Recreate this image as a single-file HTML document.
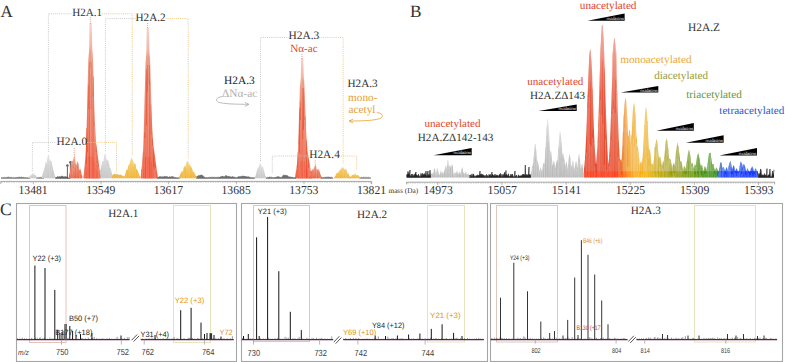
<!DOCTYPE html>
<html><head><meta charset="utf-8"><style>
html,body{margin:0;padding:0;background:#fff;width:785px;height:362px;overflow:hidden}
svg{display:block;text-rendering:geometricPrecision}
</style></head><body>
<svg width="785" height="362" viewBox="0 0 785 362">
<rect width="785" height="362" fill="#fff"/>
<defs><linearGradient id="gR" x1="0" y1="0" x2="0" y2="1"><stop offset="0" stop-color="#f6d2c8"/><stop offset="0.14" stop-color="#f2b8a8"/><stop offset="0.2" stop-color="#ee9e88"/><stop offset="0.4" stop-color="#ea8c74"/><stop offset="0.7" stop-color="#ea8068"/><stop offset="0.88" stop-color="#ec7054"/><stop offset="1" stop-color="#ee6040"/></linearGradient><linearGradient id="gRs" x1="0" y1="0" x2="0" y2="1"><stop offset="0" stop-color="#f2b4a2"/><stop offset="0.5" stop-color="#ee9078"/><stop offset="0.85" stop-color="#ec7458"/><stop offset="1" stop-color="#ee5a3a"/></linearGradient><linearGradient id="gG" x1="0" y1="0" x2="0" y2="1"><stop offset="0" stop-color="#e4e4e4"/><stop offset="0.5" stop-color="#d0d0d0"/><stop offset="1" stop-color="#c2c2c2"/></linearGradient><linearGradient id="gY" x1="0" y1="0" x2="0" y2="1"><stop offset="0" stop-color="#f8dc98"/><stop offset="0.5" stop-color="#f2c050"/><stop offset="1" stop-color="#efae28"/></linearGradient><linearGradient id="bS" gradientUnits="userSpaceOnUse" x1="580" y1="0" x2="760" y2="0"><stop offset="0" stop-color="#fa2a08"/><stop offset="0.2" stop-color="#fc3008"/><stop offset="0.25" stop-color="#ff6a00"/><stop offset="0.3" stop-color="#ffa000"/><stop offset="0.367" stop-color="#f8b000"/><stop offset="0.422" stop-color="#c8a800"/><stop offset="0.5" stop-color="#a09c00"/><stop offset="0.6" stop-color="#6e9400"/><stop offset="0.7" stop-color="#409010"/><stop offset="0.756" stop-color="#389018"/><stop offset="0.772" stop-color="#2060c0"/><stop offset="0.789" stop-color="#1438ff"/><stop offset="1" stop-color="#1438ff"/></linearGradient><linearGradient id="wH" gradientUnits="userSpaceOnUse" x1="600" y1="0" x2="760" y2="0"><stop offset="0" stop-color="#fff" stop-opacity="0"/><stop offset="0.2" stop-color="#fff" stop-opacity="0.1"/><stop offset="0.4" stop-color="#fff" stop-opacity="0.22"/><stop offset="1" stop-color="#fff" stop-opacity="0.25"/></linearGradient><linearGradient id="bH" gradientUnits="userSpaceOnUse" x1="580" y1="0" x2="760" y2="0"><stop offset="0" stop-color="#e4442a"/><stop offset="0.2" stop-color="#e64628"/><stop offset="0.222" stop-color="#ec6024"/><stop offset="0.256" stop-color="#f09a2c"/><stop offset="0.3" stop-color="#f2ae30"/><stop offset="0.367" stop-color="#f0b632"/><stop offset="0.422" stop-color="#d0b030"/><stop offset="0.478" stop-color="#b0a830"/><stop offset="0.544" stop-color="#98a02e"/><stop offset="0.611" stop-color="#7a9e2c"/><stop offset="0.667" stop-color="#5c9a28"/><stop offset="0.756" stop-color="#4a9424"/><stop offset="0.772" stop-color="#3a7060"/><stop offset="0.789" stop-color="#2050e8"/><stop offset="1" stop-color="#1c48f0"/></linearGradient><linearGradient id="wV" gradientUnits="userSpaceOnUse" x1="0" y1="20" x2="0" y2="177"><stop offset="0" stop-color="#fff" stop-opacity="0.6"/><stop offset="0.25" stop-color="#fff" stop-opacity="0.4"/><stop offset="0.45" stop-color="#fff" stop-opacity="0.25"/><stop offset="0.8" stop-color="#fff" stop-opacity="0.1"/><stop offset="1" stop-color="#fff" stop-opacity="0"/></linearGradient></defs>
<line x1="0.60" y1="181.40" x2="371.40" y2="181.40" stroke="#9a9a9a" stroke-width="0.9" />
<line x1="0.80" y1="181.40" x2="0.80" y2="183.80" stroke="#9a9a9a" stroke-width="0.9" />
<line x1="371.20" y1="181.40" x2="371.20" y2="183.80" stroke="#9a9a9a" stroke-width="0.9" />
<line x1="1" y1="182.4" x2="371" y2="182.4" stroke="#b0b0b0" stroke-width="1.2" stroke-dasharray="0.45 1.25"/>
<line x1="33.30" y1="181.40" x2="33.30" y2="184.30" stroke="#999" stroke-width="0.7" />
<text x="18.5" y="194.1" font-family="Liberation Serif" font-size="12.2" fill="#333" text-anchor="start" textLength="29.2" lengthAdjust="spacingAndGlyphs">13481</text>
<line x1="100.98" y1="181.40" x2="100.98" y2="184.30" stroke="#999" stroke-width="0.7" />
<text x="86.18" y="194.1" font-family="Liberation Serif" font-size="12.2" fill="#333" text-anchor="start" textLength="29.2" lengthAdjust="spacingAndGlyphs">13549</text>
<line x1="168.66" y1="181.40" x2="168.66" y2="184.30" stroke="#999" stroke-width="0.7" />
<text x="153.86" y="194.1" font-family="Liberation Serif" font-size="12.2" fill="#333" text-anchor="start" textLength="29.2" lengthAdjust="spacingAndGlyphs">13617</text>
<line x1="236.34" y1="181.40" x2="236.34" y2="184.30" stroke="#999" stroke-width="0.7" />
<text x="221.54000000000002" y="194.1" font-family="Liberation Serif" font-size="12.2" fill="#333" text-anchor="start" textLength="29.2" lengthAdjust="spacingAndGlyphs">13685</text>
<line x1="304.02" y1="181.40" x2="304.02" y2="184.30" stroke="#999" stroke-width="0.7" />
<text x="289.22" y="194.1" font-family="Liberation Serif" font-size="12.2" fill="#333" text-anchor="start" textLength="29.2" lengthAdjust="spacingAndGlyphs">13753</text>
<line x1="371.70" y1="181.40" x2="371.70" y2="184.30" stroke="#999" stroke-width="0.7" />
<text x="356.90000000000003" y="194.1" font-family="Liberation Serif" font-size="12.2" fill="#333" text-anchor="start" textLength="29.2" lengthAdjust="spacingAndGlyphs">13821</text>
<path d="M222.2,96.5 C216.5,97.3 214.8,100.3 218.3,102.2 C223.5,104 237,104.3 248.8,104.3" fill="none" stroke="#aaa" stroke-width="0.8"/>
<path d="M244.9,102.3 L248.8,104.3 L244.9,106.4" fill="none" stroke="#aaa" stroke-width="0.8"/>
<path d="M376.8,112.6 C384,113.5 384,117 379,118.8 C372,120.8 360,121 349.2,121" fill="none" stroke="#e8a030" stroke-width="0.8"/>
<path d="M353.2,119 L349.2,121 L353.2,123" fill="none" stroke="#e8a030" stroke-width="0.8"/>
<polygon points="1.00,178.70 1.00,177.70 1.40,177.62 1.80,177.66 2.20,177.73 2.60,177.53 3.00,177.78 3.40,177.61 3.80,177.65 4.20,177.25 4.60,177.41 5.00,177.72 5.40,177.54 5.80,177.58 6.20,177.55 6.60,177.25 7.00,177.25 7.40,177.24 7.80,177.36 8.20,176.90 8.60,177.07 9.00,177.46 9.40,177.54 9.80,177.27 10.20,177.28 10.60,177.14 11.00,177.71 11.40,177.36 11.80,177.40 12.20,177.63 12.60,177.56 13.00,177.75 13.40,177.39 13.80,177.77 14.20,177.83 14.60,177.59 15.00,177.55 15.40,177.55 15.80,177.57 16.20,177.61 16.60,177.58 17.00,177.08 17.40,177.28 17.80,177.43 18.20,177.01 18.60,177.24 19.00,177.37 19.40,177.04 19.80,177.36 20.20,177.32 20.60,177.24 21.00,177.23 21.40,176.96 21.80,177.08 22.20,177.51 22.60,177.04 23.00,177.56 23.40,177.19 23.80,177.43 24.20,177.36 24.60,177.69 25.00,177.57 25.40,177.62 25.80,177.60 26.20,177.71 26.60,177.69 27.00,177.87 27.40,177.59 27.80,177.76 28.20,177.74 28.60,177.89 29.00,177.87 29.40,177.83 29.80,177.83 30.00,178.70" fill="#666" fill-opacity="0.85" />
<polyline points="1.00,177.70 1.40,177.62 1.80,177.66 2.20,177.73 2.60,177.53 3.00,177.78 3.40,177.61 3.80,177.65 4.20,177.25 4.60,177.41 5.00,177.72 5.40,177.54 5.80,177.58 6.20,177.55 6.60,177.25 7.00,177.25 7.40,177.24 7.80,177.36 8.20,176.90 8.60,177.07 9.00,177.46 9.40,177.54 9.80,177.27 10.20,177.28 10.60,177.14 11.00,177.71 11.40,177.36 11.80,177.40 12.20,177.63 12.60,177.56 13.00,177.75 13.40,177.39 13.80,177.77 14.20,177.83 14.60,177.59 15.00,177.55 15.40,177.55 15.80,177.57 16.20,177.61 16.60,177.58 17.00,177.08 17.40,177.28 17.80,177.43 18.20,177.01 18.60,177.24 19.00,177.37 19.40,177.04 19.80,177.36 20.20,177.32 20.60,177.24 21.00,177.23 21.40,176.96 21.80,177.08 22.20,177.51 22.60,177.04 23.00,177.56 23.40,177.19 23.80,177.43 24.20,177.36 24.60,177.69 25.00,177.57 25.40,177.62 25.80,177.60 26.20,177.71 26.60,177.69 27.00,177.87 27.40,177.59 27.80,177.76 28.20,177.74 28.60,177.89 29.00,177.87 29.40,177.83 29.80,177.83" fill="none" stroke="#666" stroke-width="0.5"/>
<polygon points="36.00,178.70 36.00,177.61 36.40,177.53 36.80,177.58 37.20,177.85 37.60,177.60 38.00,177.36 38.40,177.62 38.80,177.42 39.20,177.37 39.60,177.57 40.00,177.22 40.40,177.29 40.80,177.23 41.20,177.47 41.60,177.28 42.00,177.49 42.40,177.47 42.80,177.63 43.20,177.60 43.60,177.73 44.00,177.48 44.00,178.70" fill="#777" fill-opacity="0.85" />
<polyline points="36.00,177.61 36.40,177.53 36.80,177.58 37.20,177.85 37.60,177.60 38.00,177.36 38.40,177.62 38.80,177.42 39.20,177.37 39.60,177.57 40.00,177.22 40.40,177.29 40.80,177.23 41.20,177.47 41.60,177.28 42.00,177.49 42.40,177.47 42.80,177.63 43.20,177.60 43.60,177.73 44.00,177.48" fill="none" stroke="#777" stroke-width="0.5"/>
<polygon points="55.00,178.70 55.00,177.59 55.40,177.44 55.80,177.34 56.20,177.40 56.60,177.36 57.00,177.08 57.40,176.74 57.80,176.58 58.20,177.10 58.60,176.88 59.00,177.14 59.40,176.53 59.80,176.79 60.20,176.89 60.60,176.98 61.00,176.24 61.40,176.22 61.80,176.44 62.20,176.81 62.60,176.14 63.00,176.33 63.40,177.00 63.80,176.90 64.20,177.03 64.60,176.67 65.00,176.76 65.40,176.36 65.80,177.24 66.20,176.83 66.60,176.98 67.00,177.30 67.40,177.74 67.80,177.75 68.20,177.67 68.60,177.91 69.00,177.72 69.40,177.66 69.80,177.55 70.00,178.70" fill="#444" fill-opacity="0.85" />
<polyline points="55.00,177.59 55.40,177.44 55.80,177.34 56.20,177.40 56.60,177.36 57.00,177.08 57.40,176.74 57.80,176.58 58.20,177.10 58.60,176.88 59.00,177.14 59.40,176.53 59.80,176.79 60.20,176.89 60.60,176.98 61.00,176.24 61.40,176.22 61.80,176.44 62.20,176.81 62.60,176.14 63.00,176.33 63.40,177.00 63.80,176.90 64.20,177.03 64.60,176.67 65.00,176.76 65.40,176.36 65.80,177.24 66.20,176.83 66.60,176.98 67.00,177.30 67.40,177.74 67.80,177.75 68.20,177.67 68.60,177.91 69.00,177.72 69.40,177.66 69.80,177.55" fill="none" stroke="#444" stroke-width="0.5"/>
<polygon points="157.00,178.70 157.00,177.46 157.40,177.45 157.80,177.47 158.20,177.10 158.60,177.19 159.00,176.78 159.40,176.69 159.80,176.79 160.20,176.63 160.60,176.45 161.00,177.14 161.40,176.72 161.80,177.05 162.20,176.73 162.60,176.82 163.00,177.06 163.40,176.79 163.80,176.80 164.20,176.94 164.60,176.26 165.00,176.55 165.40,176.63 165.80,176.30 166.20,176.94 166.60,176.48 167.00,176.82 167.40,176.66 167.80,176.75 168.20,176.97 168.60,177.34 169.00,176.98 169.40,176.82 169.80,176.78 170.20,176.84 170.60,177.10 171.00,176.94 171.40,176.71 171.80,176.53 172.20,176.98 172.60,176.48 173.00,177.00 173.40,176.72 173.80,177.17 174.20,177.21 174.60,177.44 175.00,177.27 175.40,177.46 175.80,177.57 176.20,177.72 176.60,177.69 177.00,177.48 177.40,177.77 177.80,177.82 178.20,177.55 178.60,177.80 179.00,177.76 179.40,177.77 179.50,178.70" fill="#555" fill-opacity="0.85" />
<polyline points="157.00,177.46 157.40,177.45 157.80,177.47 158.20,177.10 158.60,177.19 159.00,176.78 159.40,176.69 159.80,176.79 160.20,176.63 160.60,176.45 161.00,177.14 161.40,176.72 161.80,177.05 162.20,176.73 162.60,176.82 163.00,177.06 163.40,176.79 163.80,176.80 164.20,176.94 164.60,176.26 165.00,176.55 165.40,176.63 165.80,176.30 166.20,176.94 166.60,176.48 167.00,176.82 167.40,176.66 167.80,176.75 168.20,176.97 168.60,177.34 169.00,176.98 169.40,176.82 169.80,176.78 170.20,176.84 170.60,177.10 171.00,176.94 171.40,176.71 171.80,176.53 172.20,176.98 172.60,176.48 173.00,177.00 173.40,176.72 173.80,177.17 174.20,177.21 174.60,177.44 175.00,177.27 175.40,177.46 175.80,177.57 176.20,177.72 176.60,177.69 177.00,177.48 177.40,177.77 177.80,177.82 178.20,177.55 178.60,177.80 179.00,177.76 179.40,177.77" fill="none" stroke="#555" stroke-width="0.5"/>
<polygon points="196.00,178.70 196.00,177.09 196.40,177.12 196.80,176.38 197.20,176.28 197.60,176.28 198.00,176.12 198.40,175.89 198.80,175.31 199.20,175.55 199.60,175.43 200.00,175.83 200.40,175.23 200.80,174.88 201.20,174.98 201.60,175.00 202.00,174.99 202.40,175.80 202.80,176.10 203.20,175.87 203.60,176.66 204.00,177.09 204.40,176.90 204.80,177.26 205.20,177.41 205.60,177.77 206.00,177.42 206.40,177.61 206.80,177.54 207.20,177.54 207.60,177.79 208.00,177.80 208.40,177.49 208.80,177.56 209.20,177.64 209.60,177.13 210.00,177.32 210.40,177.38 210.80,177.25 211.20,177.38 211.60,177.29 212.00,177.38 212.40,177.09 212.80,177.44 213.20,177.23 213.60,177.56 214.00,177.50 214.40,177.15 214.80,177.24 215.20,177.43 215.60,177.44 216.00,177.24 216.40,177.45 216.80,177.32 217.20,177.39 217.60,177.17 218.00,177.22 218.40,177.22 218.80,177.25 219.20,177.23 219.60,177.37 220.00,176.81 220.40,176.89 220.80,176.68 221.20,176.53 221.60,176.63 222.00,176.12 222.40,176.30 222.80,176.26 223.20,176.34 223.60,176.74 224.00,176.96 224.40,176.63 224.80,176.44 225.20,176.17 225.60,175.60 226.00,175.45 226.40,175.77 226.80,175.80 227.20,176.43 227.60,176.48 228.00,176.54 228.40,176.32 228.80,176.02 229.20,176.47 229.60,176.79 230.00,176.52 230.40,176.80 230.80,177.01 231.20,177.04 231.60,176.91 232.00,176.71 232.40,176.74 232.80,176.38 233.20,177.10 233.60,177.10 234.00,176.99 234.40,177.12 234.80,177.27 235.20,177.15 235.60,177.54 236.00,177.44 236.40,177.68 236.80,177.49 237.20,177.28 237.60,177.29 238.00,177.05 238.40,176.76 238.80,176.34 239.20,176.63 239.60,176.85 240.00,176.33 240.40,176.78 240.80,176.40 241.20,176.44 241.60,176.38 242.00,176.53 242.40,175.79 242.80,176.81 243.20,176.34 243.60,175.93 244.00,176.02 244.40,176.44 244.80,176.02 245.20,176.42 245.60,176.78 246.00,176.32 246.40,177.18 246.80,176.56 247.20,176.76 247.60,177.02 248.00,176.76 248.40,176.72 248.80,177.11 249.20,176.83 249.60,177.25 250.00,177.34 250.40,177.66 250.80,177.43 251.20,177.53 251.60,177.64 252.00,177.66 252.40,177.82 252.80,177.59 253.20,177.86 253.60,177.68 254.00,177.87 254.40,177.68 254.80,177.53 255.00,178.70" fill="#555" fill-opacity="0.85" />
<polyline points="196.00,177.09 196.40,177.12 196.80,176.38 197.20,176.28 197.60,176.28 198.00,176.12 198.40,175.89 198.80,175.31 199.20,175.55 199.60,175.43 200.00,175.83 200.40,175.23 200.80,174.88 201.20,174.98 201.60,175.00 202.00,174.99 202.40,175.80 202.80,176.10 203.20,175.87 203.60,176.66 204.00,177.09 204.40,176.90 204.80,177.26 205.20,177.41 205.60,177.77 206.00,177.42 206.40,177.61 206.80,177.54 207.20,177.54 207.60,177.79 208.00,177.80 208.40,177.49 208.80,177.56 209.20,177.64 209.60,177.13 210.00,177.32 210.40,177.38 210.80,177.25 211.20,177.38 211.60,177.29 212.00,177.38 212.40,177.09 212.80,177.44 213.20,177.23 213.60,177.56 214.00,177.50 214.40,177.15 214.80,177.24 215.20,177.43 215.60,177.44 216.00,177.24 216.40,177.45 216.80,177.32 217.20,177.39 217.60,177.17 218.00,177.22 218.40,177.22 218.80,177.25 219.20,177.23 219.60,177.37 220.00,176.81 220.40,176.89 220.80,176.68 221.20,176.53 221.60,176.63 222.00,176.12 222.40,176.30 222.80,176.26 223.20,176.34 223.60,176.74 224.00,176.96 224.40,176.63 224.80,176.44 225.20,176.17 225.60,175.60 226.00,175.45 226.40,175.77 226.80,175.80 227.20,176.43 227.60,176.48 228.00,176.54 228.40,176.32 228.80,176.02 229.20,176.47 229.60,176.79 230.00,176.52 230.40,176.80 230.80,177.01 231.20,177.04 231.60,176.91 232.00,176.71 232.40,176.74 232.80,176.38 233.20,177.10 233.60,177.10 234.00,176.99 234.40,177.12 234.80,177.27 235.20,177.15 235.60,177.54 236.00,177.44 236.40,177.68 236.80,177.49 237.20,177.28 237.60,177.29 238.00,177.05 238.40,176.76 238.80,176.34 239.20,176.63 239.60,176.85 240.00,176.33 240.40,176.78 240.80,176.40 241.20,176.44 241.60,176.38 242.00,176.53 242.40,175.79 242.80,176.81 243.20,176.34 243.60,175.93 244.00,176.02 244.40,176.44 244.80,176.02 245.20,176.42 245.60,176.78 246.00,176.32 246.40,177.18 246.80,176.56 247.20,176.76 247.60,177.02 248.00,176.76 248.40,176.72 248.80,177.11 249.20,176.83 249.60,177.25 250.00,177.34 250.40,177.66 250.80,177.43 251.20,177.53 251.60,177.64 252.00,177.66 252.40,177.82 252.80,177.59 253.20,177.86 253.60,177.68 254.00,177.87 254.40,177.68 254.80,177.53" fill="none" stroke="#555" stroke-width="0.5"/>
<polygon points="266.00,178.70 266.00,177.61 266.40,177.64 266.80,177.69 267.20,177.32 267.60,177.63 268.00,177.55 268.40,177.48 268.80,177.46 269.20,177.17 269.60,177.12 270.00,177.34 270.40,177.18 270.80,177.51 271.20,177.31 271.60,177.18 272.00,177.47 272.40,177.40 272.80,177.79 273.20,177.38 273.60,177.65 274.00,177.60 274.40,177.58 274.80,177.51 275.20,177.35 275.60,177.44 276.00,177.00 276.40,177.17 276.80,176.91 277.20,176.80 277.60,176.73 278.00,176.65 278.40,176.66 278.80,176.71 279.20,177.02 279.60,177.04 280.00,177.40 280.40,177.08 280.80,177.52 281.20,177.49 281.60,177.18 282.00,177.29 282.40,176.84 282.80,175.81 283.20,176.16 283.60,174.78 284.00,175.79 284.40,175.44 284.80,175.28 285.20,174.93 285.60,175.75 286.00,175.71 286.40,175.64 286.80,175.09 287.20,176.00 287.60,175.69 288.00,176.23 288.40,176.74 288.80,176.99 289.20,176.71 289.60,176.89 290.00,176.94 290.40,176.95 290.80,177.32 291.20,177.07 291.60,177.04 292.00,177.53 292.40,177.51 292.80,177.32 293.20,177.33 293.60,177.64 294.00,177.64 294.40,177.68 294.80,177.53 295.20,177.86 295.60,177.80 296.00,177.74 296.00,178.70" fill="#555" fill-opacity="0.85" />
<polyline points="266.00,177.61 266.40,177.64 266.80,177.69 267.20,177.32 267.60,177.63 268.00,177.55 268.40,177.48 268.80,177.46 269.20,177.17 269.60,177.12 270.00,177.34 270.40,177.18 270.80,177.51 271.20,177.31 271.60,177.18 272.00,177.47 272.40,177.40 272.80,177.79 273.20,177.38 273.60,177.65 274.00,177.60 274.40,177.58 274.80,177.51 275.20,177.35 275.60,177.44 276.00,177.00 276.40,177.17 276.80,176.91 277.20,176.80 277.60,176.73 278.00,176.65 278.40,176.66 278.80,176.71 279.20,177.02 279.60,177.04 280.00,177.40 280.40,177.08 280.80,177.52 281.20,177.49 281.60,177.18 282.00,177.29 282.40,176.84 282.80,175.81 283.20,176.16 283.60,174.78 284.00,175.79 284.40,175.44 284.80,175.28 285.20,174.93 285.60,175.75 286.00,175.71 286.40,175.64 286.80,175.09 287.20,176.00 287.60,175.69 288.00,176.23 288.40,176.74 288.80,176.99 289.20,176.71 289.60,176.89 290.00,176.94 290.40,176.95 290.80,177.32 291.20,177.07 291.60,177.04 292.00,177.53 292.40,177.51 292.80,177.32 293.20,177.33 293.60,177.64 294.00,177.64 294.40,177.68 294.80,177.53 295.20,177.86 295.60,177.80 296.00,177.74" fill="none" stroke="#555" stroke-width="0.5"/>
<polygon points="321.00,178.70 321.00,177.60 321.40,177.68 321.80,177.63 322.20,177.66 322.60,177.59 323.00,177.52 323.40,177.49 323.80,177.53 324.20,177.56 324.60,177.19 325.00,177.18 325.40,177.36 325.80,176.95 326.20,176.79 326.60,177.35 327.00,176.97 327.40,177.00 327.80,177.17 328.20,176.95 328.60,177.04 329.00,177.12 329.40,177.24 329.80,177.11 330.20,177.35 330.60,177.11 331.00,177.00 331.40,177.25 331.80,177.36 332.20,177.69 332.60,177.39 333.00,177.68 333.00,178.70" fill="#666" fill-opacity="0.85" />
<polyline points="321.00,177.60 321.40,177.68 321.80,177.63 322.20,177.66 322.60,177.59 323.00,177.52 323.40,177.49 323.80,177.53 324.20,177.56 324.60,177.19 325.00,177.18 325.40,177.36 325.80,176.95 326.20,176.79 326.60,177.35 327.00,176.97 327.40,177.00 327.80,177.17 328.20,176.95 328.60,177.04 329.00,177.12 329.40,177.24 329.80,177.11 330.20,177.35 330.60,177.11 331.00,177.00 331.40,177.25 331.80,177.36 332.20,177.69 332.60,177.39 333.00,177.68" fill="none" stroke="#666" stroke-width="0.5"/>
<polygon points="359.50,178.70 359.50,177.53 359.90,177.79 360.30,177.76 360.70,177.66 361.10,177.32 361.50,177.34 361.90,177.13 362.30,177.40 362.70,177.45 363.10,177.24 363.50,176.95 363.90,177.17 364.30,177.56 364.70,177.34 365.10,177.54 365.50,177.26 365.90,177.19 366.30,177.41 366.70,177.16 367.10,177.39 367.50,177.41 367.90,177.12 368.30,177.15 368.70,177.35 369.10,177.45 369.50,177.67 369.90,177.41 370.30,177.46 370.70,177.63 371.00,178.70" fill="#777" fill-opacity="0.85" />
<polyline points="359.50,177.53 359.90,177.79 360.30,177.76 360.70,177.66 361.10,177.32 361.50,177.34 361.90,177.13 362.30,177.40 362.70,177.45 363.10,177.24 363.50,176.95 363.90,177.17 364.30,177.56 364.70,177.34 365.10,177.54 365.50,177.26 365.90,177.19 366.30,177.41 366.70,177.16 367.10,177.39 367.50,177.41 367.90,177.12 368.30,177.15 368.70,177.35 369.10,177.45 369.50,177.67 369.90,177.41 370.30,177.46 370.70,177.63" fill="none" stroke="#777" stroke-width="0.5"/>
<line x1="67.40" y1="166.50" x2="67.40" y2="178.20" stroke="#333" stroke-width="0.8" />
<line x1="70.40" y1="163.00" x2="70.40" y2="178.20" stroke="#333" stroke-width="0.8" />
<circle cx="67.4" cy="165.6" r="1.3" fill="#666"/><circle cx="70.4" cy="162.3" r="1.3" fill="#666"/>
<polygon points="27.50,178.20 27.50,178.10 27.85,178.04 28.20,177.85 28.55,177.68 28.90,177.29 29.25,176.86 29.60,176.34 29.95,175.66 30.30,175.52 30.65,175.27 31.00,175.04 31.35,175.02 31.70,174.19 32.05,174.19 32.40,173.30 32.75,173.64 33.10,172.95 33.45,173.44 33.80,174.01 34.15,173.97 34.50,174.84 34.85,174.57 35.20,174.56 35.55,174.89 35.90,175.73 36.25,176.14 36.60,176.50 36.95,176.88 37.30,177.36 37.65,177.67 38.00,177.85 38.35,178.01 38.70,178.10 39.00,178.20" fill="url(#gG)" fill-opacity="1" />
<line x1="29.58" y1="178.20" x2="29.58" y2="176.76" stroke="#f0f0f0" stroke-width="0.55" stroke-opacity="0.45"/>
<line x1="30.39" y1="178.20" x2="30.39" y2="175.20" stroke="#f0f0f0" stroke-width="0.55" stroke-opacity="0.45"/>
<line x1="31.61" y1="178.20" x2="31.61" y2="174.79" stroke="#f0f0f0" stroke-width="0.55" stroke-opacity="0.45"/>
<line x1="33.25" y1="178.20" x2="33.25" y2="174.68" stroke="#f0f0f0" stroke-width="0.55" stroke-opacity="0.45"/>
<line x1="33.98" y1="178.20" x2="33.98" y2="174.58" stroke="#f0f0f0" stroke-width="0.55" stroke-opacity="0.45"/>
<line x1="35.18" y1="178.20" x2="35.18" y2="175.48" stroke="#f0f0f0" stroke-width="0.55" stroke-opacity="0.45"/>
<line x1="36.29" y1="178.20" x2="36.29" y2="176.78" stroke="#f0f0f0" stroke-width="0.55" stroke-opacity="0.45"/>
<polygon points="42.00,178.20 42.00,176.44 42.35,175.55 42.70,174.07 43.05,172.70 43.40,171.47 43.75,170.80 44.10,169.34 44.45,168.46 44.80,166.23 45.15,165.52 45.50,162.62 45.85,161.21 46.20,162.95 46.55,163.81 46.90,160.93 47.25,158.44 47.60,157.13 47.95,154.93 48.30,155.28 48.65,154.35 49.00,155.56 49.35,158.06 49.70,160.36 50.05,161.59 50.40,159.60 50.75,160.74 51.10,160.58 51.45,160.81 51.80,162.51 52.15,164.70 52.50,166.43 52.85,167.48 53.20,169.94 53.55,171.22 53.90,172.22 54.25,173.87 54.60,174.84 54.95,176.13 55.30,176.74 55.50,178.20" fill="url(#gG)" fill-opacity="1" />
<line x1="42.37" y1="178.20" x2="42.37" y2="176.58" stroke="#f0f0f0" stroke-width="0.55" stroke-opacity="0.45"/>
<line x1="43.17" y1="178.20" x2="43.17" y2="172.14" stroke="#f0f0f0" stroke-width="0.55" stroke-opacity="0.45"/>
<line x1="44.41" y1="178.20" x2="44.41" y2="167.71" stroke="#f0f0f0" stroke-width="0.55" stroke-opacity="0.45"/>
<line x1="45.35" y1="178.20" x2="45.35" y2="162.56" stroke="#f0f0f0" stroke-width="0.55" stroke-opacity="0.45"/>
<line x1="46.23" y1="178.20" x2="46.23" y2="169.55" stroke="#f0f0f0" stroke-width="0.55" stroke-opacity="0.45"/>
<line x1="47.74" y1="178.20" x2="47.74" y2="156.56" stroke="#f0f0f0" stroke-width="0.55" stroke-opacity="0.45"/>
<line x1="49.13" y1="178.20" x2="49.13" y2="156.39" stroke="#f0f0f0" stroke-width="0.55" stroke-opacity="0.45"/>
<line x1="49.86" y1="178.20" x2="49.86" y2="163.27" stroke="#f0f0f0" stroke-width="0.55" stroke-opacity="0.45"/>
<line x1="51.06" y1="178.20" x2="51.06" y2="168.38" stroke="#f0f0f0" stroke-width="0.55" stroke-opacity="0.45"/>
<line x1="51.97" y1="178.20" x2="51.97" y2="164.30" stroke="#f0f0f0" stroke-width="0.55" stroke-opacity="0.45"/>
<line x1="53.50" y1="178.20" x2="53.50" y2="173.82" stroke="#f0f0f0" stroke-width="0.55" stroke-opacity="0.45"/>
<line x1="54.22" y1="178.20" x2="54.22" y2="174.48" stroke="#f0f0f0" stroke-width="0.55" stroke-opacity="0.45"/>
<line x1="55.16" y1="178.20" x2="55.16" y2="177.01" stroke="#f0f0f0" stroke-width="0.55" stroke-opacity="0.45"/>
<polygon points="98.50,178.20 98.50,175.82 98.85,174.88 99.20,173.02 99.55,171.71 99.90,170.99 100.25,168.91 100.60,169.25 100.95,168.58 101.30,166.30 101.65,163.78 102.00,163.87 102.35,160.86 102.70,161.76 103.05,160.85 103.40,162.06 103.75,159.05 104.10,156.36 104.45,154.58 104.80,154.77 105.15,153.62 105.50,152.85 105.85,154.80 106.20,157.52 106.55,159.37 106.90,159.99 107.25,160.35 107.60,159.44 107.95,160.73 108.30,160.81 108.65,161.02 109.00,164.76 109.35,164.62 109.70,168.46 110.05,167.02 110.40,168.53 110.75,169.27 111.10,170.29 111.45,171.90 111.80,172.91 112.15,174.90 112.50,175.50 112.85,176.42 113.00,178.20" fill="url(#gG)" fill-opacity="1" />
<line x1="98.87" y1="178.20" x2="98.87" y2="174.54" stroke="#f0f0f0" stroke-width="0.55" stroke-opacity="0.45"/>
<line x1="100.46" y1="178.20" x2="100.46" y2="171.29" stroke="#f0f0f0" stroke-width="0.55" stroke-opacity="0.45"/>
<line x1="102.08" y1="178.20" x2="102.08" y2="161.42" stroke="#f0f0f0" stroke-width="0.55" stroke-opacity="0.45"/>
<line x1="103.67" y1="178.20" x2="103.67" y2="160.29" stroke="#f0f0f0" stroke-width="0.55" stroke-opacity="0.45"/>
<line x1="104.93" y1="178.20" x2="104.93" y2="157.05" stroke="#f0f0f0" stroke-width="0.55" stroke-opacity="0.45"/>
<line x1="106.11" y1="178.20" x2="106.11" y2="161.33" stroke="#f0f0f0" stroke-width="0.55" stroke-opacity="0.45"/>
<line x1="107.32" y1="178.20" x2="107.32" y2="165.68" stroke="#f0f0f0" stroke-width="0.55" stroke-opacity="0.45"/>
<line x1="108.79" y1="178.20" x2="108.79" y2="167.04" stroke="#f0f0f0" stroke-width="0.55" stroke-opacity="0.45"/>
<line x1="109.72" y1="178.20" x2="109.72" y2="170.17" stroke="#f0f0f0" stroke-width="0.55" stroke-opacity="0.45"/>
<line x1="110.68" y1="178.20" x2="110.68" y2="169.54" stroke="#f0f0f0" stroke-width="0.55" stroke-opacity="0.45"/>
<line x1="111.92" y1="178.20" x2="111.92" y2="173.99" stroke="#f0f0f0" stroke-width="0.55" stroke-opacity="0.45"/>
<line x1="112.83" y1="178.20" x2="112.83" y2="176.90" stroke="#f0f0f0" stroke-width="0.55" stroke-opacity="0.45"/>
<polygon points="254.00,178.20 254.00,177.97 254.35,177.76 254.70,177.40 255.05,176.98 255.40,176.23 255.75,175.24 256.10,173.84 256.45,172.91 256.80,170.41 257.15,170.21 257.50,168.38 257.85,167.49 258.20,167.74 258.55,166.84 258.90,166.40 259.25,165.32 259.60,163.45 259.95,163.35 260.30,163.85 260.65,163.88 261.00,164.01 261.35,166.00 261.70,166.27 262.05,168.40 262.40,166.47 262.75,166.61 263.10,166.92 263.45,168.92 263.80,170.37 264.15,171.65 264.50,172.24 264.85,174.00 265.20,175.16 265.55,176.06 265.90,177.00 266.25,177.30 266.60,177.71 266.95,177.94 267.00,178.20" fill="url(#gG)" fill-opacity="1" />
<line x1="255.34" y1="178.20" x2="255.34" y2="176.79" stroke="#f0f0f0" stroke-width="0.55" stroke-opacity="0.45"/>
<line x1="257.02" y1="178.20" x2="257.02" y2="170.42" stroke="#f0f0f0" stroke-width="0.55" stroke-opacity="0.45"/>
<line x1="258.61" y1="178.20" x2="258.61" y2="167.05" stroke="#f0f0f0" stroke-width="0.55" stroke-opacity="0.45"/>
<line x1="259.87" y1="178.20" x2="259.87" y2="166.32" stroke="#f0f0f0" stroke-width="0.55" stroke-opacity="0.45"/>
<line x1="260.65" y1="178.20" x2="260.65" y2="168.41" stroke="#f0f0f0" stroke-width="0.55" stroke-opacity="0.45"/>
<line x1="262.06" y1="178.20" x2="262.06" y2="168.54" stroke="#f0f0f0" stroke-width="0.55" stroke-opacity="0.45"/>
<line x1="262.88" y1="178.20" x2="262.88" y2="168.95" stroke="#f0f0f0" stroke-width="0.55" stroke-opacity="0.45"/>
<line x1="263.67" y1="178.20" x2="263.67" y2="170.39" stroke="#f0f0f0" stroke-width="0.55" stroke-opacity="0.45"/>
<line x1="264.70" y1="178.20" x2="264.70" y2="173.18" stroke="#f0f0f0" stroke-width="0.55" stroke-opacity="0.45"/>
<line x1="265.81" y1="178.20" x2="265.81" y2="177.23" stroke="#f0f0f0" stroke-width="0.55" stroke-opacity="0.45"/>
<polygon points="112.00,178.20 112.00,176.00 113.00,174.50 114.50,173.80 116.00,174.60 117.50,174.00 119.00,175.00 120.50,174.60 122.00,175.50 124.00,176.50 124.00,178.20" fill="#efb84a" fill-opacity="1" />
<polygon points="123.50,178.20 123.50,177.69 123.85,177.35 124.20,176.86 124.55,175.85 124.90,175.28 125.25,174.33 125.60,172.48 125.95,171.49 126.30,170.02 126.65,169.92 127.00,169.41 127.35,170.10 127.70,168.76 128.05,166.78 128.40,165.45 128.75,165.05 129.10,164.97 129.45,164.22 129.80,163.31 130.15,162.18 130.50,159.77 130.85,159.49 131.20,158.87 131.55,158.14 131.90,157.13 132.25,157.98 132.60,160.28 132.95,160.39 133.30,161.33 133.65,163.29 134.00,163.73 134.35,163.46 134.70,163.70 135.05,163.09 135.40,163.68 135.75,164.77 136.10,167.67 136.45,169.15 136.80,169.30 137.15,169.44 137.50,170.76 137.85,170.38 138.20,172.50 138.55,173.31 138.90,174.02 139.25,175.30 139.60,175.91 139.95,176.60 140.30,177.28 140.50,178.20" fill="url(#gY)" fill-opacity="1" />
<line x1="124.84" y1="178.20" x2="124.84" y2="175.82" stroke="#fae6b0" stroke-width="0.55" stroke-opacity="0.45"/>
<line x1="125.72" y1="178.20" x2="125.72" y2="171.90" stroke="#fae6b0" stroke-width="0.55" stroke-opacity="0.45"/>
<line x1="126.74" y1="178.20" x2="126.74" y2="171.53" stroke="#fae6b0" stroke-width="0.55" stroke-opacity="0.45"/>
<line x1="128.13" y1="178.20" x2="128.13" y2="167.60" stroke="#fae6b0" stroke-width="0.55" stroke-opacity="0.45"/>
<line x1="129.28" y1="178.20" x2="129.28" y2="164.23" stroke="#fae6b0" stroke-width="0.55" stroke-opacity="0.45"/>
<line x1="130.19" y1="178.20" x2="130.19" y2="165.68" stroke="#fae6b0" stroke-width="0.55" stroke-opacity="0.45"/>
<line x1="131.34" y1="178.20" x2="131.34" y2="161.75" stroke="#fae6b0" stroke-width="0.55" stroke-opacity="0.45"/>
<line x1="132.90" y1="178.20" x2="132.90" y2="159.80" stroke="#fae6b0" stroke-width="0.55" stroke-opacity="0.45"/>
<line x1="133.97" y1="178.20" x2="133.97" y2="163.71" stroke="#fae6b0" stroke-width="0.55" stroke-opacity="0.45"/>
<line x1="135.52" y1="178.20" x2="135.52" y2="168.29" stroke="#fae6b0" stroke-width="0.55" stroke-opacity="0.45"/>
<line x1="137.03" y1="178.20" x2="137.03" y2="172.34" stroke="#fae6b0" stroke-width="0.55" stroke-opacity="0.45"/>
<line x1="137.80" y1="178.20" x2="137.80" y2="172.57" stroke="#fae6b0" stroke-width="0.55" stroke-opacity="0.45"/>
<line x1="138.85" y1="178.20" x2="138.85" y2="175.96" stroke="#fae6b0" stroke-width="0.55" stroke-opacity="0.45"/>
<polygon points="178.50,178.20 178.50,177.62 178.85,177.18 179.20,176.76 179.55,176.13 179.90,175.19 180.25,174.51 180.60,173.58 180.95,172.91 181.30,171.99 181.65,171.37 182.00,171.52 182.35,171.77 182.70,171.17 183.05,170.65 183.40,168.75 183.75,167.33 184.10,166.90 184.45,166.41 184.80,165.42 185.15,166.41 185.50,166.47 185.85,164.98 186.20,164.29 186.55,161.71 186.90,161.95 187.25,161.42 187.60,160.47 187.95,161.38 188.30,160.82 188.65,162.47 189.00,163.48 189.35,164.15 189.70,164.90 190.05,165.90 190.40,165.11 190.75,165.85 191.10,167.40 191.45,167.20 191.80,167.36 192.15,169.14 192.50,169.41 192.85,171.04 193.20,171.91 193.55,172.24 193.90,171.68 194.25,172.42 194.60,173.48 194.95,174.09 195.30,174.81 195.65,175.61 196.00,176.23 196.35,176.84 196.70,177.27 197.05,177.68 197.40,177.89 197.50,178.20" fill="url(#gY)" fill-opacity="1" />
<line x1="180.30" y1="178.20" x2="180.30" y2="175.91" stroke="#fae6b0" stroke-width="0.55" stroke-opacity="0.45"/>
<line x1="181.68" y1="178.20" x2="181.68" y2="172.34" stroke="#fae6b0" stroke-width="0.55" stroke-opacity="0.45"/>
<line x1="182.74" y1="178.20" x2="182.74" y2="171.40" stroke="#fae6b0" stroke-width="0.55" stroke-opacity="0.45"/>
<line x1="183.64" y1="178.20" x2="183.64" y2="169.03" stroke="#fae6b0" stroke-width="0.55" stroke-opacity="0.45"/>
<line x1="184.56" y1="178.20" x2="184.56" y2="171.87" stroke="#fae6b0" stroke-width="0.55" stroke-opacity="0.45"/>
<line x1="186.24" y1="178.20" x2="186.24" y2="164.51" stroke="#fae6b0" stroke-width="0.55" stroke-opacity="0.45"/>
<line x1="187.43" y1="178.20" x2="187.43" y2="166.50" stroke="#fae6b0" stroke-width="0.55" stroke-opacity="0.45"/>
<line x1="188.69" y1="178.20" x2="188.69" y2="163.77" stroke="#fae6b0" stroke-width="0.55" stroke-opacity="0.45"/>
<line x1="189.49" y1="178.20" x2="189.49" y2="165.97" stroke="#fae6b0" stroke-width="0.55" stroke-opacity="0.45"/>
<line x1="190.91" y1="178.20" x2="190.91" y2="170.07" stroke="#fae6b0" stroke-width="0.55" stroke-opacity="0.45"/>
<line x1="192.57" y1="178.20" x2="192.57" y2="170.15" stroke="#fae6b0" stroke-width="0.55" stroke-opacity="0.45"/>
<line x1="193.90" y1="178.20" x2="193.90" y2="174.31" stroke="#fae6b0" stroke-width="0.55" stroke-opacity="0.45"/>
<line x1="194.89" y1="178.20" x2="194.89" y2="174.04" stroke="#fae6b0" stroke-width="0.55" stroke-opacity="0.45"/>
<polygon points="332.50,178.20 332.50,178.16 332.85,178.11 333.20,178.04 333.55,177.92 333.90,177.75 334.25,177.43 334.60,177.01 334.95,176.48 335.30,175.84 335.65,175.43 336.00,174.29 336.35,173.80 336.70,173.49 337.05,172.76 337.40,172.19 337.75,173.03 338.10,173.33 338.45,172.54 338.80,171.66 339.15,171.01 339.50,170.67 339.85,169.46 340.20,169.76 340.55,169.03 340.90,169.85 341.25,168.24 341.60,167.45 341.95,167.76 342.30,167.58 342.65,167.40 343.00,166.89 343.35,166.88 343.70,168.04 344.05,168.57 344.40,169.80 344.75,169.83 345.10,168.28 345.45,168.72 345.80,169.53 346.15,169.36 346.50,170.12 346.85,170.91 347.20,172.67 347.55,173.55 347.90,173.51 348.25,172.96 348.60,174.07 348.95,174.64 349.30,175.60 349.65,176.28 350.00,177.07 350.35,177.52 350.70,177.73 351.00,178.20" fill="url(#gY)" fill-opacity="1" />
<line x1="335.40" y1="178.20" x2="335.40" y2="176.16" stroke="#fae6b0" stroke-width="0.55" stroke-opacity="0.45"/>
<line x1="337.01" y1="178.20" x2="337.01" y2="172.84" stroke="#fae6b0" stroke-width="0.55" stroke-opacity="0.45"/>
<line x1="337.78" y1="178.20" x2="337.78" y2="174.78" stroke="#fae6b0" stroke-width="0.55" stroke-opacity="0.45"/>
<line x1="339.31" y1="178.20" x2="339.31" y2="170.88" stroke="#fae6b0" stroke-width="0.55" stroke-opacity="0.45"/>
<line x1="340.74" y1="178.20" x2="340.74" y2="172.75" stroke="#fae6b0" stroke-width="0.55" stroke-opacity="0.45"/>
<line x1="342.42" y1="178.20" x2="342.42" y2="170.27" stroke="#fae6b0" stroke-width="0.55" stroke-opacity="0.45"/>
<line x1="343.33" y1="178.20" x2="343.33" y2="171.33" stroke="#fae6b0" stroke-width="0.55" stroke-opacity="0.45"/>
<line x1="344.18" y1="178.20" x2="344.18" y2="172.52" stroke="#fae6b0" stroke-width="0.55" stroke-opacity="0.45"/>
<line x1="345.44" y1="178.20" x2="345.44" y2="172.95" stroke="#fae6b0" stroke-width="0.55" stroke-opacity="0.45"/>
<line x1="346.57" y1="178.20" x2="346.57" y2="171.49" stroke="#fae6b0" stroke-width="0.55" stroke-opacity="0.45"/>
<line x1="347.29" y1="178.20" x2="347.29" y2="173.19" stroke="#fae6b0" stroke-width="0.55" stroke-opacity="0.45"/>
<line x1="348.39" y1="178.20" x2="348.39" y2="173.70" stroke="#fae6b0" stroke-width="0.55" stroke-opacity="0.45"/>
<line x1="349.57" y1="178.20" x2="349.57" y2="176.63" stroke="#fae6b0" stroke-width="0.55" stroke-opacity="0.45"/>
<polygon points="349.00,178.20 349.00,177.96 349.35,177.85 349.70,177.63 350.05,177.23 350.40,176.90 350.75,176.37 351.10,176.15 351.45,175.82 351.80,175.13 352.15,174.62 352.50,174.73 352.85,174.96 353.20,175.21 353.55,174.68 353.90,174.52 354.25,174.34 354.60,173.63 354.95,173.47 355.30,173.61 355.65,173.79 356.00,174.55 356.35,174.78 356.70,175.47 357.05,174.77 357.40,175.10 357.75,175.14 358.10,175.04 358.45,175.43 358.80,175.64 359.15,176.04 359.50,176.71 359.85,177.01 360.20,177.45 360.55,177.75 360.90,177.87 361.25,178.02 361.50,178.20" fill="url(#gY)" fill-opacity="1" />
<line x1="351.29" y1="178.20" x2="351.29" y2="176.11" stroke="#fae6b0" stroke-width="0.55" stroke-opacity="0.45"/>
<line x1="352.80" y1="178.20" x2="352.80" y2="176.44" stroke="#fae6b0" stroke-width="0.55" stroke-opacity="0.45"/>
<line x1="353.98" y1="178.20" x2="353.98" y2="174.54" stroke="#fae6b0" stroke-width="0.55" stroke-opacity="0.45"/>
<line x1="355.59" y1="178.20" x2="355.59" y2="173.55" stroke="#fae6b0" stroke-width="0.55" stroke-opacity="0.45"/>
<line x1="356.43" y1="178.20" x2="356.43" y2="175.30" stroke="#fae6b0" stroke-width="0.55" stroke-opacity="0.45"/>
<line x1="357.50" y1="178.20" x2="357.50" y2="176.15" stroke="#fae6b0" stroke-width="0.55" stroke-opacity="0.45"/>
<line x1="358.56" y1="178.20" x2="358.56" y2="175.78" stroke="#fae6b0" stroke-width="0.55" stroke-opacity="0.45"/>
<line x1="359.54" y1="178.20" x2="359.54" y2="177.12" stroke="#fae6b0" stroke-width="0.55" stroke-opacity="0.45"/>
<polygon points="69.00,178.20 69.00,175.76 69.35,174.47 69.70,172.89 70.05,170.67 70.40,168.54 70.75,165.70 71.10,163.93 71.45,161.64 71.80,160.22 72.15,161.09 72.50,161.11 72.85,160.47 73.20,160.18 73.55,158.00 73.90,156.63 74.25,154.46 74.60,155.42 74.95,156.55 75.30,159.93 75.65,162.44 76.00,164.57 76.35,164.94 76.70,164.04 77.05,161.47 77.40,161.49 77.75,161.95 78.10,162.80 78.45,162.70 78.80,165.70 79.15,169.03 79.50,170.23 79.85,169.49 80.20,169.07 80.55,168.89 80.90,171.23 81.25,172.54 81.60,174.20 81.95,174.92 82.30,176.30 82.50,178.20" fill="url(#gRs)" fill-opacity="1" />
<polygon points="69.16,178.2 69.56,173.66 69.86,173.66 70.26,178.2" fill="#e8502f" fill-opacity="0.75"/>
<polygon points="71.10,178.2 71.50,163.87 71.80,163.87 72.20,178.2" fill="#e8502f" fill-opacity="0.75"/>
<polygon points="73.27,178.2 73.67,164.61 73.97,164.61 74.37,178.2" fill="#e8502f" fill-opacity="0.75"/>
<polygon points="74.68,178.2 75.08,164.72 75.38,164.72 75.78,178.2" fill="#e8502f" fill-opacity="0.75"/>
<polygon points="76.65,178.2 77.05,163.43 77.35,163.43 77.75,178.2" fill="#e8502f" fill-opacity="0.75"/>
<polygon points="78.37,178.2 78.77,170.34 79.07,170.34 79.47,178.2" fill="#e8502f" fill-opacity="0.75"/>
<polygon points="80.12,178.2 80.52,170.79 80.82,170.79 81.22,178.2" fill="#e8502f" fill-opacity="0.75"/>
<line x1="69.02" y1="178.20" x2="69.02" y2="176.40" stroke="#f8c8bc" stroke-width="0.55" stroke-opacity="0.45"/>
<line x1="70.17" y1="178.20" x2="70.17" y2="172.36" stroke="#f8c8bc" stroke-width="0.55" stroke-opacity="0.45"/>
<line x1="71.47" y1="178.20" x2="71.47" y2="162.54" stroke="#f8c8bc" stroke-width="0.55" stroke-opacity="0.45"/>
<line x1="72.64" y1="178.20" x2="72.64" y2="168.32" stroke="#f8c8bc" stroke-width="0.55" stroke-opacity="0.45"/>
<line x1="73.65" y1="178.20" x2="73.65" y2="167.85" stroke="#f8c8bc" stroke-width="0.55" stroke-opacity="0.45"/>
<line x1="74.75" y1="178.20" x2="74.75" y2="164.89" stroke="#f8c8bc" stroke-width="0.55" stroke-opacity="0.45"/>
<line x1="76.35" y1="178.20" x2="76.35" y2="165.62" stroke="#f8c8bc" stroke-width="0.55" stroke-opacity="0.45"/>
<line x1="77.89" y1="178.20" x2="77.89" y2="168.33" stroke="#f8c8bc" stroke-width="0.55" stroke-opacity="0.45"/>
<line x1="79.39" y1="178.20" x2="79.39" y2="173.97" stroke="#f8c8bc" stroke-width="0.55" stroke-opacity="0.45"/>
<line x1="80.15" y1="178.20" x2="80.15" y2="172.03" stroke="#f8c8bc" stroke-width="0.55" stroke-opacity="0.45"/>
<line x1="81.10" y1="178.20" x2="81.10" y2="172.86" stroke="#f8c8bc" stroke-width="0.55" stroke-opacity="0.45"/>
<line x1="82.34" y1="178.20" x2="82.34" y2="176.39" stroke="#f8c8bc" stroke-width="0.55" stroke-opacity="0.45"/>
<polygon points="83.40,178.20 83.65,175.61 83.90,173.03 84.15,170.44 84.40,167.85 84.65,165.27 84.90,162.68 85.15,160.09 85.32,157.51 85.47,154.92 85.62,152.33 85.78,149.75 85.93,147.16 86.08,144.57 86.21,141.99 86.29,139.40 86.36,136.81 86.43,134.23 86.50,131.64 86.57,129.05 86.64,126.47 86.71,123.88 86.79,121.29 86.85,118.71 86.92,116.12 86.98,113.53 87.04,110.95 87.11,108.36 87.17,105.77 87.24,103.19 87.30,100.60 87.36,98.01 87.43,95.43 87.49,92.84 87.56,90.25 87.62,87.67 87.68,85.08 87.75,82.49 87.81,79.91 87.88,77.32 87.94,74.73 88.01,72.15 88.07,69.56 88.13,66.97 88.20,64.39 88.26,61.80 88.38,59.21 88.59,56.63 88.80,54.04 88.97,51.45 89.13,48.87 89.22,46.28 89.25,43.69 89.29,41.11 89.32,38.52 89.35,35.93 89.39,33.35 89.42,30.76 89.44,28.17 89.47,25.59 89.50,23.00 91.60,23.00 91.68,25.59 91.77,28.17 91.85,30.76 91.92,33.35 91.97,35.93 92.02,38.52 92.07,41.11 92.12,43.69 92.17,46.28 92.28,48.87 92.49,51.45 92.70,54.04 92.83,56.63 92.95,59.21 93.04,61.80 93.11,64.39 93.18,66.97 93.25,69.56 93.32,72.15 93.39,74.73 93.47,77.32 93.54,79.91 93.61,82.49 93.68,85.08 93.75,87.67 93.82,90.25 93.89,92.84 93.96,95.43 94.03,98.01 94.10,100.60 94.19,103.19 94.28,105.77 94.37,108.36 94.46,110.95 94.55,113.53 94.64,116.12 94.73,118.71 94.83,121.29 94.97,123.88 95.11,126.47 95.26,129.05 95.40,131.64 95.54,134.23 95.69,136.81 95.83,139.40 95.97,141.99 96.28,144.57 96.63,147.16 96.98,149.75 97.32,152.33 97.67,154.92 98.02,157.51 98.36,160.09 98.68,162.68 99.00,165.27 99.32,167.85 99.64,170.44 99.96,173.03 100.28,175.61 100.60,178.20" fill="url(#gR)" fill-opacity="1" />
<polygon points="84.09,178.2 84.54,169.35 85.04,169.35 85.49,178.2" fill="#ea4624" fill-opacity="0.85"/>
<polygon points="85.99,178.2 86.44,128.02 86.94,128.02 87.39,178.2" fill="#ea4624" fill-opacity="0.85"/>
<polygon points="87.51,178.2 87.96,84.94 88.46,84.94 88.91,178.2" fill="#ea4624" fill-opacity="0.85"/>
<polygon points="89.17,178.2 89.62,61.80 90.12,61.80 90.57,178.2" fill="#ea4624" fill-opacity="0.85"/>
<polygon points="91.06,178.2 91.51,61.80 92.01,61.80 92.46,178.2" fill="#ea4624" fill-opacity="0.85"/>
<polygon points="92.52,178.2 92.97,76.55 93.47,76.55 93.92,178.2" fill="#ea4624" fill-opacity="0.85"/>
<polygon points="94.00,178.2 94.45,138.57 94.95,138.57 95.40,178.2" fill="#ea4624" fill-opacity="0.85"/>
<polygon points="95.26,178.2 95.71,144.71 96.21,144.71 96.66,178.2" fill="#ea4624" fill-opacity="0.85"/>
<polygon points="96.91,178.2 97.36,161.45 97.86,161.45 98.31,178.2" fill="#ea4624" fill-opacity="0.85"/>
<polygon points="98.63,178.2 99.08,171.32 99.58,171.32 100.03,178.2" fill="#ea4624" fill-opacity="0.85"/>
<polygon points="85.83,178.20 86.50,176.39 86.40,174.58 86.21,172.77 86.45,170.96 86.86,169.15 86.93,167.34 87.46,165.53 87.19,163.71 88.06,161.90 87.52,160.09 87.76,158.28 88.32,156.47 93.14,156.47 93.78,158.28 93.74,160.09 94.03,161.90 95.05,163.71 95.19,165.53 95.18,167.34 95.90,169.15 96.11,170.96 97.26,172.77 97.23,174.58 97.64,176.39 98.37,178.20" fill="#f03a1c" fill-opacity="0.7" />
<line x1="84.66" y1="178.20" x2="84.66" y2="169.43" stroke="#f8c8bc" stroke-width="0.6" stroke-opacity="0.6"/>
<line x1="86.21" y1="178.20" x2="86.21" y2="163.63" stroke="#f8c8bc" stroke-width="0.6" stroke-opacity="0.6"/>
<line x1="87.42" y1="178.20" x2="87.42" y2="152.48" stroke="#f8c8bc" stroke-width="0.6" stroke-opacity="0.6"/>
<line x1="88.64" y1="178.20" x2="88.64" y2="109.22" stroke="#f8c8bc" stroke-width="0.6" stroke-opacity="0.6"/>
<line x1="90.30" y1="178.20" x2="90.30" y2="67.91" stroke="#f8c8bc" stroke-width="0.6" stroke-opacity="0.6"/>
<line x1="91.01" y1="178.20" x2="91.01" y2="109.60" stroke="#f8c8bc" stroke-width="0.6" stroke-opacity="0.6"/>
<line x1="91.82" y1="178.20" x2="91.82" y2="46.92" stroke="#f8c8bc" stroke-width="0.6" stroke-opacity="0.6"/>
<line x1="93.05" y1="178.20" x2="93.05" y2="96.65" stroke="#f8c8bc" stroke-width="0.6" stroke-opacity="0.6"/>
<line x1="94.25" y1="178.20" x2="94.25" y2="125.53" stroke="#f8c8bc" stroke-width="0.6" stroke-opacity="0.6"/>
<line x1="95.25" y1="178.20" x2="95.25" y2="138.03" stroke="#f8c8bc" stroke-width="0.6" stroke-opacity="0.6"/>
<line x1="96.06" y1="178.20" x2="96.06" y2="152.31" stroke="#f8c8bc" stroke-width="0.6" stroke-opacity="0.6"/>
<line x1="97.25" y1="178.20" x2="97.25" y2="162.62" stroke="#f8c8bc" stroke-width="0.6" stroke-opacity="0.6"/>
<line x1="98.45" y1="178.20" x2="98.45" y2="166.97" stroke="#f8c8bc" stroke-width="0.6" stroke-opacity="0.6"/>
<line x1="99.45" y1="178.20" x2="99.45" y2="171.64" stroke="#f8c8bc" stroke-width="0.6" stroke-opacity="0.6"/>
<line x1="100.23" y1="178.20" x2="100.23" y2="176.31" stroke="#f8c8bc" stroke-width="0.6" stroke-opacity="0.6"/>
<polygon points="140.60,178.20 140.85,175.69 141.10,173.17 141.35,170.66 141.60,168.15 141.85,165.63 142.10,163.12 142.35,160.61 142.52,158.09 142.67,155.58 142.82,153.07 142.98,150.55 143.13,148.04 143.28,145.53 143.41,143.01 143.49,140.50 143.56,137.99 143.63,135.47 143.70,132.96 143.77,130.45 143.84,127.93 143.91,125.42 143.99,122.91 144.05,120.39 144.12,117.88 144.18,115.37 144.24,112.85 144.31,110.34 144.37,107.83 144.44,105.31 144.50,102.80 144.56,100.29 144.63,97.77 144.69,95.26 144.76,92.75 144.82,90.23 144.88,87.72 144.95,85.21 145.01,82.69 145.08,80.18 145.14,77.67 145.21,75.15 145.27,72.64 145.33,70.13 145.40,67.61 145.46,65.10 145.58,62.59 145.79,60.07 146.00,57.56 146.17,55.05 146.33,52.53 146.42,50.02 146.45,47.51 146.49,44.99 146.52,42.48 146.55,39.97 146.59,37.45 146.62,34.94 146.64,32.43 146.67,29.91 146.70,27.40 148.80,27.40 148.88,29.91 148.97,32.43 149.05,34.94 149.12,37.45 149.17,39.97 149.22,42.48 149.27,44.99 149.32,47.51 149.37,50.02 149.48,52.53 149.69,55.05 149.90,57.56 150.03,60.07 150.15,62.59 150.24,65.10 150.31,67.61 150.38,70.13 150.45,72.64 150.52,75.15 150.59,77.67 150.67,80.18 150.74,82.69 150.81,85.21 150.88,87.72 150.95,90.23 151.02,92.75 151.09,95.26 151.16,97.77 151.23,100.29 151.30,102.80 151.39,105.31 151.48,107.83 151.57,110.34 151.66,112.85 151.75,115.37 151.84,117.88 151.93,120.39 152.03,122.91 152.17,125.42 152.31,127.93 152.46,130.45 152.60,132.96 152.74,135.47 152.89,137.99 153.03,140.50 153.17,143.01 153.48,145.53 153.83,148.04 154.18,150.55 154.52,153.07 154.87,155.58 155.22,158.09 155.56,160.61 155.88,163.12 156.20,165.63 156.52,168.15 156.84,170.66 157.16,173.17 157.48,175.69 157.80,178.20" fill="url(#gR)" fill-opacity="1" />
<polygon points="141.19,178.2 141.64,169.21 142.14,169.21 142.59,178.2" fill="#ea4624" fill-opacity="0.85"/>
<polygon points="142.64,178.2 143.09,151.57 143.59,151.57 144.04,178.2" fill="#ea4624" fill-opacity="0.85"/>
<polygon points="143.87,178.2 144.32,132.60 144.82,132.60 145.27,178.2" fill="#ea4624" fill-opacity="0.85"/>
<polygon points="145.63,178.2 146.08,69.17 146.58,69.17 147.03,178.2" fill="#ea4624" fill-opacity="0.85"/>
<polygon points="147.00,178.2 147.45,65.10 147.95,65.10 148.40,178.2" fill="#ea4624" fill-opacity="0.85"/>
<polygon points="148.84,178.2 149.29,65.10 149.79,65.10 150.24,178.2" fill="#ea4624" fill-opacity="0.85"/>
<polygon points="150.16,178.2 150.61,104.57 151.11,104.57 151.56,178.2" fill="#ea4624" fill-opacity="0.85"/>
<polygon points="151.74,178.2 152.19,138.76 152.69,138.76 153.14,178.2" fill="#ea4624" fill-opacity="0.85"/>
<polygon points="153.02,178.2 153.47,150.57 153.97,150.57 154.42,178.2" fill="#ea4624" fill-opacity="0.85"/>
<polygon points="154.65,178.2 155.10,165.99 155.60,165.99 156.05,178.2" fill="#ea4624" fill-opacity="0.85"/>
<polygon points="156.20,178.2 156.65,173.51 157.15,173.51 157.60,178.2" fill="#ea4624" fill-opacity="0.85"/>
<polygon points="143.56,178.20 143.73,176.44 143.14,174.68 143.66,172.92 143.69,171.16 143.93,169.40 144.69,167.64 145.04,165.88 144.57,164.13 144.81,162.37 145.03,160.61 145.21,158.85 145.27,157.09 150.86,157.09 150.96,158.85 150.82,160.61 151.92,162.37 152.50,164.13 151.94,165.88 153.04,167.64 153.60,169.40 152.60,171.16 154.04,172.92 153.52,174.68 154.15,176.44 153.69,178.20" fill="#f03a1c" fill-opacity="0.7" />
<line x1="141.71" y1="178.20" x2="141.71" y2="171.93" stroke="#f8c8bc" stroke-width="0.6" stroke-opacity="0.6"/>
<line x1="142.67" y1="178.20" x2="142.67" y2="162.13" stroke="#f8c8bc" stroke-width="0.6" stroke-opacity="0.6"/>
<line x1="143.93" y1="178.20" x2="143.93" y2="143.33" stroke="#f8c8bc" stroke-width="0.6" stroke-opacity="0.6"/>
<line x1="144.90" y1="178.20" x2="144.90" y2="137.98" stroke="#f8c8bc" stroke-width="0.6" stroke-opacity="0.6"/>
<line x1="146.54" y1="178.20" x2="146.54" y2="125.50" stroke="#f8c8bc" stroke-width="0.6" stroke-opacity="0.6"/>
<line x1="147.40" y1="178.20" x2="147.40" y2="91.73" stroke="#f8c8bc" stroke-width="0.6" stroke-opacity="0.6"/>
<line x1="148.65" y1="178.20" x2="148.65" y2="83.83" stroke="#f8c8bc" stroke-width="0.6" stroke-opacity="0.6"/>
<line x1="150.01" y1="178.20" x2="150.01" y2="85.41" stroke="#f8c8bc" stroke-width="0.6" stroke-opacity="0.6"/>
<line x1="151.13" y1="178.20" x2="151.13" y2="134.47" stroke="#f8c8bc" stroke-width="0.6" stroke-opacity="0.6"/>
<line x1="152.38" y1="178.20" x2="152.38" y2="145.58" stroke="#f8c8bc" stroke-width="0.6" stroke-opacity="0.6"/>
<line x1="153.45" y1="178.20" x2="153.45" y2="167.11" stroke="#f8c8bc" stroke-width="0.6" stroke-opacity="0.6"/>
<line x1="154.65" y1="178.20" x2="154.65" y2="169.60" stroke="#f8c8bc" stroke-width="0.6" stroke-opacity="0.6"/>
<line x1="155.43" y1="178.20" x2="155.43" y2="167.69" stroke="#f8c8bc" stroke-width="0.6" stroke-opacity="0.6"/>
<line x1="157.06" y1="178.20" x2="157.06" y2="174.24" stroke="#f8c8bc" stroke-width="0.6" stroke-opacity="0.6"/>
<polygon points="295.21,178.20 295.45,176.20 295.69,174.19 295.94,172.19 296.18,170.19 296.42,168.18 296.67,166.18 296.91,164.18 297.07,162.17 297.22,160.17 297.37,158.17 297.51,156.16 297.66,154.16 297.81,152.16 297.94,150.15 298.01,148.15 298.08,146.15 298.15,144.14 298.22,142.14 298.29,140.14 298.36,138.13 298.42,136.13 298.49,134.13 298.56,132.12 298.62,130.12 298.68,128.12 298.74,126.11 298.81,124.11 298.87,122.11 298.93,120.10 298.99,118.10 299.06,116.10 299.12,114.09 299.18,112.09 299.24,110.09 299.30,108.08 299.37,106.08 299.43,104.08 299.49,102.07 299.55,100.07 299.61,98.07 299.68,96.06 299.74,94.06 299.80,92.06 299.86,90.05 299.93,88.05 300.04,86.05 300.25,84.04 300.45,82.04 300.61,80.04 300.77,78.03 300.86,76.03 300.89,74.03 300.92,72.02 300.95,70.02 300.98,68.02 301.02,66.01 301.05,64.01 301.07,62.01 301.10,60.00 301.13,58.00 303.16,58.00 303.24,60.00 303.33,62.01 303.41,64.01 303.47,66.01 303.52,68.02 303.57,70.02 303.62,72.02 303.67,74.03 303.72,76.03 303.83,78.03 304.03,80.04 304.23,82.04 304.35,84.04 304.47,86.05 304.56,88.05 304.63,90.05 304.70,92.06 304.77,94.06 304.84,96.06 304.91,98.07 304.97,100.07 305.04,102.07 305.11,104.08 305.18,106.08 305.25,108.08 305.32,110.09 305.38,112.09 305.45,114.09 305.52,116.10 305.59,118.10 305.68,120.10 305.76,122.11 305.85,124.11 305.94,126.11 306.02,128.12 306.11,130.12 306.20,132.12 306.30,134.13 306.43,136.13 306.57,138.13 306.71,140.14 306.85,142.14 306.99,144.14 307.13,146.15 307.27,148.15 307.40,150.15 307.70,152.16 308.04,154.16 308.38,156.16 308.72,158.17 309.05,160.17 309.39,162.17 309.72,164.18 310.03,166.18 310.34,168.18 310.65,170.19 310.96,172.19 311.27,174.19 311.58,176.20 311.89,178.20" fill="url(#gR)" fill-opacity="1" />
<polygon points="295.51,178.2 295.96,170.31 296.46,170.31 296.91,178.2" fill="#ea4624" fill-opacity="0.85"/>
<polygon points="297.38,178.2 297.83,152.27 298.33,152.27 298.78,178.2" fill="#ea4624" fill-opacity="0.85"/>
<polygon points="298.69,178.2 299.14,108.28 299.64,108.28 300.09,178.2" fill="#ea4624" fill-opacity="0.85"/>
<polygon points="300.00,178.2 300.45,101.81 300.95,101.81 301.40,178.2" fill="#ea4624" fill-opacity="0.85"/>
<polygon points="301.36,178.2 301.81,88.05 302.31,88.05 302.76,178.2" fill="#ea4624" fill-opacity="0.85"/>
<polygon points="302.66,178.2 303.11,88.05 303.61,88.05 304.06,178.2" fill="#ea4624" fill-opacity="0.85"/>
<polygon points="304.42,178.2 304.87,116.45 305.37,116.45 305.82,178.2" fill="#ea4624" fill-opacity="0.85"/>
<polygon points="305.65,178.2 306.10,140.62 306.60,140.62 307.05,178.2" fill="#ea4624" fill-opacity="0.85"/>
<polygon points="307.34,178.2 307.79,158.51 308.29,158.51 308.74,178.2" fill="#ea4624" fill-opacity="0.85"/>
<polygon points="309.14,178.2 309.59,170.97 310.09,170.97 310.54,178.2" fill="#ea4624" fill-opacity="0.85"/>
<polygon points="310.80,178.2 311.25,176.53 311.75,176.53 312.20,178.2" fill="#ea4624" fill-opacity="0.85"/>
<polygon points="297.84,178.20 297.52,176.80 298.59,175.40 298.76,173.99 298.69,172.59 298.53,171.19 298.92,169.79 299.13,168.38 299.32,166.98 299.12,165.58 299.71,164.18 299.94,162.77 300.10,161.37 305.18,161.37 304.80,162.77 305.43,164.18 306.17,165.58 306.61,166.98 306.27,168.38 306.61,169.79 307.97,171.19 308.43,172.59 307.14,173.99 307.94,175.40 307.68,176.80 309.63,178.20" fill="#f03a1c" fill-opacity="0.7" />
<line x1="297.04" y1="178.20" x2="297.04" y2="167.62" stroke="#f8c8bc" stroke-width="0.6" stroke-opacity="0.6"/>
<line x1="298.74" y1="178.20" x2="298.74" y2="144.42" stroke="#f8c8bc" stroke-width="0.6" stroke-opacity="0.6"/>
<line x1="299.63" y1="178.20" x2="299.63" y2="152.92" stroke="#f8c8bc" stroke-width="0.6" stroke-opacity="0.6"/>
<line x1="300.36" y1="178.20" x2="300.36" y2="119.86" stroke="#f8c8bc" stroke-width="0.6" stroke-opacity="0.6"/>
<line x1="301.34" y1="178.20" x2="301.34" y2="72.56" stroke="#f8c8bc" stroke-width="0.6" stroke-opacity="0.6"/>
<line x1="302.78" y1="178.20" x2="302.78" y2="138.87" stroke="#f8c8bc" stroke-width="0.6" stroke-opacity="0.6"/>
<line x1="303.50" y1="178.20" x2="303.50" y2="129.65" stroke="#f8c8bc" stroke-width="0.6" stroke-opacity="0.6"/>
<line x1="304.70" y1="178.20" x2="304.70" y2="120.10" stroke="#f8c8bc" stroke-width="0.6" stroke-opacity="0.6"/>
<line x1="305.58" y1="178.20" x2="305.58" y2="125.10" stroke="#f8c8bc" stroke-width="0.6" stroke-opacity="0.6"/>
<line x1="307.25" y1="178.20" x2="307.25" y2="153.63" stroke="#f8c8bc" stroke-width="0.6" stroke-opacity="0.6"/>
<line x1="308.57" y1="178.20" x2="308.57" y2="167.81" stroke="#f8c8bc" stroke-width="0.6" stroke-opacity="0.6"/>
<line x1="309.52" y1="178.20" x2="309.52" y2="165.81" stroke="#f8c8bc" stroke-width="0.6" stroke-opacity="0.6"/>
<line x1="310.37" y1="178.20" x2="310.37" y2="172.60" stroke="#f8c8bc" stroke-width="0.6" stroke-opacity="0.6"/>
<polygon points="309.00,178.20 309.00,177.18 309.35,176.53 309.70,175.89 310.05,174.99 310.40,174.21 310.75,172.91 311.10,171.55 311.45,170.62 311.80,170.38 312.15,169.59 312.50,169.71 312.85,168.78 313.20,169.77 313.55,168.67 313.90,168.10 314.25,166.33 314.60,166.31 314.95,165.88 315.30,164.22 315.65,165.70 316.00,165.44 316.35,167.77 316.70,168.92 317.05,169.81 317.40,170.20 317.75,169.53 318.10,168.75 318.45,169.01 318.80,170.08 319.15,170.37 319.50,170.66 319.85,172.20 320.20,173.68 320.55,174.32 320.90,175.38 321.25,176.17 321.60,176.95 321.95,177.31 322.30,177.67 322.50,178.20" fill="url(#gRs)" fill-opacity="1" />
<polygon points="308.98,178.2 309.38,176.56 309.68,176.56 310.08,178.2" fill="#e8502f" fill-opacity="0.75"/>
<polygon points="310.64,178.2 311.04,170.77 311.34,170.77 311.74,178.2" fill="#e8502f" fill-opacity="0.75"/>
<polygon points="312.11,178.2 312.51,170.94 312.81,170.94 313.21,178.2" fill="#e8502f" fill-opacity="0.75"/>
<polygon points="313.51,178.2 313.91,168.05 314.21,168.05 314.61,178.2" fill="#e8502f" fill-opacity="0.75"/>
<polygon points="314.86,178.2 315.26,164.72 315.56,164.72 315.96,178.2" fill="#e8502f" fill-opacity="0.75"/>
<polygon points="316.93,178.2 317.33,169.51 317.63,169.51 318.03,178.2" fill="#e8502f" fill-opacity="0.75"/>
<polygon points="318.52,178.2 318.92,171.93 319.22,171.93 319.62,178.2" fill="#e8502f" fill-opacity="0.75"/>
<polygon points="320.27,178.2 320.67,176.39 320.97,176.39 321.37,178.2" fill="#e8502f" fill-opacity="0.75"/>
<line x1="309.34" y1="178.20" x2="309.34" y2="177.18" stroke="#f8c8bc" stroke-width="0.55" stroke-opacity="0.45"/>
<line x1="311.02" y1="178.20" x2="311.02" y2="173.84" stroke="#f8c8bc" stroke-width="0.55" stroke-opacity="0.45"/>
<line x1="312.52" y1="178.20" x2="312.52" y2="172.54" stroke="#f8c8bc" stroke-width="0.55" stroke-opacity="0.45"/>
<line x1="314.02" y1="178.20" x2="314.02" y2="167.01" stroke="#f8c8bc" stroke-width="0.55" stroke-opacity="0.45"/>
<line x1="315.20" y1="178.20" x2="315.20" y2="164.54" stroke="#f8c8bc" stroke-width="0.55" stroke-opacity="0.45"/>
<line x1="316.71" y1="178.20" x2="316.71" y2="170.18" stroke="#f8c8bc" stroke-width="0.55" stroke-opacity="0.45"/>
<line x1="318.05" y1="178.20" x2="318.05" y2="173.25" stroke="#f8c8bc" stroke-width="0.55" stroke-opacity="0.45"/>
<line x1="319.39" y1="178.20" x2="319.39" y2="174.51" stroke="#f8c8bc" stroke-width="0.55" stroke-opacity="0.45"/>
<line x1="320.25" y1="178.20" x2="320.25" y2="175.94" stroke="#f8c8bc" stroke-width="0.55" stroke-opacity="0.45"/>
<line x1="90.40" y1="17.30" x2="90.40" y2="24.00" stroke="#e07a60" stroke-width="0.7" stroke-dasharray="1 1"/>
<line x1="147.60" y1="23.00" x2="147.60" y2="28.50" stroke="#e07a60" stroke-width="0.7" stroke-dasharray="1 1"/>
<line x1="301.90" y1="54.00" x2="301.90" y2="59.00" stroke="#e07a60" stroke-width="0.7" stroke-dasharray="1 1"/>
<line x1="74.20" y1="148.00" x2="74.20" y2="155.00" stroke="#e07a60" stroke-width="0.7" stroke-dasharray="1 1"/>
<line x1="315.20" y1="160.30" x2="315.20" y2="165.00" stroke="#e07a60" stroke-width="0.7" stroke-dasharray="1 1"/>
<line x1="406.40" y1="182.20" x2="774.80" y2="182.20" stroke="#9a9a9a" stroke-width="0.9" />
<line x1="406.60" y1="182.20" x2="406.60" y2="184.40" stroke="#9a9a9a" stroke-width="0.9" />
<line x1="774.60" y1="182.20" x2="774.60" y2="184.40" stroke="#9a9a9a" stroke-width="0.9" />
<line x1="407" y1="183.2" x2="774.4" y2="183.2" stroke="#b0b0b0" stroke-width="1.2" stroke-dasharray="0.45 1.25"/>
<line x1="437.80" y1="182.20" x2="437.80" y2="184.90" stroke="#999" stroke-width="0.7" />
<text x="423.40000000000003" y="194.3" font-family="Liberation Serif" font-size="12.2" fill="#333" text-anchor="start" textLength="29.4" lengthAdjust="spacingAndGlyphs">14973</text>
<line x1="501.94" y1="182.20" x2="501.94" y2="184.90" stroke="#999" stroke-width="0.7" />
<text x="487.54" y="194.3" font-family="Liberation Serif" font-size="12.2" fill="#333" text-anchor="start" textLength="29.4" lengthAdjust="spacingAndGlyphs">15057</text>
<line x1="566.08" y1="182.20" x2="566.08" y2="184.90" stroke="#999" stroke-width="0.7" />
<text x="551.6800000000001" y="194.3" font-family="Liberation Serif" font-size="12.2" fill="#333" text-anchor="start" textLength="29.4" lengthAdjust="spacingAndGlyphs">15141</text>
<line x1="630.22" y1="182.20" x2="630.22" y2="184.90" stroke="#999" stroke-width="0.7" />
<text x="615.82" y="194.3" font-family="Liberation Serif" font-size="12.2" fill="#333" text-anchor="start" textLength="29.4" lengthAdjust="spacingAndGlyphs">15225</text>
<line x1="694.36" y1="182.20" x2="694.36" y2="184.90" stroke="#999" stroke-width="0.7" />
<text x="679.96" y="194.3" font-family="Liberation Serif" font-size="12.2" fill="#333" text-anchor="start" textLength="29.4" lengthAdjust="spacingAndGlyphs">15309</text>
<line x1="758.50" y1="182.20" x2="758.50" y2="184.90" stroke="#999" stroke-width="0.7" />
<text x="744.1" y="194.3" font-family="Liberation Serif" font-size="12.2" fill="#333" text-anchor="start" textLength="29.4" lengthAdjust="spacingAndGlyphs">15393</text>
<polygon points="406.50,177.70 406.50,176.46 407.00,174.17 407.50,174.71 408.00,171.39 408.50,173.73 409.00,174.06 409.50,174.92 410.00,170.00 410.00,174.64 410.50,175.66 411.00,177.11 411.50,174.02 412.00,174.59 412.50,174.42 413.00,175.94 413.50,176.45 414.00,174.45 414.50,175.88 415.00,173.55 415.50,173.39 416.00,172.00 416.00,173.35 416.50,175.87 417.00,175.11 417.50,177.06 418.00,175.06 418.50,174.22 419.00,176.40 419.50,176.23 420.00,176.64 420.50,175.78 421.00,173.40 421.50,175.54 422.00,176.26 422.50,173.36 423.00,175.47 423.50,174.15 424.00,174.64 424.50,173.59 425.00,175.04 425.50,175.09 426.00,171.07 426.50,176.60 427.00,176.11 427.50,174.29 428.00,171.00 428.00,174.13 428.50,174.38 429.00,175.47 429.50,175.30 430.00,170.09 430.50,176.92 431.00,174.42 431.00,177.70" fill="#222" fill-opacity="1" />
<polyline points="406.50,176.46 407.00,174.17 407.50,174.71 408.00,171.39 408.50,173.73 409.00,174.06 409.50,174.92 410.00,170.00 410.00,174.64 410.50,175.66 411.00,177.11 411.50,174.02 412.00,174.59 412.50,174.42 413.00,175.94 413.50,176.45 414.00,174.45 414.50,175.88 415.00,173.55 415.50,173.39 416.00,172.00 416.00,173.35 416.50,175.87 417.00,175.11 417.50,177.06 418.00,175.06 418.50,174.22 419.00,176.40 419.50,176.23 420.00,176.64 420.50,175.78 421.00,173.40 421.50,175.54 422.00,176.26 422.50,173.36 423.00,175.47 423.50,174.15 424.00,174.64 424.50,173.59 425.00,175.04 425.50,175.09 426.00,171.07 426.50,176.60 427.00,176.11 427.50,174.29 428.00,171.00 428.00,174.13 428.50,174.38 429.00,175.47 429.50,175.30 430.00,170.09 430.50,176.92 431.00,174.42" fill="none" stroke="#222" stroke-width="0.6"/>
<polygon points="469.00,177.70 469.00,176.75 469.50,175.19 470.00,175.79 470.50,174.82 471.00,177.04 471.50,176.30 472.00,173.88 472.50,176.94 473.00,175.56 473.50,173.86 474.00,175.50 474.50,176.10 475.00,176.78 475.50,176.43 476.00,175.42 476.50,175.80 477.00,176.30 477.50,174.72 478.00,175.92 478.50,175.61 479.00,175.02 479.50,176.14 480.00,171.00 480.00,175.61 480.50,174.12 481.00,175.88 481.50,173.78 482.00,175.79 482.50,174.61 483.00,174.67 483.50,174.90 484.00,175.68 484.50,176.41 485.00,175.31 485.50,176.00 486.00,177.14 486.50,174.52 487.00,175.05 487.50,175.81 488.00,176.51 488.50,176.99 489.00,174.33 489.50,175.83 490.00,174.71 490.50,174.59 491.00,176.32 491.50,175.24 492.00,172.00 492.00,173.75 492.50,174.47 493.00,174.66 493.50,176.24 494.00,175.35 494.50,176.62 495.00,174.07 495.50,176.19 496.00,175.73 496.50,175.08 497.00,175.35 497.50,175.21 498.00,175.97 498.50,176.94 499.00,174.78 499.50,174.30 500.00,176.24 500.50,173.44 501.00,175.89 501.50,176.68 502.00,174.15 502.50,176.33 503.00,176.79 503.50,174.42 504.00,176.27 504.50,172.33 505.00,174.33 505.50,176.46 506.00,170.50 506.00,174.75 506.50,174.13 507.00,175.54 507.50,175.65 508.00,175.21 508.50,173.75 509.00,176.42 509.50,176.67 510.00,176.01 510.50,175.69 511.00,174.00 511.50,176.60 512.00,174.73 512.50,174.11 513.00,176.41 513.50,176.40 514.00,177.04 514.50,176.98 515.00,171.00 515.00,175.30 515.50,176.53 516.00,175.96 516.50,175.10 517.00,176.98 517.50,177.13 518.00,176.58 518.50,174.87 519.00,176.07 519.50,176.19 520.00,175.95 520.50,176.33 521.00,175.37 521.50,176.11 522.00,176.26 522.50,174.24 523.00,175.41 523.50,174.10 524.00,175.02 524.50,174.78 525.00,175.75 525.30,165.00 525.50,175.44 526.00,175.35 526.50,174.44 527.00,175.63 527.50,175.09 528.00,174.41 528.50,176.20 529.00,167.00 529.00,174.16 529.50,174.81 530.00,174.59 530.50,175.81 531.00,174.12 531.00,177.70" fill="#222" fill-opacity="1" />
<polyline points="469.00,176.75 469.50,175.19 470.00,175.79 470.50,174.82 471.00,177.04 471.50,176.30 472.00,173.88 472.50,176.94 473.00,175.56 473.50,173.86 474.00,175.50 474.50,176.10 475.00,176.78 475.50,176.43 476.00,175.42 476.50,175.80 477.00,176.30 477.50,174.72 478.00,175.92 478.50,175.61 479.00,175.02 479.50,176.14 480.00,171.00 480.00,175.61 480.50,174.12 481.00,175.88 481.50,173.78 482.00,175.79 482.50,174.61 483.00,174.67 483.50,174.90 484.00,175.68 484.50,176.41 485.00,175.31 485.50,176.00 486.00,177.14 486.50,174.52 487.00,175.05 487.50,175.81 488.00,176.51 488.50,176.99 489.00,174.33 489.50,175.83 490.00,174.71 490.50,174.59 491.00,176.32 491.50,175.24 492.00,172.00 492.00,173.75 492.50,174.47 493.00,174.66 493.50,176.24 494.00,175.35 494.50,176.62 495.00,174.07 495.50,176.19 496.00,175.73 496.50,175.08 497.00,175.35 497.50,175.21 498.00,175.97 498.50,176.94 499.00,174.78 499.50,174.30 500.00,176.24 500.50,173.44 501.00,175.89 501.50,176.68 502.00,174.15 502.50,176.33 503.00,176.79 503.50,174.42 504.00,176.27 504.50,172.33 505.00,174.33 505.50,176.46 506.00,170.50 506.00,174.75 506.50,174.13 507.00,175.54 507.50,175.65 508.00,175.21 508.50,173.75 509.00,176.42 509.50,176.67 510.00,176.01 510.50,175.69 511.00,174.00 511.50,176.60 512.00,174.73 512.50,174.11 513.00,176.41 513.50,176.40 514.00,177.04 514.50,176.98 515.00,171.00 515.00,175.30 515.50,176.53 516.00,175.96 516.50,175.10 517.00,176.98 517.50,177.13 518.00,176.58 518.50,174.87 519.00,176.07 519.50,176.19 520.00,175.95 520.50,176.33 521.00,175.37 521.50,176.11 522.00,176.26 522.50,174.24 523.00,175.41 523.50,174.10 524.00,175.02 524.50,174.78 525.00,175.75 525.30,165.00 525.50,175.44 526.00,175.35 526.50,174.44 527.00,175.63 527.50,175.09 528.00,174.41 528.50,176.20 529.00,167.00 529.00,174.16 529.50,174.81 530.00,174.59 530.50,175.81 531.00,174.12" fill="none" stroke="#222" stroke-width="0.6"/>
<polygon points="758.00,177.70 758.00,173.53 758.50,176.90 759.00,173.32 759.50,175.14 760.00,173.75 760.50,169.28 761.00,169.25 761.50,176.61 762.00,174.64 762.50,174.95 763.00,175.46 763.50,174.83 764.00,176.51 764.50,173.60 765.00,176.33 765.50,175.03 766.00,174.89 766.50,177.13 767.00,168.60 767.00,174.57 767.50,176.91 768.00,175.86 768.50,174.96 769.00,174.65 769.50,173.94 770.00,169.00 770.00,171.13 770.50,177.06 771.00,176.64 771.50,177.08 772.00,175.31 772.50,171.00 772.50,175.91 773.00,173.89 773.50,174.66 774.00,169.72 774.00,177.70" fill="#222" fill-opacity="1" />
<polyline points="758.00,173.53 758.50,176.90 759.00,173.32 759.50,175.14 760.00,173.75 760.50,169.28 761.00,169.25 761.50,176.61 762.00,174.64 762.50,174.95 763.00,175.46 763.50,174.83 764.00,176.51 764.50,173.60 765.00,176.33 765.50,175.03 766.00,174.89 766.50,177.13 767.00,168.60 767.00,174.57 767.50,176.91 768.00,175.86 768.50,174.96 769.00,174.65 769.50,173.94 770.00,169.00 770.00,171.13 770.50,177.06 771.00,176.64 771.50,177.08 772.00,175.31 772.50,171.00 772.50,175.91 773.00,173.89 773.50,174.66 774.00,169.72" fill="none" stroke="#222" stroke-width="0.6"/>
<polygon points="431.00,177.20 431.00,174.70 469.00,174.70 469.00,177.20" fill="#c4c4c4" fill-opacity="1" />
<polygon points="431.00,177.20 431.00,174.58 431.35,173.47 431.70,173.46 432.05,172.40 432.40,173.43 432.75,173.49 433.10,174.48 433.45,173.36 433.80,169.86 434.15,167.98 434.50,168.79 434.85,168.97 435.20,169.45 435.55,172.09 435.90,174.10 436.25,172.02 436.60,171.02 436.95,168.57 437.30,168.45 437.65,168.49 438.00,170.48 438.35,172.18 438.70,174.58 439.05,175.76 439.40,175.23 439.75,174.39 440.10,172.95 440.45,172.00 440.80,170.25 441.15,170.14 441.50,172.72 441.85,172.74 442.20,173.14 442.55,171.85 442.90,172.13 443.25,172.84 443.60,172.30 443.95,173.36 444.30,171.48 444.65,170.06 445.00,167.61 445.35,165.71 445.70,165.67 446.05,168.25 446.40,167.51 446.75,166.61 447.10,161.83 447.45,160.08 447.80,159.56 448.15,160.42 448.50,160.92 448.85,163.26 449.20,165.94 449.55,166.70 449.90,164.17 450.25,166.35 450.60,165.92 450.95,167.96 451.30,165.70 451.65,163.77 452.00,165.19 452.35,164.65 452.70,165.82 453.05,168.31 453.40,172.49 453.75,173.92 454.10,174.69 454.45,172.78 454.80,172.28 455.15,172.50 455.50,172.87 455.85,173.61 456.20,172.29 456.55,171.94 456.90,170.40 457.25,170.57 457.60,172.15 457.95,173.13 458.30,174.25 458.65,173.62 459.00,172.56 459.35,171.78 459.70,171.99 460.05,171.93 460.40,173.83 460.75,173.36 461.10,171.36 461.45,168.35 461.80,168.98 462.15,168.12 462.50,169.01 462.85,171.46 463.20,174.04 463.55,172.69 463.90,172.62 464.25,173.23 464.60,173.34 464.95,174.59 465.30,173.87 465.65,171.52 466.00,171.53 466.35,171.96 466.70,173.65 467.05,174.80 467.40,174.43 467.75,174.26 468.10,173.25 468.45,173.85 468.80,174.93 469.15,175.53 469.50,175.88 469.50,177.20" fill="url(#gG)" fill-opacity="1" />
<polygon points="431.54,177.2 431.94,173.75 432.24,173.75 432.64,177.2" fill="#a8a8a8" fill-opacity="0.75"/>
<polygon points="433.62,177.2 434.02,168.84 434.32,168.84 434.72,177.2" fill="#a8a8a8" fill-opacity="0.75"/>
<polygon points="435.46,177.2 435.86,174.91 436.16,174.91 436.56,177.2" fill="#a8a8a8" fill-opacity="0.75"/>
<polygon points="437.57,177.2 437.97,171.73 438.27,171.73 438.67,177.2" fill="#a8a8a8" fill-opacity="0.75"/>
<polygon points="439.67,177.2 440.07,174.27 440.37,174.27 440.77,177.2" fill="#a8a8a8" fill-opacity="0.75"/>
<polygon points="441.73,177.2 442.13,173.84 442.43,173.84 442.83,177.2" fill="#a8a8a8" fill-opacity="0.75"/>
<polygon points="443.89,177.2 444.29,170.02 444.59,170.02 444.99,177.2" fill="#a8a8a8" fill-opacity="0.75"/>
<polygon points="445.55,177.2 445.95,169.37 446.25,169.37 446.65,177.2" fill="#a8a8a8" fill-opacity="0.75"/>
<polygon points="446.97,177.2 447.37,165.57 447.67,165.57 448.07,177.2" fill="#a8a8a8" fill-opacity="0.75"/>
<polygon points="448.33,177.2 448.73,166.01 449.03,166.01 449.43,177.2" fill="#a8a8a8" fill-opacity="0.75"/>
<polygon points="449.88,177.2 450.28,166.62 450.58,166.62 450.98,177.2" fill="#a8a8a8" fill-opacity="0.75"/>
<polygon points="451.73,177.2 452.13,164.63 452.43,164.63 452.83,177.2" fill="#a8a8a8" fill-opacity="0.75"/>
<polygon points="453.43,177.2 453.83,175.30 454.13,175.30 454.53,177.2" fill="#a8a8a8" fill-opacity="0.75"/>
<polygon points="455.62,177.2 456.02,172.71 456.32,172.71 456.72,177.2" fill="#a8a8a8" fill-opacity="0.75"/>
<polygon points="457.25,177.2 457.65,173.59 457.95,173.59 458.35,177.2" fill="#a8a8a8" fill-opacity="0.75"/>
<polygon points="458.72,177.2 459.12,173.47 459.42,173.47 459.82,177.2" fill="#a8a8a8" fill-opacity="0.75"/>
<polygon points="460.20,177.2 460.60,174.16 460.90,174.16 461.30,177.2" fill="#a8a8a8" fill-opacity="0.75"/>
<polygon points="461.80,177.2 462.20,167.29 462.50,167.29 462.90,177.2" fill="#a8a8a8" fill-opacity="0.75"/>
<polygon points="463.10,177.2 463.50,172.31 463.80,172.31 464.20,177.2" fill="#a8a8a8" fill-opacity="0.75"/>
<polygon points="464.70,177.2 465.10,173.37 465.40,173.37 465.80,177.2" fill="#a8a8a8" fill-opacity="0.75"/>
<polygon points="466.89,177.2 467.29,174.64 467.59,174.64 467.99,177.2" fill="#a8a8a8" fill-opacity="0.75"/>
<polygon points="468.25,177.2 468.65,175.13 468.95,175.13 469.35,177.2" fill="#a8a8a8" fill-opacity="0.75"/>
<line x1="431.24" y1="177.20" x2="431.24" y2="175.14" stroke="#f0f0f0" stroke-width="0.55" stroke-opacity="0.45"/>
<line x1="432.88" y1="177.20" x2="432.88" y2="174.18" stroke="#f0f0f0" stroke-width="0.55" stroke-opacity="0.45"/>
<line x1="434.14" y1="177.20" x2="434.14" y2="169.03" stroke="#f0f0f0" stroke-width="0.55" stroke-opacity="0.45"/>
<line x1="435.58" y1="177.20" x2="435.58" y2="173.53" stroke="#f0f0f0" stroke-width="0.55" stroke-opacity="0.45"/>
<line x1="436.90" y1="177.20" x2="436.90" y2="167.76" stroke="#f0f0f0" stroke-width="0.55" stroke-opacity="0.45"/>
<line x1="438.20" y1="177.20" x2="438.20" y2="171.97" stroke="#f0f0f0" stroke-width="0.55" stroke-opacity="0.45"/>
<line x1="439.74" y1="177.20" x2="439.74" y2="174.96" stroke="#f0f0f0" stroke-width="0.55" stroke-opacity="0.45"/>
<line x1="441.12" y1="177.20" x2="441.12" y2="171.50" stroke="#f0f0f0" stroke-width="0.55" stroke-opacity="0.45"/>
<line x1="442.75" y1="177.20" x2="442.75" y2="172.71" stroke="#f0f0f0" stroke-width="0.55" stroke-opacity="0.45"/>
<line x1="444.27" y1="177.20" x2="444.27" y2="172.62" stroke="#f0f0f0" stroke-width="0.55" stroke-opacity="0.45"/>
<line x1="445.83" y1="177.20" x2="445.83" y2="171.57" stroke="#f0f0f0" stroke-width="0.55" stroke-opacity="0.45"/>
<line x1="446.59" y1="177.20" x2="446.59" y2="168.77" stroke="#f0f0f0" stroke-width="0.55" stroke-opacity="0.45"/>
<line x1="447.39" y1="177.20" x2="447.39" y2="168.03" stroke="#f0f0f0" stroke-width="0.55" stroke-opacity="0.45"/>
<line x1="448.25" y1="177.20" x2="448.25" y2="159.82" stroke="#f0f0f0" stroke-width="0.55" stroke-opacity="0.45"/>
<line x1="449.55" y1="177.20" x2="449.55" y2="171.11" stroke="#f0f0f0" stroke-width="0.55" stroke-opacity="0.45"/>
<line x1="450.63" y1="177.20" x2="450.63" y2="171.28" stroke="#f0f0f0" stroke-width="0.55" stroke-opacity="0.45"/>
<line x1="451.88" y1="177.20" x2="451.88" y2="169.79" stroke="#f0f0f0" stroke-width="0.55" stroke-opacity="0.45"/>
<line x1="453.26" y1="177.20" x2="453.26" y2="170.97" stroke="#f0f0f0" stroke-width="0.55" stroke-opacity="0.45"/>
<line x1="454.73" y1="177.20" x2="454.73" y2="173.48" stroke="#f0f0f0" stroke-width="0.55" stroke-opacity="0.45"/>
<line x1="455.44" y1="177.20" x2="455.44" y2="174.69" stroke="#f0f0f0" stroke-width="0.55" stroke-opacity="0.45"/>
<line x1="456.62" y1="177.20" x2="456.62" y2="172.38" stroke="#f0f0f0" stroke-width="0.55" stroke-opacity="0.45"/>
<line x1="457.38" y1="177.20" x2="457.38" y2="171.83" stroke="#f0f0f0" stroke-width="0.55" stroke-opacity="0.45"/>
<line x1="458.45" y1="177.20" x2="458.45" y2="175.58" stroke="#f0f0f0" stroke-width="0.55" stroke-opacity="0.45"/>
<line x1="459.94" y1="177.20" x2="459.94" y2="171.80" stroke="#f0f0f0" stroke-width="0.55" stroke-opacity="0.45"/>
<line x1="461.25" y1="177.20" x2="461.25" y2="172.99" stroke="#f0f0f0" stroke-width="0.55" stroke-opacity="0.45"/>
<line x1="462.34" y1="177.20" x2="462.34" y2="172.34" stroke="#f0f0f0" stroke-width="0.55" stroke-opacity="0.45"/>
<line x1="463.73" y1="177.20" x2="463.73" y2="172.41" stroke="#f0f0f0" stroke-width="0.55" stroke-opacity="0.45"/>
<line x1="464.54" y1="177.20" x2="464.54" y2="174.03" stroke="#f0f0f0" stroke-width="0.55" stroke-opacity="0.45"/>
<line x1="466.21" y1="177.20" x2="466.21" y2="172.63" stroke="#f0f0f0" stroke-width="0.55" stroke-opacity="0.45"/>
<line x1="467.47" y1="177.20" x2="467.47" y2="174.75" stroke="#f0f0f0" stroke-width="0.55" stroke-opacity="0.45"/>
<line x1="468.94" y1="177.20" x2="468.94" y2="175.46" stroke="#f0f0f0" stroke-width="0.55" stroke-opacity="0.45"/>
<polygon points="531.00,177.20 531.00,173.70 584.00,173.70 584.00,177.20" fill="#c4c4c4" fill-opacity="1" />
<polygon points="531.00,177.20 531.00,173.70 531.35,172.63 531.70,170.16 532.05,166.18 532.40,165.48 532.75,165.73 533.10,163.15 533.45,158.68 533.80,156.07 534.15,151.46 534.50,147.54 534.85,144.20 535.20,143.83 535.55,144.27 535.90,148.57 536.25,150.33 536.60,154.00 536.95,160.16 537.30,162.49 537.65,160.32 538.00,161.62 538.35,164.15 538.70,165.05 539.05,168.21 539.40,171.87 539.75,169.90 540.10,168.68 540.45,168.29 540.80,166.79 541.15,168.77 541.50,170.01 541.85,171.26 542.20,169.92 542.55,167.96 542.90,164.58 543.25,162.67 543.60,163.19 543.95,163.34 544.30,164.77 544.65,161.95 545.00,157.99 545.35,152.13 545.70,145.28 546.05,137.26 546.40,132.54 546.75,126.33 547.10,122.34 547.45,119.32 547.80,118.61 548.15,121.03 548.50,125.30 548.85,129.48 549.20,134.58 549.55,141.02 549.90,148.65 550.25,154.19 550.60,152.62 550.95,150.72 551.30,151.84 551.65,155.85 552.00,158.94 552.35,163.07 552.70,166.23 553.05,164.75 553.40,162.01 553.75,160.51 554.10,160.64 554.45,162.58 554.80,165.92 555.15,167.79 555.50,167.56 555.85,165.48 556.20,162.61 556.55,161.56 556.90,160.13 557.25,160.33 557.60,159.55 557.95,153.71 558.30,148.04 558.65,144.82 559.00,140.07 559.35,136.05 559.70,131.93 560.05,131.24 560.40,132.34 560.75,134.65 561.10,137.30 561.45,142.72 561.80,146.36 562.15,151.88 562.50,156.66 562.85,152.89 563.20,152.96 563.55,154.20 563.90,157.38 564.25,158.61 564.60,164.19 564.95,167.14 565.30,166.00 565.65,163.77 566.00,162.90 566.35,161.34 566.70,162.37 567.05,163.97 567.40,167.12 567.75,169.19 568.10,164.49 568.45,160.33 568.80,158.10 569.15,155.82 569.50,154.08 569.85,154.79 570.20,156.56 570.55,158.67 570.90,163.11 571.25,166.46 571.60,167.39 571.95,165.26 572.30,162.47 572.65,160.14 573.00,161.25 573.35,161.68 573.70,165.54 574.05,167.75 574.40,169.72 574.75,168.37 575.10,165.44 575.45,162.51 575.80,161.53 576.15,161.23 576.50,162.07 576.85,164.15 577.20,168.32 577.55,166.10 577.90,161.99 578.25,157.02 578.60,154.97 578.95,154.59 579.30,154.08 579.65,157.48 580.00,160.46 580.35,163.53 580.70,168.45 581.05,168.17 581.40,165.76 581.75,164.10 582.10,163.80 582.45,164.34 582.80,167.43 583.15,169.07 583.50,171.82 583.85,174.07 584.00,177.20" fill="url(#gG)" fill-opacity="1" />
<polygon points="531.02,177.2 531.42,171.12 531.72,171.12 532.12,177.2" fill="#a8a8a8" fill-opacity="0.75"/>
<polygon points="533.11,177.2 533.51,163.52 533.81,163.52 534.21,177.2" fill="#a8a8a8" fill-opacity="0.75"/>
<polygon points="535.08,177.2 535.48,157.49 535.78,157.49 536.18,177.2" fill="#a8a8a8" fill-opacity="0.75"/>
<polygon points="536.92,177.2 537.32,166.75 537.62,166.75 538.02,177.2" fill="#a8a8a8" fill-opacity="0.75"/>
<polygon points="538.91,177.2 539.31,171.04 539.61,171.04 540.01,177.2" fill="#a8a8a8" fill-opacity="0.75"/>
<polygon points="540.95,177.2 541.35,171.93 541.65,171.93 542.05,177.2" fill="#a8a8a8" fill-opacity="0.75"/>
<polygon points="543.02,177.2 543.42,168.60 543.72,168.60 544.12,177.2" fill="#a8a8a8" fill-opacity="0.75"/>
<polygon points="545.02,177.2 545.42,147.22 545.72,147.22 546.12,177.2" fill="#a8a8a8" fill-opacity="0.75"/>
<polygon points="546.45,177.2 546.85,126.17 547.15,126.17 547.55,177.2" fill="#a8a8a8" fill-opacity="0.75"/>
<polygon points="548.27,177.2 548.67,141.54 548.97,141.54 549.37,177.2" fill="#a8a8a8" fill-opacity="0.75"/>
<polygon points="550.12,177.2 550.52,151.39 550.82,151.39 551.22,177.2" fill="#a8a8a8" fill-opacity="0.75"/>
<polygon points="551.72,177.2 552.12,164.45 552.42,164.45 552.82,177.2" fill="#a8a8a8" fill-opacity="0.75"/>
<polygon points="553.46,177.2 553.86,163.11 554.16,163.11 554.56,177.2" fill="#a8a8a8" fill-opacity="0.75"/>
<polygon points="555.57,177.2 555.97,163.36 556.27,163.36 556.67,177.2" fill="#a8a8a8" fill-opacity="0.75"/>
<polygon points="557.19,177.2 557.59,161.96 557.89,161.96 558.29,177.2" fill="#a8a8a8" fill-opacity="0.75"/>
<polygon points="559.09,177.2 559.49,147.40 559.79,147.40 560.19,177.2" fill="#a8a8a8" fill-opacity="0.75"/>
<polygon points="560.55,177.2 560.95,142.64 561.25,142.64 561.65,177.2" fill="#a8a8a8" fill-opacity="0.75"/>
<polygon points="562.44,177.2 562.84,157.08 563.14,157.08 563.54,177.2" fill="#a8a8a8" fill-opacity="0.75"/>
<polygon points="563.78,177.2 564.18,159.47 564.48,159.47 564.88,177.2" fill="#a8a8a8" fill-opacity="0.75"/>
<polygon points="565.50,177.2 565.90,164.48 566.20,164.48 566.60,177.2" fill="#a8a8a8" fill-opacity="0.75"/>
<polygon points="567.33,177.2 567.73,169.35 568.03,169.35 568.43,177.2" fill="#a8a8a8" fill-opacity="0.75"/>
<polygon points="569.12,177.2 569.52,157.58 569.82,157.58 570.22,177.2" fill="#a8a8a8" fill-opacity="0.75"/>
<polygon points="571.28,177.2 571.68,165.40 571.98,165.40 572.38,177.2" fill="#a8a8a8" fill-opacity="0.75"/>
<polygon points="573.17,177.2 573.57,167.59 573.87,167.59 574.27,177.2" fill="#a8a8a8" fill-opacity="0.75"/>
<polygon points="574.90,177.2 575.30,166.32 575.60,166.32 576.00,177.2" fill="#a8a8a8" fill-opacity="0.75"/>
<polygon points="576.59,177.2 576.99,169.74 577.29,169.74 577.69,177.2" fill="#a8a8a8" fill-opacity="0.75"/>
<polygon points="578.68,177.2 579.08,158.68 579.38,158.68 579.78,177.2" fill="#a8a8a8" fill-opacity="0.75"/>
<polygon points="580.51,177.2 580.91,170.22 581.21,170.22 581.61,177.2" fill="#a8a8a8" fill-opacity="0.75"/>
<polygon points="582.14,177.2 582.54,167.76 582.84,167.76 583.24,177.2" fill="#a8a8a8" fill-opacity="0.75"/>
<line x1="531.05" y1="177.20" x2="531.05" y2="174.07" stroke="#f0f0f0" stroke-width="0.55" stroke-opacity="0.45"/>
<line x1="531.87" y1="177.20" x2="531.87" y2="167.68" stroke="#f0f0f0" stroke-width="0.55" stroke-opacity="0.45"/>
<line x1="532.86" y1="177.20" x2="532.86" y2="168.30" stroke="#f0f0f0" stroke-width="0.55" stroke-opacity="0.45"/>
<line x1="534.01" y1="177.20" x2="534.01" y2="162.32" stroke="#f0f0f0" stroke-width="0.55" stroke-opacity="0.45"/>
<line x1="535.51" y1="177.20" x2="535.51" y2="161.57" stroke="#f0f0f0" stroke-width="0.55" stroke-opacity="0.45"/>
<line x1="536.91" y1="177.20" x2="536.91" y2="158.31" stroke="#f0f0f0" stroke-width="0.55" stroke-opacity="0.45"/>
<line x1="537.99" y1="177.20" x2="537.99" y2="168.89" stroke="#f0f0f0" stroke-width="0.55" stroke-opacity="0.45"/>
<line x1="539.24" y1="177.20" x2="539.24" y2="171.92" stroke="#f0f0f0" stroke-width="0.55" stroke-opacity="0.45"/>
<line x1="540.17" y1="177.20" x2="540.17" y2="166.60" stroke="#f0f0f0" stroke-width="0.55" stroke-opacity="0.45"/>
<line x1="541.18" y1="177.20" x2="541.18" y2="168.28" stroke="#f0f0f0" stroke-width="0.55" stroke-opacity="0.45"/>
<line x1="542.67" y1="177.20" x2="542.67" y2="168.83" stroke="#f0f0f0" stroke-width="0.55" stroke-opacity="0.45"/>
<line x1="544.21" y1="177.20" x2="544.21" y2="166.52" stroke="#f0f0f0" stroke-width="0.55" stroke-opacity="0.45"/>
<line x1="545.09" y1="177.20" x2="545.09" y2="154.34" stroke="#f0f0f0" stroke-width="0.55" stroke-opacity="0.45"/>
<line x1="546.56" y1="177.20" x2="546.56" y2="132.92" stroke="#f0f0f0" stroke-width="0.55" stroke-opacity="0.45"/>
<line x1="548.08" y1="177.20" x2="548.08" y2="125.62" stroke="#f0f0f0" stroke-width="0.55" stroke-opacity="0.45"/>
<line x1="549.15" y1="177.20" x2="549.15" y2="151.75" stroke="#f0f0f0" stroke-width="0.55" stroke-opacity="0.45"/>
<line x1="550.59" y1="177.20" x2="550.59" y2="150.95" stroke="#f0f0f0" stroke-width="0.55" stroke-opacity="0.45"/>
<line x1="551.78" y1="177.20" x2="551.78" y2="161.44" stroke="#f0f0f0" stroke-width="0.55" stroke-opacity="0.45"/>
<line x1="553.27" y1="177.20" x2="553.27" y2="169.49" stroke="#f0f0f0" stroke-width="0.55" stroke-opacity="0.45"/>
<line x1="554.04" y1="177.20" x2="554.04" y2="165.88" stroke="#f0f0f0" stroke-width="0.55" stroke-opacity="0.45"/>
<line x1="555.70" y1="177.20" x2="555.70" y2="166.67" stroke="#f0f0f0" stroke-width="0.55" stroke-opacity="0.45"/>
<line x1="557.39" y1="177.20" x2="557.39" y2="168.23" stroke="#f0f0f0" stroke-width="0.55" stroke-opacity="0.45"/>
<line x1="558.31" y1="177.20" x2="558.31" y2="152.25" stroke="#f0f0f0" stroke-width="0.55" stroke-opacity="0.45"/>
<line x1="559.45" y1="177.20" x2="559.45" y2="138.15" stroke="#f0f0f0" stroke-width="0.55" stroke-opacity="0.45"/>
<line x1="561.05" y1="177.20" x2="561.05" y2="137.24" stroke="#f0f0f0" stroke-width="0.55" stroke-opacity="0.45"/>
<line x1="562.04" y1="177.20" x2="562.04" y2="161.79" stroke="#f0f0f0" stroke-width="0.55" stroke-opacity="0.45"/>
<line x1="563.14" y1="177.20" x2="563.14" y2="160.27" stroke="#f0f0f0" stroke-width="0.55" stroke-opacity="0.45"/>
<line x1="564.66" y1="177.20" x2="564.66" y2="165.85" stroke="#f0f0f0" stroke-width="0.55" stroke-opacity="0.45"/>
<line x1="565.76" y1="177.20" x2="565.76" y2="165.22" stroke="#f0f0f0" stroke-width="0.55" stroke-opacity="0.45"/>
<line x1="566.96" y1="177.20" x2="566.96" y2="164.63" stroke="#f0f0f0" stroke-width="0.55" stroke-opacity="0.45"/>
<line x1="567.93" y1="177.20" x2="567.93" y2="168.59" stroke="#f0f0f0" stroke-width="0.55" stroke-opacity="0.45"/>
<line x1="569.19" y1="177.20" x2="569.19" y2="158.07" stroke="#f0f0f0" stroke-width="0.55" stroke-opacity="0.45"/>
<line x1="570.35" y1="177.20" x2="570.35" y2="159.81" stroke="#f0f0f0" stroke-width="0.55" stroke-opacity="0.45"/>
<line x1="571.54" y1="177.20" x2="571.54" y2="166.98" stroke="#f0f0f0" stroke-width="0.55" stroke-opacity="0.45"/>
<line x1="572.87" y1="177.20" x2="572.87" y2="162.82" stroke="#f0f0f0" stroke-width="0.55" stroke-opacity="0.45"/>
<line x1="573.86" y1="177.20" x2="573.86" y2="166.50" stroke="#f0f0f0" stroke-width="0.55" stroke-opacity="0.45"/>
<line x1="575.37" y1="177.20" x2="575.37" y2="168.28" stroke="#f0f0f0" stroke-width="0.55" stroke-opacity="0.45"/>
<line x1="576.10" y1="177.20" x2="576.10" y2="164.24" stroke="#f0f0f0" stroke-width="0.55" stroke-opacity="0.45"/>
<line x1="577.32" y1="177.20" x2="577.32" y2="169.11" stroke="#f0f0f0" stroke-width="0.55" stroke-opacity="0.45"/>
<line x1="578.42" y1="177.20" x2="578.42" y2="156.44" stroke="#f0f0f0" stroke-width="0.55" stroke-opacity="0.45"/>
<line x1="579.51" y1="177.20" x2="579.51" y2="160.99" stroke="#f0f0f0" stroke-width="0.55" stroke-opacity="0.45"/>
<line x1="581.00" y1="177.20" x2="581.00" y2="171.28" stroke="#f0f0f0" stroke-width="0.55" stroke-opacity="0.45"/>
<line x1="582.16" y1="177.20" x2="582.16" y2="169.59" stroke="#f0f0f0" stroke-width="0.55" stroke-opacity="0.45"/>
<line x1="583.69" y1="177.20" x2="583.69" y2="174.27" stroke="#f0f0f0" stroke-width="0.55" stroke-opacity="0.45"/>
<polygon points="584.00,177.20 584.00,168.66 584.35,166.11 584.70,162.00 585.05,157.64 585.40,152.46 585.75,144.72 586.10,138.44 586.45,129.68 586.80,121.11 587.15,105.15 587.50,96.50 587.85,91.14 588.20,81.37 588.55,72.73 588.90,64.00 589.25,57.53 589.60,52.51 589.95,50.87 590.30,48.80 590.65,51.64 591.00,56.72 591.35,60.66 591.70,67.52 592.05,71.90 592.40,86.80 592.75,90.31 593.10,105.34 593.45,116.22 593.80,125.98 594.15,135.29 594.50,142.77 594.85,148.77 595.20,154.28 595.55,160.01 595.90,163.70 596.25,163.94 596.60,158.05 596.95,152.63 597.30,148.43 597.65,140.38 598.00,131.09 598.35,121.48 598.70,112.12 599.05,100.50 599.40,88.02 599.75,74.86 600.10,66.66 600.45,50.01 600.80,44.08 601.15,35.79 601.50,31.57 601.85,25.67 602.20,24.85 602.55,24.95 602.90,28.16 603.25,34.11 603.60,39.79 603.95,48.30 604.30,59.03 604.65,70.15 605.00,74.55 605.35,93.72 605.70,104.86 606.05,115.04 606.40,124.83 606.75,134.48 607.10,143.92 607.45,150.86 607.80,155.35 608.15,160.46 608.50,164.74 608.85,161.21 609.20,155.46 609.55,149.73 609.90,143.37 610.25,136.10 610.60,127.10 610.95,115.59 611.30,104.89 611.65,94.40 612.00,82.49 612.35,74.10 612.70,49.18 613.05,55.29 613.40,46.04 613.75,42.99 614.10,38.06 614.45,38.76 614.80,38.70 615.15,42.82 615.50,48.54 615.85,55.79 616.20,49.56 616.55,76.65 616.90,86.72 617.25,92.63 617.60,108.98 617.95,117.77 618.30,128.33 618.65,137.83 619.00,145.20 619.35,151.61 619.70,157.83 620.05,159.16 620.40,159.16 620.75,160.49 621.10,159.74 621.45,161.92 621.80,155.77 622.15,151.91 622.50,144.22 622.85,132.77 623.20,130.71 623.55,116.94 623.90,114.37 624.25,109.59 624.60,104.07 624.95,101.06 625.30,99.76 625.65,97.76 626.00,99.03 626.35,103.42 626.70,108.61 627.05,115.78 627.40,120.79 627.75,128.68 628.10,135.73 628.45,136.29 628.80,134.57 629.15,130.20 629.50,130.39 629.85,129.20 630.20,133.20 630.55,137.59 630.90,144.29 631.25,135.11 631.60,136.07 631.95,128.14 632.30,121.44 632.65,114.93 633.00,108.78 633.35,106.25 633.70,104.22 634.05,102.42 634.40,105.35 634.75,107.55 635.10,112.34 635.45,113.50 635.80,123.07 636.15,130.44 636.50,137.62 636.85,138.85 637.20,146.14 637.55,146.13 637.90,147.27 638.25,149.88 638.60,152.93 638.95,157.68 639.30,159.09 639.65,164.26 640.00,164.34 640.35,162.11 640.70,161.94 641.05,161.83 641.40,161.29 641.75,163.29 642.10,164.34 642.45,160.14 642.80,154.25 643.15,148.42 643.50,141.78 643.85,134.99 644.20,127.07 644.55,123.19 644.90,116.45 645.25,112.16 645.60,108.67 645.95,107.23 646.30,108.60 646.65,111.26 647.00,114.71 647.35,121.41 647.70,120.82 648.05,133.28 648.40,140.54 648.75,145.71 649.10,150.82 649.45,148.36 649.80,149.85 650.15,152.25 650.50,154.09 650.85,157.97 651.20,161.53 651.55,165.23 651.90,164.07 652.25,163.46 652.60,163.53 652.95,164.35 653.30,165.24 653.65,160.81 654.00,159.68 654.35,155.94 654.70,146.28 655.05,147.97 655.40,144.14 655.75,143.23 656.10,140.03 656.45,139.18 656.80,139.78 657.15,141.33 657.50,143.96 657.85,148.24 658.20,150.95 658.55,154.65 658.90,157.82 659.25,158.58 659.60,156.01 659.95,157.08 660.30,156.44 660.65,158.56 661.00,160.17 661.35,163.00 661.70,165.78 662.05,165.22 662.40,164.31 662.75,161.90 663.10,161.54 663.45,161.41 663.80,161.59 664.15,157.82 664.50,155.28 664.85,151.53 665.20,146.34 665.55,142.79 665.90,140.54 666.25,139.93 666.60,138.07 666.95,140.53 667.30,140.21 667.65,144.44 668.00,147.74 668.35,148.17 668.70,154.04 669.05,157.51 669.40,158.98 669.75,158.89 670.10,159.21 670.45,158.97 670.80,160.08 671.15,163.74 671.50,164.95 671.85,168.47 672.20,168.78 672.55,166.15 672.90,165.15 673.25,163.63 673.60,163.43 673.95,164.71 674.30,165.28 674.65,164.43 675.00,161.26 675.35,160.03 675.70,155.01 676.05,150.47 676.40,149.99 676.75,146.70 677.10,144.17 677.45,142.98 677.80,143.10 678.15,145.78 678.50,146.00 678.85,150.44 679.20,153.08 679.55,154.81 679.90,158.60 680.25,161.47 680.60,161.79 680.95,160.61 681.30,161.50 681.65,162.13 682.00,163.60 682.35,167.02 682.70,168.17 683.05,170.40 683.40,169.24 683.75,167.23 684.10,166.83 684.45,165.90 684.80,166.27 685.15,167.14 685.50,168.68 685.85,168.39 686.20,166.34 686.55,163.36 686.90,161.57 687.25,158.54 687.60,156.08 687.95,153.32 688.30,152.20 688.65,150.40 689.00,149.39 689.35,150.97 689.70,152.48 690.05,154.61 690.40,155.75 690.75,159.04 691.10,163.52 691.45,164.27 691.80,163.00 692.15,163.38 692.50,162.67 692.85,163.87 693.20,166.14 693.55,167.66 693.90,168.54 694.25,166.52 694.60,165.07 694.95,164.24 695.30,165.08 695.65,166.09 696.00,164.00 696.35,160.90 696.70,159.18 697.05,156.14 697.40,154.73 697.75,154.51 698.10,154.16 698.45,152.77 698.80,155.02 699.15,157.17 699.50,157.99 699.85,159.50 700.20,163.15 700.55,165.11 700.90,166.25 701.25,164.60 701.60,165.39 701.95,165.41 702.30,165.82 702.65,167.93 703.00,169.89 703.35,171.58 703.70,170.26 704.05,168.97 704.40,167.35 704.75,166.21 705.10,166.23 705.45,167.60 705.80,167.89 706.15,169.75 706.50,170.54 706.85,167.27 707.20,166.63 707.55,163.79 707.90,161.32 708.25,157.90 708.60,157.17 708.95,153.00 709.30,153.28 709.65,153.00 710.00,152.77 710.35,152.41 710.70,153.79 711.05,157.20 711.40,158.40 711.75,161.53 712.10,164.77 712.45,163.93 712.80,164.08 713.15,163.79 713.50,164.07 713.85,166.54 714.20,167.73 714.55,169.22 714.90,171.23 715.25,170.84 715.60,169.82 715.95,168.03 716.30,167.52 716.65,167.66 717.00,168.14 717.35,168.93 717.70,170.33 718.05,171.91 718.40,172.90 718.75,170.96 719.10,169.21 719.45,167.21 719.80,165.77 720.15,162.91 720.50,162.58 720.85,162.24 721.20,162.54 721.55,162.84 721.90,164.49 722.25,167.13 722.60,168.48 722.95,168.07 723.30,166.92 723.65,166.90 724.00,167.17 724.35,169.00 724.70,169.81 725.05,171.44 725.40,169.84 725.75,169.33 726.10,167.92 726.45,167.29 726.80,167.41 727.15,168.26 727.50,169.63 727.85,169.58 728.20,168.13 728.55,166.76 728.90,165.14 729.25,163.84 729.60,162.48 729.95,162.23 730.30,160.62 730.65,161.96 731.00,164.01 731.35,164.44 731.70,166.75 732.05,168.24 732.40,168.41 732.75,167.49 733.10,166.30 733.45,166.07 733.80,165.59 734.15,166.24 734.50,167.47 734.85,169.65 735.20,171.15 735.55,170.21 735.90,169.53 736.25,168.60 736.60,168.49 736.95,168.70 737.30,169.53 737.65,171.23 738.00,172.32 738.35,172.92 738.70,171.22 739.05,169.90 739.40,167.38 739.75,165.78 740.10,164.14 740.45,162.23 740.80,161.17 741.15,162.73 741.50,161.85 741.85,163.97 742.20,164.03 742.55,166.20 742.90,166.64 743.25,164.78 743.60,164.47 743.95,163.43 744.30,164.49 744.65,165.68 745.00,166.72 745.35,167.38 745.70,169.17 746.05,170.97 746.40,171.17 746.75,169.99 747.10,168.99 747.45,168.37 747.80,168.71 748.15,169.80 748.50,170.55 748.85,171.58 749.20,173.18 749.55,174.13 749.90,173.24 750.25,171.76 750.60,170.44 750.95,168.57 751.30,168.28 751.65,167.54 752.00,166.13 752.35,166.43 752.70,167.54 753.05,168.10 753.40,169.16 753.75,170.91 754.10,172.59 754.45,171.21 754.80,170.02 755.15,168.73 755.50,168.03 755.85,169.21 756.20,169.07 756.55,170.25 756.90,171.78 757.25,172.79 757.60,174.05 757.95,174.97 758.00,177.20" fill="url(#bH)" fill-opacity="1" />
<polygon points="584.00,177.20 584.00,168.66 584.35,166.11 584.70,162.00 585.05,157.64 585.40,152.46 585.75,144.72 586.10,138.44 586.45,129.68 586.80,121.11 587.15,105.15 587.50,96.50 587.85,91.14 588.20,81.37 588.55,72.73 588.90,64.00 589.25,57.53 589.60,52.51 589.95,50.87 590.30,48.80 590.65,51.64 591.00,56.72 591.35,60.66 591.70,67.52 592.05,71.90 592.40,86.80 592.75,90.31 593.10,105.34 593.45,116.22 593.80,125.98 594.15,135.29 594.50,142.77 594.85,148.77 595.20,154.28 595.55,160.01 595.90,163.70 596.25,163.94 596.60,158.05 596.95,152.63 597.30,148.43 597.65,140.38 598.00,131.09 598.35,121.48 598.70,112.12 599.05,100.50 599.40,88.02 599.75,74.86 600.10,66.66 600.45,50.01 600.80,44.08 601.15,35.79 601.50,31.57 601.85,25.67 602.20,24.85 602.55,24.95 602.90,28.16 603.25,34.11 603.60,39.79 603.95,48.30 604.30,59.03 604.65,70.15 605.00,74.55 605.35,93.72 605.70,104.86 606.05,115.04 606.40,124.83 606.75,134.48 607.10,143.92 607.45,150.86 607.80,155.35 608.15,160.46 608.50,164.74 608.85,161.21 609.20,155.46 609.55,149.73 609.90,143.37 610.25,136.10 610.60,127.10 610.95,115.59 611.30,104.89 611.65,94.40 612.00,82.49 612.35,74.10 612.70,49.18 613.05,55.29 613.40,46.04 613.75,42.99 614.10,38.06 614.45,38.76 614.80,38.70 615.15,42.82 615.50,48.54 615.85,55.79 616.20,49.56 616.55,76.65 616.90,86.72 617.25,92.63 617.60,108.98 617.95,117.77 618.30,128.33 618.65,137.83 619.00,145.20 619.35,151.61 619.70,157.83 620.05,159.16 620.40,159.16 620.75,160.49 621.10,159.74 621.45,161.92 621.80,155.77 622.15,151.91 622.50,144.22 622.85,132.77 623.20,130.71 623.55,116.94 623.90,114.37 624.25,109.59 624.60,104.07 624.95,101.06 625.30,99.76 625.65,97.76 626.00,99.03 626.35,103.42 626.70,108.61 627.05,115.78 627.40,120.79 627.75,128.68 628.10,135.73 628.45,136.29 628.80,134.57 629.15,130.20 629.50,130.39 629.85,129.20 630.20,133.20 630.55,137.59 630.90,144.29 631.25,135.11 631.60,136.07 631.95,128.14 632.30,121.44 632.65,114.93 633.00,108.78 633.35,106.25 633.70,104.22 634.05,102.42 634.40,105.35 634.75,107.55 635.10,112.34 635.45,113.50 635.80,123.07 636.15,130.44 636.50,137.62 636.85,138.85 637.20,146.14 637.55,146.13 637.90,147.27 638.25,149.88 638.60,152.93 638.95,157.68 639.30,159.09 639.65,164.26 640.00,164.34 640.35,162.11 640.70,161.94 641.05,161.83 641.40,161.29 641.75,163.29 642.10,164.34 642.45,160.14 642.80,154.25 643.15,148.42 643.50,141.78 643.85,134.99 644.20,127.07 644.55,123.19 644.90,116.45 645.25,112.16 645.60,108.67 645.95,107.23 646.30,108.60 646.65,111.26 647.00,114.71 647.35,121.41 647.70,120.82 648.05,133.28 648.40,140.54 648.75,145.71 649.10,150.82 649.45,148.36 649.80,149.85 650.15,152.25 650.50,154.09 650.85,157.97 651.20,161.53 651.55,165.23 651.90,164.07 652.25,163.46 652.60,163.53 652.95,164.35 653.30,165.24 653.65,160.81 654.00,159.68 654.35,155.94 654.70,146.28 655.05,147.97 655.40,144.14 655.75,143.23 656.10,140.03 656.45,139.18 656.80,139.78 657.15,141.33 657.50,143.96 657.85,148.24 658.20,150.95 658.55,154.65 658.90,157.82 659.25,158.58 659.60,156.01 659.95,157.08 660.30,156.44 660.65,158.56 661.00,160.17 661.35,163.00 661.70,165.78 662.05,165.22 662.40,164.31 662.75,161.90 663.10,161.54 663.45,161.41 663.80,161.59 664.15,157.82 664.50,155.28 664.85,151.53 665.20,146.34 665.55,142.79 665.90,140.54 666.25,139.93 666.60,138.07 666.95,140.53 667.30,140.21 667.65,144.44 668.00,147.74 668.35,148.17 668.70,154.04 669.05,157.51 669.40,158.98 669.75,158.89 670.10,159.21 670.45,158.97 670.80,160.08 671.15,163.74 671.50,164.95 671.85,168.47 672.20,168.78 672.55,166.15 672.90,165.15 673.25,163.63 673.60,163.43 673.95,164.71 674.30,165.28 674.65,164.43 675.00,161.26 675.35,160.03 675.70,155.01 676.05,150.47 676.40,149.99 676.75,146.70 677.10,144.17 677.45,142.98 677.80,143.10 678.15,145.78 678.50,146.00 678.85,150.44 679.20,153.08 679.55,154.81 679.90,158.60 680.25,161.47 680.60,161.79 680.95,160.61 681.30,161.50 681.65,162.13 682.00,163.60 682.35,167.02 682.70,168.17 683.05,170.40 683.40,169.24 683.75,167.23 684.10,166.83 684.45,165.90 684.80,166.27 685.15,167.14 685.50,168.68 685.85,168.39 686.20,166.34 686.55,163.36 686.90,161.57 687.25,158.54 687.60,156.08 687.95,153.32 688.30,152.20 688.65,150.40 689.00,149.39 689.35,150.97 689.70,152.48 690.05,154.61 690.40,155.75 690.75,159.04 691.10,163.52 691.45,164.27 691.80,163.00 692.15,163.38 692.50,162.67 692.85,163.87 693.20,166.14 693.55,167.66 693.90,168.54 694.25,166.52 694.60,165.07 694.95,164.24 695.30,165.08 695.65,166.09 696.00,164.00 696.35,160.90 696.70,159.18 697.05,156.14 697.40,154.73 697.75,154.51 698.10,154.16 698.45,152.77 698.80,155.02 699.15,157.17 699.50,157.99 699.85,159.50 700.20,163.15 700.55,165.11 700.90,166.25 701.25,164.60 701.60,165.39 701.95,165.41 702.30,165.82 702.65,167.93 703.00,169.89 703.35,171.58 703.70,170.26 704.05,168.97 704.40,167.35 704.75,166.21 705.10,166.23 705.45,167.60 705.80,167.89 706.15,169.75 706.50,170.54 706.85,167.27 707.20,166.63 707.55,163.79 707.90,161.32 708.25,157.90 708.60,157.17 708.95,153.00 709.30,153.28 709.65,153.00 710.00,152.77 710.35,152.41 710.70,153.79 711.05,157.20 711.40,158.40 711.75,161.53 712.10,164.77 712.45,163.93 712.80,164.08 713.15,163.79 713.50,164.07 713.85,166.54 714.20,167.73 714.55,169.22 714.90,171.23 715.25,170.84 715.60,169.82 715.95,168.03 716.30,167.52 716.65,167.66 717.00,168.14 717.35,168.93 717.70,170.33 718.05,171.91 718.40,172.90 718.75,170.96 719.10,169.21 719.45,167.21 719.80,165.77 720.15,162.91 720.50,162.58 720.85,162.24 721.20,162.54 721.55,162.84 721.90,164.49 722.25,167.13 722.60,168.48 722.95,168.07 723.30,166.92 723.65,166.90 724.00,167.17 724.35,169.00 724.70,169.81 725.05,171.44 725.40,169.84 725.75,169.33 726.10,167.92 726.45,167.29 726.80,167.41 727.15,168.26 727.50,169.63 727.85,169.58 728.20,168.13 728.55,166.76 728.90,165.14 729.25,163.84 729.60,162.48 729.95,162.23 730.30,160.62 730.65,161.96 731.00,164.01 731.35,164.44 731.70,166.75 732.05,168.24 732.40,168.41 732.75,167.49 733.10,166.30 733.45,166.07 733.80,165.59 734.15,166.24 734.50,167.47 734.85,169.65 735.20,171.15 735.55,170.21 735.90,169.53 736.25,168.60 736.60,168.49 736.95,168.70 737.30,169.53 737.65,171.23 738.00,172.32 738.35,172.92 738.70,171.22 739.05,169.90 739.40,167.38 739.75,165.78 740.10,164.14 740.45,162.23 740.80,161.17 741.15,162.73 741.50,161.85 741.85,163.97 742.20,164.03 742.55,166.20 742.90,166.64 743.25,164.78 743.60,164.47 743.95,163.43 744.30,164.49 744.65,165.68 745.00,166.72 745.35,167.38 745.70,169.17 746.05,170.97 746.40,171.17 746.75,169.99 747.10,168.99 747.45,168.37 747.80,168.71 748.15,169.80 748.50,170.55 748.85,171.58 749.20,173.18 749.55,174.13 749.90,173.24 750.25,171.76 750.60,170.44 750.95,168.57 751.30,168.28 751.65,167.54 752.00,166.13 752.35,166.43 752.70,167.54 753.05,168.10 753.40,169.16 753.75,170.91 754.10,172.59 754.45,171.21 754.80,170.02 755.15,168.73 755.50,168.03 755.85,169.21 756.20,169.07 756.55,170.25 756.90,171.78 757.25,172.79 757.60,174.05 757.95,174.97 758.00,177.20" fill="url(#wV)" fill-opacity="1" />
<polygon points="584.00,177.20 584.00,168.66 584.35,166.11 584.70,162.00 585.05,157.64 585.40,152.46 585.75,144.72 586.10,138.44 586.45,129.68 586.80,121.11 587.15,105.15 587.50,96.50 587.85,91.14 588.20,81.37 588.55,72.73 588.90,64.00 589.25,57.53 589.60,52.51 589.95,50.87 590.30,48.80 590.65,51.64 591.00,56.72 591.35,60.66 591.70,67.52 592.05,71.90 592.40,86.80 592.75,90.31 593.10,105.34 593.45,116.22 593.80,125.98 594.15,135.29 594.50,142.77 594.85,148.77 595.20,154.28 595.55,160.01 595.90,163.70 596.25,163.94 596.60,158.05 596.95,152.63 597.30,148.43 597.65,140.38 598.00,131.09 598.35,121.48 598.70,112.12 599.05,100.50 599.40,88.02 599.75,74.86 600.10,66.66 600.45,50.01 600.80,44.08 601.15,35.79 601.50,31.57 601.85,25.67 602.20,24.85 602.55,24.95 602.90,28.16 603.25,34.11 603.60,39.79 603.95,48.30 604.30,59.03 604.65,70.15 605.00,74.55 605.35,93.72 605.70,104.86 606.05,115.04 606.40,124.83 606.75,134.48 607.10,143.92 607.45,150.86 607.80,155.35 608.15,160.46 608.50,164.74 608.85,161.21 609.20,155.46 609.55,149.73 609.90,143.37 610.25,136.10 610.60,127.10 610.95,115.59 611.30,104.89 611.65,94.40 612.00,82.49 612.35,74.10 612.70,49.18 613.05,55.29 613.40,46.04 613.75,42.99 614.10,38.06 614.45,38.76 614.80,38.70 615.15,42.82 615.50,48.54 615.85,55.79 616.20,49.56 616.55,76.65 616.90,86.72 617.25,92.63 617.60,108.98 617.95,117.77 618.30,128.33 618.65,137.83 619.00,145.20 619.35,151.61 619.70,157.83 620.05,159.16 620.40,159.16 620.75,160.49 621.10,159.74 621.45,161.92 621.80,155.77 622.15,151.91 622.50,144.22 622.85,132.77 623.20,130.71 623.55,116.94 623.90,114.37 624.25,109.59 624.60,104.07 624.95,101.06 625.30,99.76 625.65,97.76 626.00,99.03 626.35,103.42 626.70,108.61 627.05,115.78 627.40,120.79 627.75,128.68 628.10,135.73 628.45,136.29 628.80,134.57 629.15,130.20 629.50,130.39 629.85,129.20 630.20,133.20 630.55,137.59 630.90,144.29 631.25,135.11 631.60,136.07 631.95,128.14 632.30,121.44 632.65,114.93 633.00,108.78 633.35,106.25 633.70,104.22 634.05,102.42 634.40,105.35 634.75,107.55 635.10,112.34 635.45,113.50 635.80,123.07 636.15,130.44 636.50,137.62 636.85,138.85 637.20,146.14 637.55,146.13 637.90,147.27 638.25,149.88 638.60,152.93 638.95,157.68 639.30,159.09 639.65,164.26 640.00,164.34 640.35,162.11 640.70,161.94 641.05,161.83 641.40,161.29 641.75,163.29 642.10,164.34 642.45,160.14 642.80,154.25 643.15,148.42 643.50,141.78 643.85,134.99 644.20,127.07 644.55,123.19 644.90,116.45 645.25,112.16 645.60,108.67 645.95,107.23 646.30,108.60 646.65,111.26 647.00,114.71 647.35,121.41 647.70,120.82 648.05,133.28 648.40,140.54 648.75,145.71 649.10,150.82 649.45,148.36 649.80,149.85 650.15,152.25 650.50,154.09 650.85,157.97 651.20,161.53 651.55,165.23 651.90,164.07 652.25,163.46 652.60,163.53 652.95,164.35 653.30,165.24 653.65,160.81 654.00,159.68 654.35,155.94 654.70,146.28 655.05,147.97 655.40,144.14 655.75,143.23 656.10,140.03 656.45,139.18 656.80,139.78 657.15,141.33 657.50,143.96 657.85,148.24 658.20,150.95 658.55,154.65 658.90,157.82 659.25,158.58 659.60,156.01 659.95,157.08 660.30,156.44 660.65,158.56 661.00,160.17 661.35,163.00 661.70,165.78 662.05,165.22 662.40,164.31 662.75,161.90 663.10,161.54 663.45,161.41 663.80,161.59 664.15,157.82 664.50,155.28 664.85,151.53 665.20,146.34 665.55,142.79 665.90,140.54 666.25,139.93 666.60,138.07 666.95,140.53 667.30,140.21 667.65,144.44 668.00,147.74 668.35,148.17 668.70,154.04 669.05,157.51 669.40,158.98 669.75,158.89 670.10,159.21 670.45,158.97 670.80,160.08 671.15,163.74 671.50,164.95 671.85,168.47 672.20,168.78 672.55,166.15 672.90,165.15 673.25,163.63 673.60,163.43 673.95,164.71 674.30,165.28 674.65,164.43 675.00,161.26 675.35,160.03 675.70,155.01 676.05,150.47 676.40,149.99 676.75,146.70 677.10,144.17 677.45,142.98 677.80,143.10 678.15,145.78 678.50,146.00 678.85,150.44 679.20,153.08 679.55,154.81 679.90,158.60 680.25,161.47 680.60,161.79 680.95,160.61 681.30,161.50 681.65,162.13 682.00,163.60 682.35,167.02 682.70,168.17 683.05,170.40 683.40,169.24 683.75,167.23 684.10,166.83 684.45,165.90 684.80,166.27 685.15,167.14 685.50,168.68 685.85,168.39 686.20,166.34 686.55,163.36 686.90,161.57 687.25,158.54 687.60,156.08 687.95,153.32 688.30,152.20 688.65,150.40 689.00,149.39 689.35,150.97 689.70,152.48 690.05,154.61 690.40,155.75 690.75,159.04 691.10,163.52 691.45,164.27 691.80,163.00 692.15,163.38 692.50,162.67 692.85,163.87 693.20,166.14 693.55,167.66 693.90,168.54 694.25,166.52 694.60,165.07 694.95,164.24 695.30,165.08 695.65,166.09 696.00,164.00 696.35,160.90 696.70,159.18 697.05,156.14 697.40,154.73 697.75,154.51 698.10,154.16 698.45,152.77 698.80,155.02 699.15,157.17 699.50,157.99 699.85,159.50 700.20,163.15 700.55,165.11 700.90,166.25 701.25,164.60 701.60,165.39 701.95,165.41 702.30,165.82 702.65,167.93 703.00,169.89 703.35,171.58 703.70,170.26 704.05,168.97 704.40,167.35 704.75,166.21 705.10,166.23 705.45,167.60 705.80,167.89 706.15,169.75 706.50,170.54 706.85,167.27 707.20,166.63 707.55,163.79 707.90,161.32 708.25,157.90 708.60,157.17 708.95,153.00 709.30,153.28 709.65,153.00 710.00,152.77 710.35,152.41 710.70,153.79 711.05,157.20 711.40,158.40 711.75,161.53 712.10,164.77 712.45,163.93 712.80,164.08 713.15,163.79 713.50,164.07 713.85,166.54 714.20,167.73 714.55,169.22 714.90,171.23 715.25,170.84 715.60,169.82 715.95,168.03 716.30,167.52 716.65,167.66 717.00,168.14 717.35,168.93 717.70,170.33 718.05,171.91 718.40,172.90 718.75,170.96 719.10,169.21 719.45,167.21 719.80,165.77 720.15,162.91 720.50,162.58 720.85,162.24 721.20,162.54 721.55,162.84 721.90,164.49 722.25,167.13 722.60,168.48 722.95,168.07 723.30,166.92 723.65,166.90 724.00,167.17 724.35,169.00 724.70,169.81 725.05,171.44 725.40,169.84 725.75,169.33 726.10,167.92 726.45,167.29 726.80,167.41 727.15,168.26 727.50,169.63 727.85,169.58 728.20,168.13 728.55,166.76 728.90,165.14 729.25,163.84 729.60,162.48 729.95,162.23 730.30,160.62 730.65,161.96 731.00,164.01 731.35,164.44 731.70,166.75 732.05,168.24 732.40,168.41 732.75,167.49 733.10,166.30 733.45,166.07 733.80,165.59 734.15,166.24 734.50,167.47 734.85,169.65 735.20,171.15 735.55,170.21 735.90,169.53 736.25,168.60 736.60,168.49 736.95,168.70 737.30,169.53 737.65,171.23 738.00,172.32 738.35,172.92 738.70,171.22 739.05,169.90 739.40,167.38 739.75,165.78 740.10,164.14 740.45,162.23 740.80,161.17 741.15,162.73 741.50,161.85 741.85,163.97 742.20,164.03 742.55,166.20 742.90,166.64 743.25,164.78 743.60,164.47 743.95,163.43 744.30,164.49 744.65,165.68 745.00,166.72 745.35,167.38 745.70,169.17 746.05,170.97 746.40,171.17 746.75,169.99 747.10,168.99 747.45,168.37 747.80,168.71 748.15,169.80 748.50,170.55 748.85,171.58 749.20,173.18 749.55,174.13 749.90,173.24 750.25,171.76 750.60,170.44 750.95,168.57 751.30,168.28 751.65,167.54 752.00,166.13 752.35,166.43 752.70,167.54 753.05,168.10 753.40,169.16 753.75,170.91 754.10,172.59 754.45,171.21 754.80,170.02 755.15,168.73 755.50,168.03 755.85,169.21 756.20,169.07 756.55,170.25 756.90,171.78 757.25,172.79 757.60,174.05 757.95,174.97 758.00,177.20" fill="url(#wH)" fill-opacity="1" />
<polygon points="584.40,177.2 584.80,166.42 585.20,166.42 585.60,177.2" fill="url(#bH)" fill-opacity="0.85"/>
<polygon points="585.90,177.2 586.30,136.75 586.70,136.75 587.10,177.2" fill="url(#bH)" fill-opacity="0.85"/>
<polygon points="587.91,177.2 588.31,88.96 588.71,88.96 589.11,177.2" fill="url(#bH)" fill-opacity="0.85"/>
<polygon points="589.96,177.2 590.36,81.92 590.76,81.92 591.16,177.2" fill="url(#bH)" fill-opacity="0.85"/>
<polygon points="591.78,177.2 592.18,129.43 592.58,129.43 592.98,177.2" fill="url(#bH)" fill-opacity="0.85"/>
<polygon points="593.10,177.2 593.50,128.66 593.90,128.66 594.30,177.2" fill="url(#bH)" fill-opacity="0.85"/>
<polygon points="594.87,177.2 595.27,165.56 595.67,165.56 596.07,177.2" fill="url(#bH)" fill-opacity="0.85"/>
<polygon points="596.65,177.2 597.05,155.54 597.45,155.54 597.85,177.2" fill="url(#bH)" fill-opacity="0.85"/>
<polygon points="598.29,177.2 598.69,132.77 599.09,132.77 599.49,177.2" fill="url(#bH)" fill-opacity="0.85"/>
<polygon points="600.03,177.2 600.43,89.29 600.83,89.29 601.23,177.2" fill="url(#bH)" fill-opacity="0.85"/>
<polygon points="602.01,177.2 602.41,60.33 602.81,60.33 603.21,177.2" fill="url(#bH)" fill-opacity="0.85"/>
<polygon points="603.84,177.2 604.24,67.38 604.64,67.38 605.04,177.2" fill="url(#bH)" fill-opacity="0.85"/>
<polygon points="605.46,177.2 605.86,134.51 606.26,134.51 606.66,177.2" fill="url(#bH)" fill-opacity="0.85"/>
<polygon points="607.58,177.2 607.98,163.90 608.38,163.90 608.78,177.2" fill="url(#bH)" fill-opacity="0.85"/>
<polygon points="609.64,177.2 610.04,152.01 610.44,152.01 610.84,177.2" fill="url(#bH)" fill-opacity="0.85"/>
<polygon points="611.06,177.2 611.46,118.05 611.86,118.05 612.26,177.2" fill="url(#bH)" fill-opacity="0.85"/>
<polygon points="612.63,177.2 613.03,100.41 613.43,100.41 613.83,177.2" fill="url(#bH)" fill-opacity="0.85"/>
<polygon points="614.62,177.2 615.02,79.57 615.42,79.57 615.82,177.2" fill="url(#bH)" fill-opacity="0.85"/>
<polygon points="616.08,177.2 616.48,108.36 616.88,108.36 617.28,177.2" fill="url(#bH)" fill-opacity="0.85"/>
<polygon points="617.80,177.2 618.20,141.86 618.60,141.86 619.00,177.2" fill="url(#bH)" fill-opacity="0.85"/>
<polygon points="619.12,177.2 619.52,162.57 619.92,162.57 620.32,177.2" fill="url(#bH)" fill-opacity="0.85"/>
<polygon points="621.14,177.2 621.54,161.49 621.94,161.49 622.34,177.2" fill="url(#bH)" fill-opacity="0.85"/>
<polygon points="622.46,177.2 622.86,145.84 623.26,145.84 623.66,177.2" fill="url(#bH)" fill-opacity="0.85"/>
<polygon points="623.93,177.2 624.33,124.93 624.73,124.93 625.13,177.2" fill="url(#bH)" fill-opacity="0.85"/>
<polygon points="625.43,177.2 625.83,132.15 626.23,132.15 626.63,177.2" fill="url(#bH)" fill-opacity="0.85"/>
<polygon points="626.99,177.2 627.39,147.09 627.79,147.09 628.19,177.2" fill="url(#bH)" fill-opacity="0.85"/>
<polygon points="628.73,177.2 629.13,139.50 629.53,139.50 629.93,177.2" fill="url(#bH)" fill-opacity="0.85"/>
<polygon points="630.60,177.2 631.00,147.21 631.40,147.21 631.80,177.2" fill="url(#bH)" fill-opacity="0.85"/>
<polygon points="632.33,177.2 632.73,126.80 633.13,126.80 633.53,177.2" fill="url(#bH)" fill-opacity="0.85"/>
<polygon points="634.38,177.2 634.78,121.73 635.18,121.73 635.58,177.2" fill="url(#bH)" fill-opacity="0.85"/>
<polygon points="635.86,177.2 636.26,136.72 636.66,136.72 637.06,177.2" fill="url(#bH)" fill-opacity="0.85"/>
<polygon points="637.94,177.2 638.34,164.00 638.74,164.00 639.14,177.2" fill="url(#bH)" fill-opacity="0.85"/>
<polygon points="640.05,177.2 640.45,165.36 640.85,165.36 641.25,177.2" fill="url(#bH)" fill-opacity="0.85"/>
<polygon points="641.88,177.2 642.28,158.43 642.68,158.43 643.08,177.2" fill="url(#bH)" fill-opacity="0.85"/>
<polygon points="643.44,177.2 643.84,146.54 644.24,146.54 644.64,177.2" fill="url(#bH)" fill-opacity="0.85"/>
<polygon points="644.87,177.2 645.27,125.35 645.67,125.35 646.07,177.2" fill="url(#bH)" fill-opacity="0.85"/>
<polygon points="646.49,177.2 646.89,145.88 647.29,145.88 647.69,177.2" fill="url(#bH)" fill-opacity="0.85"/>
<polygon points="647.95,177.2 648.35,159.11 648.75,159.11 649.15,177.2" fill="url(#bH)" fill-opacity="0.85"/>
<polygon points="649.25,177.2 649.65,150.96 650.05,150.96 650.45,177.2" fill="url(#bH)" fill-opacity="0.85"/>
<polygon points="650.97,177.2 651.37,168.39 651.77,168.39 652.17,177.2" fill="url(#bH)" fill-opacity="0.85"/>
<polygon points="652.33,177.2 652.73,167.29 653.13,167.29 653.53,177.2" fill="url(#bH)" fill-opacity="0.85"/>
<polygon points="654.44,177.2 654.84,147.52 655.24,147.52 655.64,177.2" fill="url(#bH)" fill-opacity="0.85"/>
<polygon points="656.24,177.2 656.64,157.96 657.04,157.96 657.44,177.2" fill="url(#bH)" fill-opacity="0.85"/>
<polygon points="658.07,177.2 658.47,159.79 658.87,159.79 659.27,177.2" fill="url(#bH)" fill-opacity="0.85"/>
<polygon points="659.98,177.2 660.38,162.43 660.78,162.43 661.18,177.2" fill="url(#bH)" fill-opacity="0.85"/>
<polygon points="661.53,177.2 661.93,165.81 662.33,165.81 662.73,177.2" fill="url(#bH)" fill-opacity="0.85"/>
<polygon points="663.07,177.2 663.47,163.03 663.87,163.03 664.27,177.2" fill="url(#bH)" fill-opacity="0.85"/>
<polygon points="665.10,177.2 665.50,149.59 665.90,149.59 666.30,177.2" fill="url(#bH)" fill-opacity="0.85"/>
<polygon points="666.65,177.2 667.05,156.48 667.45,156.48 667.85,177.2" fill="url(#bH)" fill-opacity="0.85"/>
<polygon points="668.54,177.2 668.94,163.90 669.34,163.90 669.74,177.2" fill="url(#bH)" fill-opacity="0.85"/>
<polygon points="670.54,177.2 670.94,162.72 671.34,162.72 671.74,177.2" fill="url(#bH)" fill-opacity="0.85"/>
<polygon points="672.74,177.2 673.14,163.69 673.54,163.69 673.94,177.2" fill="url(#bH)" fill-opacity="0.85"/>
<polygon points="674.65,177.2 675.05,166.77 675.45,166.77 675.85,177.2" fill="url(#bH)" fill-opacity="0.85"/>
<polygon points="676.54,177.2 676.94,146.29 677.34,146.29 677.74,177.2" fill="url(#bH)" fill-opacity="0.85"/>
<polygon points="678.69,177.2 679.09,156.97 679.49,156.97 679.89,177.2" fill="url(#bH)" fill-opacity="0.85"/>
<polygon points="680.57,177.2 680.97,165.03 681.37,165.03 681.77,177.2" fill="url(#bH)" fill-opacity="0.85"/>
<polygon points="682.43,177.2 682.83,173.86 683.23,173.86 683.63,177.2" fill="url(#bH)" fill-opacity="0.85"/>
<polygon points="684.54,177.2 684.94,171.67 685.34,171.67 685.74,177.2" fill="url(#bH)" fill-opacity="0.85"/>
<polygon points="686.52,177.2 686.92,160.58 687.32,160.58 687.72,177.2" fill="url(#bH)" fill-opacity="0.85"/>
<polygon points="688.12,177.2 688.52,160.54 688.92,160.54 689.32,177.2" fill="url(#bH)" fill-opacity="0.85"/>
<polygon points="690.02,177.2 690.42,167.67 690.82,167.67 691.22,177.2" fill="url(#bH)" fill-opacity="0.85"/>
<polygon points="691.72,177.2 692.12,168.44 692.52,168.44 692.92,177.2" fill="url(#bH)" fill-opacity="0.85"/>
<polygon points="693.91,177.2 694.31,168.90 694.71,168.90 695.11,177.2" fill="url(#bH)" fill-opacity="0.85"/>
<polygon points="695.80,177.2 696.20,165.39 696.60,165.39 697.00,177.2" fill="url(#bH)" fill-opacity="0.85"/>
<polygon points="697.53,177.2 697.93,157.27 698.33,157.27 698.73,177.2" fill="url(#bH)" fill-opacity="0.85"/>
<polygon points="698.89,177.2 699.29,163.17 699.69,163.17 700.09,177.2" fill="url(#bH)" fill-opacity="0.85"/>
<polygon points="701.04,177.2 701.44,167.83 701.84,167.83 702.24,177.2" fill="url(#bH)" fill-opacity="0.85"/>
<polygon points="703.02,177.2 703.42,170.57 703.82,170.57 704.22,177.2" fill="url(#bH)" fill-opacity="0.85"/>
<polygon points="705.10,177.2 705.50,169.31 705.90,169.31 706.30,177.2" fill="url(#bH)" fill-opacity="0.85"/>
<polygon points="706.84,177.2 707.24,171.17 707.64,171.17 708.04,177.2" fill="url(#bH)" fill-opacity="0.85"/>
<polygon points="708.45,177.2 708.85,155.45 709.25,155.45 709.65,177.2" fill="url(#bH)" fill-opacity="0.85"/>
<polygon points="710.53,177.2 710.93,161.90 711.33,161.90 711.73,177.2" fill="url(#bH)" fill-opacity="0.85"/>
<polygon points="711.95,177.2 712.35,168.09 712.75,168.09 713.15,177.2" fill="url(#bH)" fill-opacity="0.85"/>
<polygon points="713.49,177.2 713.89,169.80 714.29,169.80 714.69,177.2" fill="url(#bH)" fill-opacity="0.85"/>
<polygon points="715.01,177.2 715.41,169.06 715.81,169.06 716.21,177.2" fill="url(#bH)" fill-opacity="0.85"/>
<polygon points="716.81,177.2 717.21,170.84 717.61,170.84 718.01,177.2" fill="url(#bH)" fill-opacity="0.85"/>
<polygon points="718.78,177.2 719.18,167.90 719.58,167.90 719.98,177.2" fill="url(#bH)" fill-opacity="0.85"/>
<polygon points="720.43,177.2 720.83,166.67 721.23,166.67 721.63,177.2" fill="url(#bH)" fill-opacity="0.85"/>
<polygon points="722.14,177.2 722.54,171.27 722.94,171.27 723.34,177.2" fill="url(#bH)" fill-opacity="0.85"/>
<polygon points="724.18,177.2 724.58,170.39 724.98,170.39 725.38,177.2" fill="url(#bH)" fill-opacity="0.85"/>
<polygon points="725.82,177.2 726.22,168.85 726.62,168.85 727.02,177.2" fill="url(#bH)" fill-opacity="0.85"/>
<polygon points="727.73,177.2 728.13,172.46 728.53,172.46 728.93,177.2" fill="url(#bH)" fill-opacity="0.85"/>
<polygon points="729.70,177.2 730.10,166.95 730.50,166.95 730.90,177.2" fill="url(#bH)" fill-opacity="0.85"/>
<polygon points="731.18,177.2 731.58,168.85 731.98,168.85 732.38,177.2" fill="url(#bH)" fill-opacity="0.85"/>
<polygon points="732.84,177.2 733.24,165.61 733.64,165.61 734.04,177.2" fill="url(#bH)" fill-opacity="0.85"/>
<polygon points="734.24,177.2 734.64,170.35 735.04,170.35 735.44,177.2" fill="url(#bH)" fill-opacity="0.85"/>
<polygon points="735.87,177.2 736.27,169.25 736.67,169.25 737.07,177.2" fill="url(#bH)" fill-opacity="0.85"/>
<polygon points="737.44,177.2 737.84,172.85 738.24,172.85 738.64,177.2" fill="url(#bH)" fill-opacity="0.85"/>
<polygon points="738.88,177.2 739.28,170.60 739.68,170.60 740.08,177.2" fill="url(#bH)" fill-opacity="0.85"/>
<polygon points="740.44,177.2 740.84,167.94 741.24,167.94 741.64,177.2" fill="url(#bH)" fill-opacity="0.85"/>
<polygon points="741.98,177.2 742.38,167.13 742.78,167.13 743.18,177.2" fill="url(#bH)" fill-opacity="0.85"/>
<polygon points="744.11,177.2 744.51,165.80 744.91,165.80 745.31,177.2" fill="url(#bH)" fill-opacity="0.85"/>
<polygon points="745.51,177.2 745.91,172.86 746.31,172.86 746.71,177.2" fill="url(#bH)" fill-opacity="0.85"/>
<polygon points="747.05,177.2 747.45,169.98 747.85,169.98 748.25,177.2" fill="url(#bH)" fill-opacity="0.85"/>
<polygon points="748.76,177.2 749.16,173.73 749.56,173.73 749.96,177.2" fill="url(#bH)" fill-opacity="0.85"/>
<polygon points="750.47,177.2 750.87,168.24 751.27,168.24 751.67,177.2" fill="url(#bH)" fill-opacity="0.85"/>
<polygon points="752.28,177.2 752.68,169.44 753.08,169.44 753.48,177.2" fill="url(#bH)" fill-opacity="0.85"/>
<polygon points="753.90,177.2 754.30,174.04 754.70,174.04 755.10,177.2" fill="url(#bH)" fill-opacity="0.85"/>
<polygon points="755.64,177.2 756.04,172.54 756.44,172.54 756.84,177.2" fill="url(#bH)" fill-opacity="0.85"/>
<polygon points="584.00,177.20 584.00,171.20 758.00,171.20 758.00,177.20" fill="url(#bS)" fill-opacity="1" />
<line x1="584.36" y1="177.20" x2="584.36" y2="171.85" stroke="#ffffff" stroke-width="0.55" stroke-opacity="0.4"/>
<line x1="585.21" y1="177.20" x2="585.21" y2="158.84" stroke="#ffffff" stroke-width="0.55" stroke-opacity="0.4"/>
<line x1="586.53" y1="177.20" x2="586.53" y2="152.71" stroke="#ffffff" stroke-width="0.55" stroke-opacity="0.4"/>
<line x1="587.97" y1="177.20" x2="587.97" y2="108.11" stroke="#ffffff" stroke-width="0.55" stroke-opacity="0.4"/>
<line x1="588.98" y1="177.20" x2="588.98" y2="97.51" stroke="#ffffff" stroke-width="0.55" stroke-opacity="0.4"/>
<line x1="589.93" y1="177.20" x2="589.93" y2="144.16" stroke="#ffffff" stroke-width="0.55" stroke-opacity="0.4"/>
<line x1="591.26" y1="177.20" x2="591.26" y2="146.28" stroke="#ffffff" stroke-width="0.55" stroke-opacity="0.4"/>
<line x1="592.67" y1="177.20" x2="592.67" y2="138.34" stroke="#ffffff" stroke-width="0.55" stroke-opacity="0.4"/>
<line x1="594.00" y1="177.20" x2="594.00" y2="142.53" stroke="#ffffff" stroke-width="0.55" stroke-opacity="0.4"/>
<line x1="594.88" y1="177.20" x2="594.88" y2="166.51" stroke="#ffffff" stroke-width="0.55" stroke-opacity="0.4"/>
<line x1="595.95" y1="177.20" x2="595.95" y2="171.98" stroke="#ffffff" stroke-width="0.55" stroke-opacity="0.4"/>
<line x1="597.58" y1="177.20" x2="597.58" y2="142.76" stroke="#ffffff" stroke-width="0.55" stroke-opacity="0.4"/>
<line x1="598.42" y1="177.20" x2="598.42" y2="126.83" stroke="#ffffff" stroke-width="0.55" stroke-opacity="0.4"/>
<line x1="599.55" y1="177.20" x2="599.55" y2="113.15" stroke="#ffffff" stroke-width="0.55" stroke-opacity="0.4"/>
<line x1="600.28" y1="177.20" x2="600.28" y2="100.13" stroke="#ffffff" stroke-width="0.55" stroke-opacity="0.4"/>
<line x1="601.81" y1="177.20" x2="601.81" y2="114.94" stroke="#ffffff" stroke-width="0.55" stroke-opacity="0.4"/>
<line x1="603.04" y1="177.20" x2="603.04" y2="123.72" stroke="#ffffff" stroke-width="0.55" stroke-opacity="0.4"/>
<line x1="604.19" y1="177.20" x2="604.19" y2="164.95" stroke="#ffffff" stroke-width="0.55" stroke-opacity="0.4"/>
<line x1="605.44" y1="177.20" x2="605.44" y2="139.49" stroke="#ffffff" stroke-width="0.55" stroke-opacity="0.4"/>
<line x1="606.61" y1="177.20" x2="606.61" y2="169.90" stroke="#ffffff" stroke-width="0.55" stroke-opacity="0.4"/>
<line x1="607.77" y1="177.20" x2="607.77" y2="154.54" stroke="#ffffff" stroke-width="0.55" stroke-opacity="0.4"/>
<line x1="609.04" y1="177.20" x2="609.04" y2="166.05" stroke="#ffffff" stroke-width="0.55" stroke-opacity="0.4"/>
<line x1="610.03" y1="177.20" x2="610.03" y2="157.07" stroke="#ffffff" stroke-width="0.55" stroke-opacity="0.4"/>
<line x1="611.02" y1="177.20" x2="611.02" y2="140.04" stroke="#ffffff" stroke-width="0.55" stroke-opacity="0.4"/>
<line x1="612.08" y1="177.20" x2="612.08" y2="113.70" stroke="#ffffff" stroke-width="0.55" stroke-opacity="0.4"/>
<line x1="613.56" y1="177.20" x2="613.56" y2="108.82" stroke="#ffffff" stroke-width="0.55" stroke-opacity="0.4"/>
<line x1="615.21" y1="177.20" x2="615.21" y2="112.68" stroke="#ffffff" stroke-width="0.55" stroke-opacity="0.4"/>
<line x1="616.70" y1="177.20" x2="616.70" y2="87.98" stroke="#ffffff" stroke-width="0.55" stroke-opacity="0.4"/>
<line x1="618.30" y1="177.20" x2="618.30" y2="156.90" stroke="#ffffff" stroke-width="0.55" stroke-opacity="0.4"/>
<line x1="619.21" y1="177.20" x2="619.21" y2="161.13" stroke="#ffffff" stroke-width="0.55" stroke-opacity="0.4"/>
<line x1="620.15" y1="177.20" x2="620.15" y2="170.36" stroke="#ffffff" stroke-width="0.55" stroke-opacity="0.4"/>
<line x1="621.59" y1="177.20" x2="621.59" y2="174.89" stroke="#ffffff" stroke-width="0.55" stroke-opacity="0.4"/>
<line x1="623.26" y1="177.20" x2="623.26" y2="160.29" stroke="#ffffff" stroke-width="0.55" stroke-opacity="0.4"/>
<line x1="624.73" y1="177.20" x2="624.73" y2="127.37" stroke="#ffffff" stroke-width="0.55" stroke-opacity="0.4"/>
<line x1="626.18" y1="177.20" x2="626.18" y2="102.21" stroke="#ffffff" stroke-width="0.55" stroke-opacity="0.4"/>
<line x1="627.35" y1="177.20" x2="627.35" y2="166.16" stroke="#ffffff" stroke-width="0.55" stroke-opacity="0.4"/>
<line x1="628.75" y1="177.20" x2="628.75" y2="167.10" stroke="#ffffff" stroke-width="0.55" stroke-opacity="0.4"/>
<line x1="629.96" y1="177.20" x2="629.96" y2="133.34" stroke="#ffffff" stroke-width="0.55" stroke-opacity="0.4"/>
<line x1="631.32" y1="177.20" x2="631.32" y2="144.56" stroke="#ffffff" stroke-width="0.55" stroke-opacity="0.4"/>
<line x1="632.07" y1="177.20" x2="632.07" y2="139.42" stroke="#ffffff" stroke-width="0.55" stroke-opacity="0.4"/>
<line x1="633.68" y1="177.20" x2="633.68" y2="137.30" stroke="#ffffff" stroke-width="0.55" stroke-opacity="0.4"/>
<line x1="634.42" y1="177.20" x2="634.42" y2="146.58" stroke="#ffffff" stroke-width="0.55" stroke-opacity="0.4"/>
<line x1="635.30" y1="177.20" x2="635.30" y2="123.56" stroke="#ffffff" stroke-width="0.55" stroke-opacity="0.4"/>
<line x1="636.51" y1="177.20" x2="636.51" y2="143.53" stroke="#ffffff" stroke-width="0.55" stroke-opacity="0.4"/>
<line x1="637.66" y1="177.20" x2="637.66" y2="150.56" stroke="#ffffff" stroke-width="0.55" stroke-opacity="0.4"/>
<line x1="638.53" y1="177.20" x2="638.53" y2="172.32" stroke="#ffffff" stroke-width="0.55" stroke-opacity="0.4"/>
<line x1="639.29" y1="177.20" x2="639.29" y2="161.77" stroke="#ffffff" stroke-width="0.55" stroke-opacity="0.4"/>
<line x1="640.94" y1="177.20" x2="640.94" y2="174.36" stroke="#ffffff" stroke-width="0.55" stroke-opacity="0.4"/>
<line x1="641.79" y1="177.20" x2="641.79" y2="171.09" stroke="#ffffff" stroke-width="0.55" stroke-opacity="0.4"/>
<line x1="642.95" y1="177.20" x2="642.95" y2="173.48" stroke="#ffffff" stroke-width="0.55" stroke-opacity="0.4"/>
<line x1="643.93" y1="177.20" x2="643.93" y2="162.43" stroke="#ffffff" stroke-width="0.55" stroke-opacity="0.4"/>
<line x1="645.23" y1="177.20" x2="645.23" y2="122.04" stroke="#ffffff" stroke-width="0.55" stroke-opacity="0.4"/>
<line x1="646.23" y1="177.20" x2="646.23" y2="157.51" stroke="#ffffff" stroke-width="0.55" stroke-opacity="0.4"/>
<line x1="647.55" y1="177.20" x2="647.55" y2="171.13" stroke="#ffffff" stroke-width="0.55" stroke-opacity="0.4"/>
<line x1="648.98" y1="177.20" x2="648.98" y2="165.06" stroke="#ffffff" stroke-width="0.55" stroke-opacity="0.4"/>
<line x1="650.06" y1="177.20" x2="650.06" y2="170.87" stroke="#ffffff" stroke-width="0.55" stroke-opacity="0.4"/>
<line x1="651.39" y1="177.20" x2="651.39" y2="167.10" stroke="#ffffff" stroke-width="0.55" stroke-opacity="0.4"/>
<line x1="652.86" y1="177.20" x2="652.86" y2="171.78" stroke="#ffffff" stroke-width="0.55" stroke-opacity="0.4"/>
<line x1="653.77" y1="177.20" x2="653.77" y2="158.84" stroke="#ffffff" stroke-width="0.55" stroke-opacity="0.4"/>
<line x1="654.64" y1="177.20" x2="654.64" y2="173.62" stroke="#ffffff" stroke-width="0.55" stroke-opacity="0.4"/>
<line x1="656.18" y1="177.20" x2="656.18" y2="152.19" stroke="#ffffff" stroke-width="0.55" stroke-opacity="0.4"/>
<line x1="657.11" y1="177.20" x2="657.11" y2="149.40" stroke="#ffffff" stroke-width="0.55" stroke-opacity="0.4"/>
<line x1="657.88" y1="177.20" x2="657.88" y2="173.30" stroke="#ffffff" stroke-width="0.55" stroke-opacity="0.4"/>
<line x1="659.49" y1="177.20" x2="659.49" y2="167.09" stroke="#ffffff" stroke-width="0.55" stroke-opacity="0.4"/>
<line x1="660.94" y1="177.20" x2="660.94" y2="167.22" stroke="#ffffff" stroke-width="0.55" stroke-opacity="0.4"/>
<line x1="662.62" y1="177.20" x2="662.62" y2="167.27" stroke="#ffffff" stroke-width="0.55" stroke-opacity="0.4"/>
<line x1="663.50" y1="177.20" x2="663.50" y2="169.28" stroke="#ffffff" stroke-width="0.55" stroke-opacity="0.4"/>
<line x1="665.14" y1="177.20" x2="665.14" y2="158.17" stroke="#ffffff" stroke-width="0.55" stroke-opacity="0.4"/>
<line x1="666.33" y1="177.20" x2="666.33" y2="165.32" stroke="#ffffff" stroke-width="0.55" stroke-opacity="0.4"/>
<line x1="667.33" y1="177.20" x2="667.33" y2="160.88" stroke="#ffffff" stroke-width="0.55" stroke-opacity="0.4"/>
<line x1="668.99" y1="177.20" x2="668.99" y2="159.81" stroke="#ffffff" stroke-width="0.55" stroke-opacity="0.4"/>
<line x1="670.36" y1="177.20" x2="670.36" y2="174.47" stroke="#ffffff" stroke-width="0.55" stroke-opacity="0.4"/>
<line x1="671.91" y1="177.20" x2="671.91" y2="175.62" stroke="#ffffff" stroke-width="0.55" stroke-opacity="0.4"/>
<line x1="672.90" y1="177.20" x2="672.90" y2="167.99" stroke="#ffffff" stroke-width="0.55" stroke-opacity="0.4"/>
<line x1="673.65" y1="177.20" x2="673.65" y2="173.07" stroke="#ffffff" stroke-width="0.55" stroke-opacity="0.4"/>
<line x1="674.42" y1="177.20" x2="674.42" y2="175.61" stroke="#ffffff" stroke-width="0.55" stroke-opacity="0.4"/>
<line x1="675.14" y1="177.20" x2="675.14" y2="172.69" stroke="#ffffff" stroke-width="0.55" stroke-opacity="0.4"/>
<line x1="676.05" y1="177.20" x2="676.05" y2="158.80" stroke="#ffffff" stroke-width="0.55" stroke-opacity="0.4"/>
<line x1="677.18" y1="177.20" x2="677.18" y2="144.15" stroke="#ffffff" stroke-width="0.55" stroke-opacity="0.4"/>
<line x1="678.49" y1="177.20" x2="678.49" y2="159.29" stroke="#ffffff" stroke-width="0.55" stroke-opacity="0.4"/>
<line x1="679.63" y1="177.20" x2="679.63" y2="161.44" stroke="#ffffff" stroke-width="0.55" stroke-opacity="0.4"/>
<line x1="680.55" y1="177.20" x2="680.55" y2="169.20" stroke="#ffffff" stroke-width="0.55" stroke-opacity="0.4"/>
<line x1="681.51" y1="177.20" x2="681.51" y2="169.53" stroke="#ffffff" stroke-width="0.55" stroke-opacity="0.4"/>
<line x1="682.89" y1="177.20" x2="682.89" y2="170.76" stroke="#ffffff" stroke-width="0.55" stroke-opacity="0.4"/>
<line x1="684.02" y1="177.20" x2="684.02" y2="173.41" stroke="#ffffff" stroke-width="0.55" stroke-opacity="0.4"/>
<line x1="684.93" y1="177.20" x2="684.93" y2="173.93" stroke="#ffffff" stroke-width="0.55" stroke-opacity="0.4"/>
<line x1="686.16" y1="177.20" x2="686.16" y2="173.98" stroke="#ffffff" stroke-width="0.55" stroke-opacity="0.4"/>
<line x1="687.22" y1="177.20" x2="687.22" y2="163.69" stroke="#ffffff" stroke-width="0.55" stroke-opacity="0.4"/>
<line x1="688.05" y1="177.20" x2="688.05" y2="172.66" stroke="#ffffff" stroke-width="0.55" stroke-opacity="0.4"/>
<line x1="689.43" y1="177.20" x2="689.43" y2="168.62" stroke="#ffffff" stroke-width="0.55" stroke-opacity="0.4"/>
<line x1="690.66" y1="177.20" x2="690.66" y2="163.91" stroke="#ffffff" stroke-width="0.55" stroke-opacity="0.4"/>
<line x1="691.68" y1="177.20" x2="691.68" y2="166.01" stroke="#ffffff" stroke-width="0.55" stroke-opacity="0.4"/>
<line x1="692.76" y1="177.20" x2="692.76" y2="166.82" stroke="#ffffff" stroke-width="0.55" stroke-opacity="0.4"/>
<line x1="693.47" y1="177.20" x2="693.47" y2="170.20" stroke="#ffffff" stroke-width="0.55" stroke-opacity="0.4"/>
<line x1="694.94" y1="177.20" x2="694.94" y2="174.07" stroke="#ffffff" stroke-width="0.55" stroke-opacity="0.4"/>
<line x1="696.54" y1="177.20" x2="696.54" y2="166.42" stroke="#ffffff" stroke-width="0.55" stroke-opacity="0.4"/>
<line x1="697.89" y1="177.20" x2="697.89" y2="173.60" stroke="#ffffff" stroke-width="0.55" stroke-opacity="0.4"/>
<line x1="699.58" y1="177.20" x2="699.58" y2="169.46" stroke="#ffffff" stroke-width="0.55" stroke-opacity="0.4"/>
<line x1="700.36" y1="177.20" x2="700.36" y2="172.45" stroke="#ffffff" stroke-width="0.55" stroke-opacity="0.4"/>
<line x1="701.53" y1="177.20" x2="701.53" y2="175.19" stroke="#ffffff" stroke-width="0.55" stroke-opacity="0.4"/>
<line x1="703.14" y1="177.20" x2="703.14" y2="170.54" stroke="#ffffff" stroke-width="0.55" stroke-opacity="0.4"/>
<line x1="704.62" y1="177.20" x2="704.62" y2="174.01" stroke="#ffffff" stroke-width="0.55" stroke-opacity="0.4"/>
<line x1="705.95" y1="177.20" x2="705.95" y2="173.09" stroke="#ffffff" stroke-width="0.55" stroke-opacity="0.4"/>
<line x1="707.24" y1="177.20" x2="707.24" y2="170.01" stroke="#ffffff" stroke-width="0.55" stroke-opacity="0.4"/>
<line x1="708.23" y1="177.20" x2="708.23" y2="164.58" stroke="#ffffff" stroke-width="0.55" stroke-opacity="0.4"/>
<line x1="709.04" y1="177.20" x2="709.04" y2="154.65" stroke="#ffffff" stroke-width="0.55" stroke-opacity="0.4"/>
<line x1="710.67" y1="177.20" x2="710.67" y2="158.07" stroke="#ffffff" stroke-width="0.55" stroke-opacity="0.4"/>
<line x1="711.94" y1="177.20" x2="711.94" y2="167.56" stroke="#ffffff" stroke-width="0.55" stroke-opacity="0.4"/>
<line x1="712.99" y1="177.20" x2="712.99" y2="170.14" stroke="#ffffff" stroke-width="0.55" stroke-opacity="0.4"/>
<line x1="714.63" y1="177.20" x2="714.63" y2="173.60" stroke="#ffffff" stroke-width="0.55" stroke-opacity="0.4"/>
<line x1="716.15" y1="177.20" x2="716.15" y2="168.07" stroke="#ffffff" stroke-width="0.55" stroke-opacity="0.4"/>
<line x1="717.48" y1="177.20" x2="717.48" y2="175.91" stroke="#ffffff" stroke-width="0.55" stroke-opacity="0.4"/>
<line x1="718.80" y1="177.20" x2="718.80" y2="172.70" stroke="#ffffff" stroke-width="0.55" stroke-opacity="0.4"/>
<line x1="719.65" y1="177.20" x2="719.65" y2="165.97" stroke="#ffffff" stroke-width="0.55" stroke-opacity="0.4"/>
<line x1="720.48" y1="177.20" x2="720.48" y2="168.45" stroke="#ffffff" stroke-width="0.55" stroke-opacity="0.4"/>
<line x1="721.96" y1="177.20" x2="721.96" y2="172.39" stroke="#ffffff" stroke-width="0.55" stroke-opacity="0.4"/>
<line x1="722.71" y1="177.20" x2="722.71" y2="168.88" stroke="#ffffff" stroke-width="0.55" stroke-opacity="0.4"/>
<line x1="723.81" y1="177.20" x2="723.81" y2="167.21" stroke="#ffffff" stroke-width="0.55" stroke-opacity="0.4"/>
<line x1="725.42" y1="177.20" x2="725.42" y2="174.37" stroke="#ffffff" stroke-width="0.55" stroke-opacity="0.4"/>
<line x1="727.07" y1="177.20" x2="727.07" y2="169.36" stroke="#ffffff" stroke-width="0.55" stroke-opacity="0.4"/>
<line x1="728.39" y1="177.20" x2="728.39" y2="168.19" stroke="#ffffff" stroke-width="0.55" stroke-opacity="0.4"/>
<line x1="729.63" y1="177.20" x2="729.63" y2="169.30" stroke="#ffffff" stroke-width="0.55" stroke-opacity="0.4"/>
<line x1="730.33" y1="177.20" x2="730.33" y2="164.05" stroke="#ffffff" stroke-width="0.55" stroke-opacity="0.4"/>
<line x1="731.06" y1="177.20" x2="731.06" y2="174.00" stroke="#ffffff" stroke-width="0.55" stroke-opacity="0.4"/>
<line x1="732.57" y1="177.20" x2="732.57" y2="174.29" stroke="#ffffff" stroke-width="0.55" stroke-opacity="0.4"/>
<line x1="733.95" y1="177.20" x2="733.95" y2="171.34" stroke="#ffffff" stroke-width="0.55" stroke-opacity="0.4"/>
<line x1="734.88" y1="177.20" x2="734.88" y2="172.71" stroke="#ffffff" stroke-width="0.55" stroke-opacity="0.4"/>
<line x1="735.84" y1="177.20" x2="735.84" y2="173.28" stroke="#ffffff" stroke-width="0.55" stroke-opacity="0.4"/>
<line x1="736.62" y1="177.20" x2="736.62" y2="175.95" stroke="#ffffff" stroke-width="0.55" stroke-opacity="0.4"/>
<line x1="737.47" y1="177.20" x2="737.47" y2="172.72" stroke="#ffffff" stroke-width="0.55" stroke-opacity="0.4"/>
<line x1="738.60" y1="177.20" x2="738.60" y2="173.22" stroke="#ffffff" stroke-width="0.55" stroke-opacity="0.4"/>
<line x1="739.36" y1="177.20" x2="739.36" y2="171.71" stroke="#ffffff" stroke-width="0.55" stroke-opacity="0.4"/>
<line x1="740.07" y1="177.20" x2="740.07" y2="167.53" stroke="#ffffff" stroke-width="0.55" stroke-opacity="0.4"/>
<line x1="741.50" y1="177.20" x2="741.50" y2="173.99" stroke="#ffffff" stroke-width="0.55" stroke-opacity="0.4"/>
<line x1="742.70" y1="177.20" x2="742.70" y2="170.07" stroke="#ffffff" stroke-width="0.55" stroke-opacity="0.4"/>
<line x1="744.15" y1="177.20" x2="744.15" y2="167.54" stroke="#ffffff" stroke-width="0.55" stroke-opacity="0.4"/>
<line x1="745.59" y1="177.20" x2="745.59" y2="174.83" stroke="#ffffff" stroke-width="0.55" stroke-opacity="0.4"/>
<line x1="747.11" y1="177.20" x2="747.11" y2="169.26" stroke="#ffffff" stroke-width="0.55" stroke-opacity="0.4"/>
<line x1="748.53" y1="177.20" x2="748.53" y2="173.19" stroke="#ffffff" stroke-width="0.55" stroke-opacity="0.4"/>
<line x1="750.02" y1="177.20" x2="750.02" y2="174.97" stroke="#ffffff" stroke-width="0.55" stroke-opacity="0.4"/>
<line x1="751.63" y1="177.20" x2="751.63" y2="173.16" stroke="#ffffff" stroke-width="0.55" stroke-opacity="0.4"/>
<line x1="753.07" y1="177.20" x2="753.07" y2="175.59" stroke="#ffffff" stroke-width="0.55" stroke-opacity="0.4"/>
<line x1="754.37" y1="177.20" x2="754.37" y2="173.96" stroke="#ffffff" stroke-width="0.55" stroke-opacity="0.4"/>
<line x1="756.01" y1="177.20" x2="756.01" y2="170.27" stroke="#ffffff" stroke-width="0.55" stroke-opacity="0.4"/>
<line x1="756.77" y1="177.20" x2="756.77" y2="172.01" stroke="#ffffff" stroke-width="0.55" stroke-opacity="0.4"/>
<line x1="757.84" y1="177.20" x2="757.84" y2="174.64" stroke="#ffffff" stroke-width="0.55" stroke-opacity="0.4"/>
<polygon points="587.4,20.7 624.6,13.6 624.6,20.7" fill="#000"/>
<text x="623.8000000000001" y="19.8" font-family="Liberation Serif" font-size="4.6" fill="#fff" text-anchor="end">oxidation</text>
<polygon points="538.6,110.9 576.7,104.5 576.7,110.9" fill="#000"/>
<text x="575.9000000000001" y="110.0" font-family="Liberation Serif" font-size="4.6" fill="#fff" text-anchor="end">oxidation</text>
<polygon points="433.5,155.2 471.7,147.9 471.7,155.2" fill="#000"/>
<text x="470.9" y="154.29999999999998" font-family="Liberation Serif" font-size="4.6" fill="#fff" text-anchor="end">oxidation</text>
<polygon points="620.7,92.6 658.3,85.9 658.3,92.6" fill="#000"/>
<text x="657.5" y="91.69999999999999" font-family="Liberation Serif" font-size="4.6" fill="#fff" text-anchor="end">oxidation</text>
<polygon points="656.3,130.7 693.8,123.1 693.8,130.7" fill="#000"/>
<text x="693.0" y="129.79999999999998" font-family="Liberation Serif" font-size="4.6" fill="#fff" text-anchor="end">oxidation</text>
<polygon points="685.7,142.7 723.6,135.3 723.6,142.7" fill="#000"/>
<text x="722.8000000000001" y="141.79999999999998" font-family="Liberation Serif" font-size="4.6" fill="#fff" text-anchor="end">oxidation</text>
<polygon points="719.3,155.5 757,148.1 757,155.5" fill="#000"/>
<text x="756.2" y="154.6" font-family="Liberation Serif" font-size="4.6" fill="#fff" text-anchor="end">oxidation</text>
<rect x="16.5" y="203.5" width="220.00" height="158" fill="none" stroke="#a6a6a6" stroke-width="1.1"/>
<rect x="241.5" y="203.5" width="246.00" height="158" fill="none" stroke="#a6a6a6" stroke-width="1.1"/>
<rect x="490.5" y="203.5" width="292.00" height="158" fill="none" stroke="#a6a6a6" stroke-width="1.1"/>
<rect x="29.5" y="205.5" width="36.50" height="137.00" fill="none" stroke="#e4c2b8" stroke-width="1"/>
<rect x="173.5" y="205.5" width="37.00" height="137.00" fill="none" stroke="#e6e4bc" stroke-width="1"/>
<rect x="253.5" y="205.5" width="56.00" height="136.00" fill="none" stroke="#e0c4b8" stroke-width="1"/>
<rect x="427.5" y="205.5" width="37.00" height="136.50" fill="none" stroke="#e6e4bc" stroke-width="1"/>
<rect x="496.5" y="205.5" width="61.00" height="136.50" fill="none" stroke="#dcc8bc" stroke-width="1"/>
<rect x="694.5" y="205.5" width="61.00" height="136.50" fill="none" stroke="#e6e4bc" stroke-width="1"/>
<line x1="17.50" y1="339.60" x2="17.50" y2="338.24" stroke="#333" stroke-width="0.5" />
<line x1="19.86" y1="339.60" x2="19.86" y2="338.44" stroke="#333" stroke-width="0.5" />
<line x1="22.24" y1="339.60" x2="22.24" y2="337.56" stroke="#333" stroke-width="0.5" />
<line x1="24.47" y1="339.60" x2="24.47" y2="338.25" stroke="#333" stroke-width="0.5" />
<line x1="26.48" y1="339.60" x2="26.48" y2="338.39" stroke="#333" stroke-width="0.5" />
<line x1="29.23" y1="339.60" x2="29.23" y2="338.47" stroke="#333" stroke-width="0.5" />
<line x1="31.56" y1="339.60" x2="31.56" y2="337.92" stroke="#333" stroke-width="0.5" />
<line x1="32.70" y1="339.60" x2="32.70" y2="338.65" stroke="#333" stroke-width="0.5" />
<line x1="35.34" y1="339.60" x2="35.34" y2="337.68" stroke="#333" stroke-width="0.5" />
<line x1="37.31" y1="339.60" x2="37.31" y2="337.75" stroke="#333" stroke-width="0.5" />
<line x1="39.49" y1="339.60" x2="39.49" y2="337.74" stroke="#333" stroke-width="0.5" />
<line x1="40.67" y1="339.60" x2="40.67" y2="337.58" stroke="#333" stroke-width="0.5" />
<line x1="42.90" y1="339.60" x2="42.90" y2="338.02" stroke="#333" stroke-width="0.5" />
<line x1="44.51" y1="339.60" x2="44.51" y2="337.72" stroke="#333" stroke-width="0.5" />
<line x1="47.46" y1="339.60" x2="47.46" y2="338.69" stroke="#333" stroke-width="0.5" />
<line x1="49.94" y1="339.60" x2="49.94" y2="337.60" stroke="#333" stroke-width="0.5" />
<line x1="51.50" y1="339.60" x2="51.50" y2="338.69" stroke="#333" stroke-width="0.5" />
<line x1="53.02" y1="339.60" x2="53.02" y2="338.31" stroke="#333" stroke-width="0.5" />
<line x1="54.32" y1="339.60" x2="54.32" y2="338.69" stroke="#333" stroke-width="0.5" />
<line x1="56.95" y1="339.60" x2="56.95" y2="338.68" stroke="#333" stroke-width="0.5" />
<line x1="59.91" y1="339.60" x2="59.91" y2="338.54" stroke="#333" stroke-width="0.5" />
<line x1="62.53" y1="339.60" x2="62.53" y2="338.70" stroke="#333" stroke-width="0.5" />
<line x1="65.08" y1="339.60" x2="65.08" y2="338.05" stroke="#333" stroke-width="0.5" />
<line x1="67.06" y1="339.60" x2="67.06" y2="337.64" stroke="#333" stroke-width="0.5" />
<line x1="68.23" y1="339.60" x2="68.23" y2="338.21" stroke="#333" stroke-width="0.5" />
<line x1="69.52" y1="339.60" x2="69.52" y2="338.66" stroke="#333" stroke-width="0.5" />
<line x1="72.10" y1="339.60" x2="72.10" y2="338.32" stroke="#333" stroke-width="0.5" />
<line x1="73.21" y1="339.60" x2="73.21" y2="338.65" stroke="#333" stroke-width="0.5" />
<line x1="75.65" y1="339.60" x2="75.65" y2="338.69" stroke="#333" stroke-width="0.5" />
<line x1="77.28" y1="339.60" x2="77.28" y2="338.49" stroke="#333" stroke-width="0.5" />
<line x1="78.62" y1="339.60" x2="78.62" y2="338.69" stroke="#333" stroke-width="0.5" />
<line x1="81.53" y1="339.60" x2="81.53" y2="338.22" stroke="#333" stroke-width="0.5" />
<line x1="82.78" y1="339.60" x2="82.78" y2="338.24" stroke="#333" stroke-width="0.5" />
<line x1="85.48" y1="339.60" x2="85.48" y2="338.27" stroke="#333" stroke-width="0.5" />
<line x1="88.31" y1="339.60" x2="88.31" y2="337.60" stroke="#333" stroke-width="0.5" />
<line x1="90.18" y1="339.60" x2="90.18" y2="338.69" stroke="#333" stroke-width="0.5" />
<line x1="91.63" y1="339.60" x2="91.63" y2="338.11" stroke="#333" stroke-width="0.5" />
<line x1="92.65" y1="339.60" x2="92.65" y2="337.75" stroke="#333" stroke-width="0.5" />
<line x1="94.18" y1="339.60" x2="94.18" y2="336.88" stroke="#333" stroke-width="0.5" />
<line x1="96.73" y1="339.60" x2="96.73" y2="338.08" stroke="#333" stroke-width="0.5" />
<line x1="98.97" y1="339.60" x2="98.97" y2="338.68" stroke="#333" stroke-width="0.5" />
<line x1="100.16" y1="339.60" x2="100.16" y2="338.60" stroke="#333" stroke-width="0.5" />
<line x1="102.25" y1="339.60" x2="102.25" y2="338.19" stroke="#333" stroke-width="0.5" />
<line x1="103.92" y1="339.60" x2="103.92" y2="338.55" stroke="#333" stroke-width="0.5" />
<line x1="106.39" y1="339.60" x2="106.39" y2="338.54" stroke="#333" stroke-width="0.5" />
<line x1="107.78" y1="339.60" x2="107.78" y2="338.49" stroke="#333" stroke-width="0.5" />
<line x1="109.65" y1="339.60" x2="109.65" y2="337.91" stroke="#333" stroke-width="0.5" />
<line x1="111.81" y1="339.60" x2="111.81" y2="338.62" stroke="#333" stroke-width="0.5" />
<line x1="114.26" y1="339.60" x2="114.26" y2="338.69" stroke="#333" stroke-width="0.5" />
<line x1="115.77" y1="339.60" x2="115.77" y2="338.60" stroke="#333" stroke-width="0.5" />
<line x1="117.17" y1="339.60" x2="117.17" y2="336.80" stroke="#333" stroke-width="0.5" />
<line x1="118.64" y1="339.60" x2="118.64" y2="338.62" stroke="#333" stroke-width="0.5" />
<line x1="121.31" y1="339.60" x2="121.31" y2="338.13" stroke="#333" stroke-width="0.5" />
<line x1="122.58" y1="339.60" x2="122.58" y2="338.66" stroke="#333" stroke-width="0.5" />
<line x1="124.59" y1="339.60" x2="124.59" y2="337.87" stroke="#333" stroke-width="0.5" />
<line x1="127.31" y1="339.60" x2="127.31" y2="337.20" stroke="#333" stroke-width="0.5" />
<line x1="128.99" y1="339.60" x2="128.99" y2="336.98" stroke="#333" stroke-width="0.5" />
<line x1="141.00" y1="339.60" x2="141.00" y2="338.68" stroke="#333" stroke-width="0.5" />
<line x1="142.42" y1="339.60" x2="142.42" y2="338.58" stroke="#333" stroke-width="0.5" />
<line x1="145.12" y1="339.60" x2="145.12" y2="338.68" stroke="#333" stroke-width="0.5" />
<line x1="146.56" y1="339.60" x2="146.56" y2="338.63" stroke="#333" stroke-width="0.5" />
<line x1="148.99" y1="339.60" x2="148.99" y2="338.05" stroke="#333" stroke-width="0.5" />
<line x1="151.94" y1="339.60" x2="151.94" y2="337.58" stroke="#333" stroke-width="0.5" />
<line x1="153.40" y1="339.60" x2="153.40" y2="338.70" stroke="#333" stroke-width="0.5" />
<line x1="155.37" y1="339.60" x2="155.37" y2="337.81" stroke="#333" stroke-width="0.5" />
<line x1="158.00" y1="339.60" x2="158.00" y2="338.63" stroke="#333" stroke-width="0.5" />
<line x1="160.23" y1="339.60" x2="160.23" y2="338.70" stroke="#333" stroke-width="0.5" />
<line x1="163.15" y1="339.60" x2="163.15" y2="337.94" stroke="#333" stroke-width="0.5" />
<line x1="165.47" y1="339.60" x2="165.47" y2="338.70" stroke="#333" stroke-width="0.5" />
<line x1="167.06" y1="339.60" x2="167.06" y2="337.99" stroke="#333" stroke-width="0.5" />
<line x1="169.04" y1="339.60" x2="169.04" y2="338.37" stroke="#333" stroke-width="0.5" />
<line x1="171.71" y1="339.60" x2="171.71" y2="338.51" stroke="#333" stroke-width="0.5" />
<line x1="173.06" y1="339.60" x2="173.06" y2="338.55" stroke="#333" stroke-width="0.5" />
<line x1="174.16" y1="339.60" x2="174.16" y2="337.01" stroke="#333" stroke-width="0.5" />
<line x1="177.09" y1="339.60" x2="177.09" y2="337.90" stroke="#333" stroke-width="0.5" />
<line x1="178.22" y1="339.60" x2="178.22" y2="338.62" stroke="#333" stroke-width="0.5" />
<line x1="179.80" y1="339.60" x2="179.80" y2="338.69" stroke="#333" stroke-width="0.5" />
<line x1="181.96" y1="339.60" x2="181.96" y2="338.68" stroke="#333" stroke-width="0.5" />
<line x1="184.07" y1="339.60" x2="184.07" y2="338.03" stroke="#333" stroke-width="0.5" />
<line x1="187.06" y1="339.60" x2="187.06" y2="338.62" stroke="#333" stroke-width="0.5" />
<line x1="188.21" y1="339.60" x2="188.21" y2="337.70" stroke="#333" stroke-width="0.5" />
<line x1="189.56" y1="339.60" x2="189.56" y2="337.90" stroke="#333" stroke-width="0.5" />
<line x1="190.82" y1="339.60" x2="190.82" y2="337.77" stroke="#333" stroke-width="0.5" />
<line x1="192.53" y1="339.60" x2="192.53" y2="337.95" stroke="#333" stroke-width="0.5" />
<line x1="194.67" y1="339.60" x2="194.67" y2="338.52" stroke="#333" stroke-width="0.5" />
<line x1="197.30" y1="339.60" x2="197.30" y2="337.96" stroke="#333" stroke-width="0.5" />
<line x1="198.43" y1="339.60" x2="198.43" y2="338.31" stroke="#333" stroke-width="0.5" />
<line x1="199.87" y1="339.60" x2="199.87" y2="338.70" stroke="#333" stroke-width="0.5" />
<line x1="202.43" y1="339.60" x2="202.43" y2="338.09" stroke="#333" stroke-width="0.5" />
<line x1="204.31" y1="339.60" x2="204.31" y2="337.91" stroke="#333" stroke-width="0.5" />
<line x1="206.75" y1="339.60" x2="206.75" y2="338.10" stroke="#333" stroke-width="0.5" />
<line x1="209.66" y1="339.60" x2="209.66" y2="338.22" stroke="#333" stroke-width="0.5" />
<line x1="211.05" y1="339.60" x2="211.05" y2="338.50" stroke="#333" stroke-width="0.5" />
<line x1="213.04" y1="339.60" x2="213.04" y2="338.02" stroke="#333" stroke-width="0.5" />
<line x1="215.86" y1="339.60" x2="215.86" y2="337.83" stroke="#333" stroke-width="0.5" />
<line x1="218.33" y1="339.60" x2="218.33" y2="338.05" stroke="#333" stroke-width="0.5" />
<line x1="220.15" y1="339.60" x2="220.15" y2="338.41" stroke="#333" stroke-width="0.5" />
<line x1="222.95" y1="339.60" x2="222.95" y2="338.53" stroke="#333" stroke-width="0.5" />
<line x1="224.11" y1="339.60" x2="224.11" y2="338.35" stroke="#333" stroke-width="0.5" />
<line x1="227.01" y1="339.60" x2="227.01" y2="338.22" stroke="#333" stroke-width="0.5" />
<line x1="228.33" y1="339.60" x2="228.33" y2="338.70" stroke="#333" stroke-width="0.5" />
<line x1="230.55" y1="339.60" x2="230.55" y2="338.41" stroke="#333" stroke-width="0.5" />
<line x1="232.37" y1="339.60" x2="232.37" y2="336.21" stroke="#333" stroke-width="0.5" />
<line x1="16.80" y1="339.60" x2="129.60" y2="339.60" stroke="#6a1e4e" stroke-width="1.4" />
<line x1="131.60" y1="340.20" x2="137.20" y2="334.50" stroke="#2a2a2a" stroke-width="0.8" />
<line x1="133.50" y1="341.60" x2="139.10" y2="335.90" stroke="#2a2a2a" stroke-width="0.8" />
<line x1="140.80" y1="339.60" x2="233.80" y2="339.60" stroke="#6a1e4e" stroke-width="1.4" />
<line x1="34.90" y1="339.60" x2="34.90" y2="265.50" stroke="#151515" stroke-width="1.0" />
<line x1="45.00" y1="339.60" x2="45.00" y2="268.00" stroke="#151515" stroke-width="1.0" />
<line x1="54.80" y1="339.60" x2="54.80" y2="289.90" stroke="#151515" stroke-width="1.0" />
<line x1="57.70" y1="339.60" x2="57.70" y2="330.00" stroke="#151515" stroke-width="1.0" />
<line x1="59.90" y1="339.60" x2="59.90" y2="333.00" stroke="#151515" stroke-width="1.0" />
<line x1="62.00" y1="339.60" x2="62.00" y2="332.00" stroke="#151515" stroke-width="1.0" />
<line x1="64.20" y1="339.60" x2="64.20" y2="331.00" stroke="#151515" stroke-width="1.0" />
<line x1="66.50" y1="339.60" x2="66.50" y2="324.00" stroke="#151515" stroke-width="1.0" />
<line x1="65.20" y1="339.60" x2="65.20" y2="324.00" stroke="#151515" stroke-width="1.0" />
<line x1="69.80" y1="339.60" x2="69.80" y2="326.00" stroke="#151515" stroke-width="1.0" />
<line x1="72.60" y1="339.60" x2="72.60" y2="331.00" stroke="#151515" stroke-width="1.0" />
<line x1="76.00" y1="339.60" x2="76.00" y2="335.00" stroke="#151515" stroke-width="1.0" />
<line x1="80.50" y1="339.60" x2="80.50" y2="334.00" stroke="#151515" stroke-width="1.0" />
<line x1="91.90" y1="339.60" x2="91.90" y2="333.00" stroke="#151515" stroke-width="1.0" />
<line x1="121.00" y1="339.60" x2="121.00" y2="335.50" stroke="#151515" stroke-width="1.0" />
<rect x="64.3" y="324" width="2.6" height="15.6" fill="#777"/>
<line x1="155.00" y1="339.60" x2="155.00" y2="335.00" stroke="#151515" stroke-width="1.0" />
<line x1="180.70" y1="339.60" x2="180.70" y2="310.20" stroke="#151515" stroke-width="1.0" />
<line x1="191.10" y1="339.60" x2="191.10" y2="307.80" stroke="#151515" stroke-width="1.0" />
<line x1="201.00" y1="339.60" x2="201.00" y2="322.60" stroke="#151515" stroke-width="1.0" />
<line x1="204.50" y1="339.60" x2="204.50" y2="334.00" stroke="#151515" stroke-width="1.0" />
<line x1="207.00" y1="339.60" x2="207.00" y2="333.00" stroke="#151515" stroke-width="1.0" />
<line x1="214.00" y1="339.60" x2="214.00" y2="335.00" stroke="#151515" stroke-width="1.0" />
<line x1="221.00" y1="339.60" x2="221.00" y2="336.50" stroke="#151515" stroke-width="1.0" />
<rect x="209.5" y="333.2" width="2.6" height="6" fill="#333"/>
<line x1="61.50" y1="339.60" x2="61.50" y2="344.60" stroke="#999" stroke-width="0.7" />
<line x1="121.30" y1="339.60" x2="121.30" y2="344.60" stroke="#999" stroke-width="0.7" />
<line x1="144.20" y1="339.60" x2="144.20" y2="344.60" stroke="#999" stroke-width="0.7" />
<line x1="204.40" y1="339.60" x2="204.40" y2="344.60" stroke="#999" stroke-width="0.7" />
<text x="56.02" y="355.40" font-family="Liberation Sans" font-size="8.8" fill="#404040" textLength="12.54" lengthAdjust="spacingAndGlyphs">750</text>
<text x="116.52" y="355.40" font-family="Liberation Sans" font-size="8.8" fill="#404040" textLength="12.54" lengthAdjust="spacingAndGlyphs">752</text>
<text x="141.52" y="355.40" font-family="Liberation Sans" font-size="8.8" fill="#404040" textLength="12.54" lengthAdjust="spacingAndGlyphs">762</text>
<text x="201.92" y="355.40" font-family="Liberation Sans" font-size="8.8" fill="#404040" textLength="12.54" lengthAdjust="spacingAndGlyphs">764</text>
<text x="18.09" y="355.30" font-family="Liberation Sans" font-size="7.20" fill="#404040" textLength="10.78" lengthAdjust="spacingAndGlyphs" font-style="italic" >m/z</text>
<text x="32.45" y="260.50" font-family="Liberation Sans" font-size="7.80" fill="#1a1a1a" textLength="28.62" lengthAdjust="spacingAndGlyphs"  >Y22 (+3)</text>
<text x="68.98" y="321.30" font-family="Liberation Sans" font-size="7.80" fill="#1a1a1a" textLength="28.90" lengthAdjust="spacingAndGlyphs"  >B50 (+7)</text>
<text x="55.18" y="335.00" font-family="Liberation Sans" font-size="7.80" fill="#1a1a1a" textLength="37.27" lengthAdjust="spacingAndGlyphs"  >B177 (+18)</text>
<text x="140.55" y="336.80" font-family="Liberation Sans" font-size="7.80" fill="#1a1a1a" textLength="28.51" lengthAdjust="spacingAndGlyphs"  >Y31 (+4)</text>
<text x="174.65" y="302.60" font-family="Liberation Sans" font-size="7.80" fill="#e0901c" textLength="29.54" lengthAdjust="spacingAndGlyphs"  >Y22 (+3)</text>
<text x="219.55" y="334.80" font-family="Liberation Sans" font-size="7.80" fill="#e0901c" textLength="13.19" lengthAdjust="spacingAndGlyphs"  >Y72</text>
<line x1="242.50" y1="339.60" x2="242.50" y2="338.07" stroke="#333" stroke-width="0.5" />
<line x1="244.16" y1="339.60" x2="244.16" y2="338.51" stroke="#333" stroke-width="0.5" />
<line x1="246.68" y1="339.60" x2="246.68" y2="338.69" stroke="#333" stroke-width="0.5" />
<line x1="249.11" y1="339.60" x2="249.11" y2="338.58" stroke="#333" stroke-width="0.5" />
<line x1="250.82" y1="339.60" x2="250.82" y2="338.31" stroke="#333" stroke-width="0.5" />
<line x1="252.46" y1="339.60" x2="252.46" y2="338.39" stroke="#333" stroke-width="0.5" />
<line x1="254.38" y1="339.60" x2="254.38" y2="338.70" stroke="#333" stroke-width="0.5" />
<line x1="257.11" y1="339.60" x2="257.11" y2="338.63" stroke="#333" stroke-width="0.5" />
<line x1="259.36" y1="339.60" x2="259.36" y2="338.65" stroke="#333" stroke-width="0.5" />
<line x1="260.50" y1="339.60" x2="260.50" y2="338.31" stroke="#333" stroke-width="0.5" />
<line x1="263.05" y1="339.60" x2="263.05" y2="338.35" stroke="#333" stroke-width="0.5" />
<line x1="265.74" y1="339.60" x2="265.74" y2="338.63" stroke="#333" stroke-width="0.5" />
<line x1="268.69" y1="339.60" x2="268.69" y2="337.81" stroke="#333" stroke-width="0.5" />
<line x1="270.95" y1="339.60" x2="270.95" y2="338.58" stroke="#333" stroke-width="0.5" />
<line x1="272.61" y1="339.60" x2="272.61" y2="338.65" stroke="#333" stroke-width="0.5" />
<line x1="274.92" y1="339.60" x2="274.92" y2="338.30" stroke="#333" stroke-width="0.5" />
<line x1="275.92" y1="339.60" x2="275.92" y2="338.66" stroke="#333" stroke-width="0.5" />
<line x1="277.66" y1="339.60" x2="277.66" y2="337.87" stroke="#333" stroke-width="0.5" />
<line x1="280.26" y1="339.60" x2="280.26" y2="338.67" stroke="#333" stroke-width="0.5" />
<line x1="282.86" y1="339.60" x2="282.86" y2="338.61" stroke="#333" stroke-width="0.5" />
<line x1="285.06" y1="339.60" x2="285.06" y2="336.77" stroke="#333" stroke-width="0.5" />
<line x1="286.78" y1="339.60" x2="286.78" y2="337.73" stroke="#333" stroke-width="0.5" />
<line x1="288.33" y1="339.60" x2="288.33" y2="337.70" stroke="#333" stroke-width="0.5" />
<line x1="290.73" y1="339.60" x2="290.73" y2="338.47" stroke="#333" stroke-width="0.5" />
<line x1="292.51" y1="339.60" x2="292.51" y2="338.62" stroke="#333" stroke-width="0.5" />
<line x1="293.96" y1="339.60" x2="293.96" y2="338.22" stroke="#333" stroke-width="0.5" />
<line x1="295.20" y1="339.60" x2="295.20" y2="338.44" stroke="#333" stroke-width="0.5" />
<line x1="297.76" y1="339.60" x2="297.76" y2="338.25" stroke="#333" stroke-width="0.5" />
<line x1="299.17" y1="339.60" x2="299.17" y2="336.94" stroke="#333" stroke-width="0.5" />
<line x1="301.21" y1="339.60" x2="301.21" y2="338.70" stroke="#333" stroke-width="0.5" />
<line x1="302.45" y1="339.60" x2="302.45" y2="338.58" stroke="#333" stroke-width="0.5" />
<line x1="303.89" y1="339.60" x2="303.89" y2="338.69" stroke="#333" stroke-width="0.5" />
<line x1="306.79" y1="339.60" x2="306.79" y2="337.73" stroke="#333" stroke-width="0.5" />
<line x1="308.06" y1="339.60" x2="308.06" y2="338.66" stroke="#333" stroke-width="0.5" />
<line x1="309.09" y1="339.60" x2="309.09" y2="338.68" stroke="#333" stroke-width="0.5" />
<line x1="312.02" y1="339.60" x2="312.02" y2="337.84" stroke="#333" stroke-width="0.5" />
<line x1="313.66" y1="339.60" x2="313.66" y2="338.16" stroke="#333" stroke-width="0.5" />
<line x1="316.46" y1="339.60" x2="316.46" y2="337.76" stroke="#333" stroke-width="0.5" />
<line x1="319.03" y1="339.60" x2="319.03" y2="338.21" stroke="#333" stroke-width="0.5" />
<line x1="321.18" y1="339.60" x2="321.18" y2="337.84" stroke="#333" stroke-width="0.5" />
<line x1="322.23" y1="339.60" x2="322.23" y2="338.50" stroke="#333" stroke-width="0.5" />
<line x1="324.65" y1="339.60" x2="324.65" y2="338.47" stroke="#333" stroke-width="0.5" />
<line x1="327.16" y1="339.60" x2="327.16" y2="338.65" stroke="#333" stroke-width="0.5" />
<line x1="329.90" y1="339.60" x2="329.90" y2="338.70" stroke="#333" stroke-width="0.5" />
<line x1="331.76" y1="339.60" x2="331.76" y2="336.48" stroke="#333" stroke-width="0.5" />
<line x1="343.50" y1="339.60" x2="343.50" y2="338.61" stroke="#333" stroke-width="0.5" />
<line x1="345.82" y1="339.60" x2="345.82" y2="338.07" stroke="#333" stroke-width="0.5" />
<line x1="348.64" y1="339.60" x2="348.64" y2="338.69" stroke="#333" stroke-width="0.5" />
<line x1="350.44" y1="339.60" x2="350.44" y2="338.07" stroke="#333" stroke-width="0.5" />
<line x1="353.42" y1="339.60" x2="353.42" y2="337.94" stroke="#333" stroke-width="0.5" />
<line x1="355.90" y1="339.60" x2="355.90" y2="338.03" stroke="#333" stroke-width="0.5" />
<line x1="358.26" y1="339.60" x2="358.26" y2="337.97" stroke="#333" stroke-width="0.5" />
<line x1="359.57" y1="339.60" x2="359.57" y2="338.70" stroke="#333" stroke-width="0.5" />
<line x1="362.20" y1="339.60" x2="362.20" y2="338.66" stroke="#333" stroke-width="0.5" />
<line x1="364.72" y1="339.60" x2="364.72" y2="338.67" stroke="#333" stroke-width="0.5" />
<line x1="367.03" y1="339.60" x2="367.03" y2="338.31" stroke="#333" stroke-width="0.5" />
<line x1="369.85" y1="339.60" x2="369.85" y2="338.65" stroke="#333" stroke-width="0.5" />
<line x1="372.74" y1="339.60" x2="372.74" y2="338.69" stroke="#333" stroke-width="0.5" />
<line x1="374.84" y1="339.60" x2="374.84" y2="337.86" stroke="#333" stroke-width="0.5" />
<line x1="376.66" y1="339.60" x2="376.66" y2="338.65" stroke="#333" stroke-width="0.5" />
<line x1="378.30" y1="339.60" x2="378.30" y2="336.37" stroke="#333" stroke-width="0.5" />
<line x1="381.08" y1="339.60" x2="381.08" y2="338.70" stroke="#333" stroke-width="0.5" />
<line x1="383.98" y1="339.60" x2="383.98" y2="338.60" stroke="#333" stroke-width="0.5" />
<line x1="385.81" y1="339.60" x2="385.81" y2="338.70" stroke="#333" stroke-width="0.5" />
<line x1="387.80" y1="339.60" x2="387.80" y2="336.56" stroke="#333" stroke-width="0.5" />
<line x1="389.12" y1="339.60" x2="389.12" y2="338.65" stroke="#333" stroke-width="0.5" />
<line x1="390.17" y1="339.60" x2="390.17" y2="338.70" stroke="#333" stroke-width="0.5" />
<line x1="391.94" y1="339.60" x2="391.94" y2="337.98" stroke="#333" stroke-width="0.5" />
<line x1="393.42" y1="339.60" x2="393.42" y2="338.15" stroke="#333" stroke-width="0.5" />
<line x1="395.95" y1="339.60" x2="395.95" y2="338.26" stroke="#333" stroke-width="0.5" />
<line x1="397.89" y1="339.60" x2="397.89" y2="338.52" stroke="#333" stroke-width="0.5" />
<line x1="400.00" y1="339.60" x2="400.00" y2="338.22" stroke="#333" stroke-width="0.5" />
<line x1="402.04" y1="339.60" x2="402.04" y2="338.02" stroke="#333" stroke-width="0.5" />
<line x1="403.43" y1="339.60" x2="403.43" y2="338.68" stroke="#333" stroke-width="0.5" />
<line x1="406.33" y1="339.60" x2="406.33" y2="338.55" stroke="#333" stroke-width="0.5" />
<line x1="409.26" y1="339.60" x2="409.26" y2="338.21" stroke="#333" stroke-width="0.5" />
<line x1="411.75" y1="339.60" x2="411.75" y2="338.45" stroke="#333" stroke-width="0.5" />
<line x1="413.75" y1="339.60" x2="413.75" y2="338.30" stroke="#333" stroke-width="0.5" />
<line x1="416.01" y1="339.60" x2="416.01" y2="338.67" stroke="#333" stroke-width="0.5" />
<line x1="417.87" y1="339.60" x2="417.87" y2="338.24" stroke="#333" stroke-width="0.5" />
<line x1="419.28" y1="339.60" x2="419.28" y2="338.56" stroke="#333" stroke-width="0.5" />
<line x1="422.21" y1="339.60" x2="422.21" y2="338.46" stroke="#333" stroke-width="0.5" />
<line x1="425.14" y1="339.60" x2="425.14" y2="338.09" stroke="#333" stroke-width="0.5" />
<line x1="427.14" y1="339.60" x2="427.14" y2="338.68" stroke="#333" stroke-width="0.5" />
<line x1="428.31" y1="339.60" x2="428.31" y2="338.54" stroke="#333" stroke-width="0.5" />
<line x1="430.27" y1="339.60" x2="430.27" y2="337.74" stroke="#333" stroke-width="0.5" />
<line x1="431.60" y1="339.60" x2="431.60" y2="338.67" stroke="#333" stroke-width="0.5" />
<line x1="433.63" y1="339.60" x2="433.63" y2="338.53" stroke="#333" stroke-width="0.5" />
<line x1="435.45" y1="339.60" x2="435.45" y2="338.24" stroke="#333" stroke-width="0.5" />
<line x1="436.55" y1="339.60" x2="436.55" y2="338.45" stroke="#333" stroke-width="0.5" />
<line x1="438.71" y1="339.60" x2="438.71" y2="338.49" stroke="#333" stroke-width="0.5" />
<line x1="441.64" y1="339.60" x2="441.64" y2="338.15" stroke="#333" stroke-width="0.5" />
<line x1="443.66" y1="339.60" x2="443.66" y2="338.69" stroke="#333" stroke-width="0.5" />
<line x1="445.05" y1="339.60" x2="445.05" y2="338.56" stroke="#333" stroke-width="0.5" />
<line x1="446.58" y1="339.60" x2="446.58" y2="337.95" stroke="#333" stroke-width="0.5" />
<line x1="449.53" y1="339.60" x2="449.53" y2="338.70" stroke="#333" stroke-width="0.5" />
<line x1="451.17" y1="339.60" x2="451.17" y2="338.37" stroke="#333" stroke-width="0.5" />
<line x1="453.35" y1="339.60" x2="453.35" y2="337.82" stroke="#333" stroke-width="0.5" />
<line x1="455.10" y1="339.60" x2="455.10" y2="338.14" stroke="#333" stroke-width="0.5" />
<line x1="456.63" y1="339.60" x2="456.63" y2="337.85" stroke="#333" stroke-width="0.5" />
<line x1="457.78" y1="339.60" x2="457.78" y2="338.41" stroke="#333" stroke-width="0.5" />
<line x1="460.49" y1="339.60" x2="460.49" y2="338.03" stroke="#333" stroke-width="0.5" />
<line x1="462.51" y1="339.60" x2="462.51" y2="338.62" stroke="#333" stroke-width="0.5" />
<line x1="464.40" y1="339.60" x2="464.40" y2="338.01" stroke="#333" stroke-width="0.5" />
<line x1="467.36" y1="339.60" x2="467.36" y2="338.06" stroke="#333" stroke-width="0.5" />
<line x1="469.55" y1="339.60" x2="469.55" y2="338.53" stroke="#333" stroke-width="0.5" />
<line x1="472.21" y1="339.60" x2="472.21" y2="338.67" stroke="#333" stroke-width="0.5" />
<line x1="474.57" y1="339.60" x2="474.57" y2="338.57" stroke="#333" stroke-width="0.5" />
<line x1="476.41" y1="339.60" x2="476.41" y2="338.22" stroke="#333" stroke-width="0.5" />
<line x1="478.67" y1="339.60" x2="478.67" y2="337.85" stroke="#333" stroke-width="0.5" />
<line x1="480.63" y1="339.60" x2="480.63" y2="338.55" stroke="#333" stroke-width="0.5" />
<line x1="482.97" y1="339.60" x2="482.97" y2="338.69" stroke="#333" stroke-width="0.5" />
<line x1="241.80" y1="339.60" x2="333.20" y2="339.60" stroke="#6a1e4e" stroke-width="1.4" />
<line x1="333.80" y1="342.20" x2="339.40" y2="336.20" stroke="#2a2a2a" stroke-width="0.8" />
<line x1="335.70" y1="343.60" x2="341.30" y2="337.60" stroke="#2a2a2a" stroke-width="0.8" />
<line x1="343.20" y1="339.60" x2="483.90" y2="339.60" stroke="#6a1e4e" stroke-width="1.4" />
<line x1="243.50" y1="339.60" x2="243.50" y2="336.00" stroke="#151515" stroke-width="1.0" />
<line x1="248.30" y1="339.60" x2="248.30" y2="334.00" stroke="#151515" stroke-width="1.0" />
<line x1="256.60" y1="339.60" x2="256.60" y2="237.30" stroke="#151515" stroke-width="1.0" />
<line x1="259.20" y1="339.60" x2="259.20" y2="336.00" stroke="#151515" stroke-width="1.0" />
<line x1="267.60" y1="339.60" x2="267.60" y2="216.90" stroke="#151515" stroke-width="1.0" />
<line x1="278.80" y1="339.60" x2="278.80" y2="271.20" stroke="#151515" stroke-width="1.0" />
<line x1="290.30" y1="339.60" x2="290.30" y2="311.80" stroke="#151515" stroke-width="1.0" />
<line x1="301.30" y1="339.60" x2="301.30" y2="330.10" stroke="#151515" stroke-width="1.0" />
<line x1="375.20" y1="339.60" x2="375.20" y2="335.50" stroke="#151515" stroke-width="1.0" />
<line x1="385.50" y1="339.60" x2="385.50" y2="336.00" stroke="#151515" stroke-width="1.0" />
<line x1="397.40" y1="339.60" x2="397.40" y2="335.50" stroke="#151515" stroke-width="1.0" />
<line x1="408.60" y1="339.60" x2="408.60" y2="334.50" stroke="#151515" stroke-width="1.0" />
<line x1="419.90" y1="339.60" x2="419.90" y2="333.50" stroke="#151515" stroke-width="1.0" />
<line x1="431.30" y1="339.60" x2="431.30" y2="328.90" stroke="#151515" stroke-width="1.0" />
<line x1="442.10" y1="339.60" x2="442.10" y2="324.30" stroke="#151515" stroke-width="1.0" />
<line x1="453.60" y1="339.60" x2="453.60" y2="332.90" stroke="#151515" stroke-width="1.0" />
<line x1="462.00" y1="339.60" x2="462.00" y2="336.00" stroke="#151515" stroke-width="1.0" />
<line x1="253.50" y1="339.60" x2="253.50" y2="344.60" stroke="#999" stroke-width="0.7" />
<line x1="319.60" y1="339.60" x2="319.60" y2="344.60" stroke="#999" stroke-width="0.7" />
<line x1="357.90" y1="339.60" x2="357.90" y2="344.60" stroke="#999" stroke-width="0.7" />
<line x1="425.10" y1="339.60" x2="425.10" y2="344.60" stroke="#999" stroke-width="0.7" />
<text x="247.62" y="355.50" font-family="Liberation Sans" font-size="8.8" fill="#404040" textLength="12.54" lengthAdjust="spacingAndGlyphs">730</text>
<text x="314.42" y="355.50" font-family="Liberation Sans" font-size="8.8" fill="#404040" textLength="12.54" lengthAdjust="spacingAndGlyphs">732</text>
<text x="354.62" y="355.50" font-family="Liberation Sans" font-size="8.8" fill="#404040" textLength="12.54" lengthAdjust="spacingAndGlyphs">742</text>
<text x="421.62" y="355.50" font-family="Liberation Sans" font-size="8.8" fill="#404040" textLength="12.54" lengthAdjust="spacingAndGlyphs">744</text>
<text x="257.85" y="214.00" font-family="Liberation Sans" font-size="7.80" fill="#1a1a1a" textLength="28.92" lengthAdjust="spacingAndGlyphs"  >Y21 (+3)</text>
<text x="343.05" y="335.20" font-family="Liberation Sans" font-size="7.80" fill="#e0901c" textLength="33.17" lengthAdjust="spacingAndGlyphs"  >Y69 (+10)</text>
<text x="371.95" y="328.40" font-family="Liberation Sans" font-size="7.80" fill="#1a1a1a" textLength="32.56" lengthAdjust="spacingAndGlyphs"  >Y84 (+12)</text>
<text x="430.14" y="318.30" font-family="Liberation Sans" font-size="7.80" fill="#e0901c" textLength="30.46" lengthAdjust="spacingAndGlyphs"  >Y21 (+3)</text>
<line x1="491.50" y1="339.60" x2="491.50" y2="338.15" stroke="#333" stroke-width="0.5" />
<line x1="492.78" y1="339.60" x2="492.78" y2="338.62" stroke="#333" stroke-width="0.5" />
<line x1="494.48" y1="339.60" x2="494.48" y2="337.73" stroke="#333" stroke-width="0.5" />
<line x1="496.32" y1="339.60" x2="496.32" y2="337.95" stroke="#333" stroke-width="0.5" />
<line x1="497.80" y1="339.60" x2="497.80" y2="338.15" stroke="#333" stroke-width="0.5" />
<line x1="499.81" y1="339.60" x2="499.81" y2="337.60" stroke="#333" stroke-width="0.5" />
<line x1="500.71" y1="339.60" x2="500.71" y2="337.61" stroke="#333" stroke-width="0.5" />
<line x1="501.72" y1="339.60" x2="501.72" y2="338.20" stroke="#333" stroke-width="0.5" />
<line x1="502.81" y1="339.60" x2="502.81" y2="338.22" stroke="#333" stroke-width="0.5" />
<line x1="504.46" y1="339.60" x2="504.46" y2="338.36" stroke="#333" stroke-width="0.5" />
<line x1="506.51" y1="339.60" x2="506.51" y2="338.02" stroke="#333" stroke-width="0.5" />
<line x1="508.63" y1="339.60" x2="508.63" y2="338.41" stroke="#333" stroke-width="0.5" />
<line x1="509.61" y1="339.60" x2="509.61" y2="338.69" stroke="#333" stroke-width="0.5" />
<line x1="511.50" y1="339.60" x2="511.50" y2="338.63" stroke="#333" stroke-width="0.5" />
<line x1="512.76" y1="339.60" x2="512.76" y2="338.39" stroke="#333" stroke-width="0.5" />
<line x1="515.12" y1="339.60" x2="515.12" y2="338.67" stroke="#333" stroke-width="0.5" />
<line x1="516.93" y1="339.60" x2="516.93" y2="338.53" stroke="#333" stroke-width="0.5" />
<line x1="517.94" y1="339.60" x2="517.94" y2="337.61" stroke="#333" stroke-width="0.5" />
<line x1="519.67" y1="339.60" x2="519.67" y2="338.62" stroke="#333" stroke-width="0.5" />
<line x1="520.64" y1="339.60" x2="520.64" y2="338.07" stroke="#333" stroke-width="0.5" />
<line x1="522.29" y1="339.60" x2="522.29" y2="338.56" stroke="#333" stroke-width="0.5" />
<line x1="523.79" y1="339.60" x2="523.79" y2="336.28" stroke="#333" stroke-width="0.5" />
<line x1="524.97" y1="339.60" x2="524.97" y2="337.43" stroke="#333" stroke-width="0.5" />
<line x1="525.83" y1="339.60" x2="525.83" y2="338.61" stroke="#333" stroke-width="0.5" />
<line x1="527.47" y1="339.60" x2="527.47" y2="338.51" stroke="#333" stroke-width="0.5" />
<line x1="529.03" y1="339.60" x2="529.03" y2="338.41" stroke="#333" stroke-width="0.5" />
<line x1="530.66" y1="339.60" x2="530.66" y2="338.27" stroke="#333" stroke-width="0.5" />
<line x1="532.65" y1="339.60" x2="532.65" y2="338.43" stroke="#333" stroke-width="0.5" />
<line x1="534.95" y1="339.60" x2="534.95" y2="338.68" stroke="#333" stroke-width="0.5" />
<line x1="536.42" y1="339.60" x2="536.42" y2="338.48" stroke="#333" stroke-width="0.5" />
<line x1="538.60" y1="339.60" x2="538.60" y2="338.58" stroke="#333" stroke-width="0.5" />
<line x1="540.37" y1="339.60" x2="540.37" y2="338.68" stroke="#333" stroke-width="0.5" />
<line x1="541.39" y1="339.60" x2="541.39" y2="338.32" stroke="#333" stroke-width="0.5" />
<line x1="543.55" y1="339.60" x2="543.55" y2="337.55" stroke="#333" stroke-width="0.5" />
<line x1="545.09" y1="339.60" x2="545.09" y2="338.12" stroke="#333" stroke-width="0.5" />
<line x1="547.40" y1="339.60" x2="547.40" y2="338.38" stroke="#333" stroke-width="0.5" />
<line x1="548.30" y1="339.60" x2="548.30" y2="338.50" stroke="#333" stroke-width="0.5" />
<line x1="550.45" y1="339.60" x2="550.45" y2="338.38" stroke="#333" stroke-width="0.5" />
<line x1="552.46" y1="339.60" x2="552.46" y2="338.48" stroke="#333" stroke-width="0.5" />
<line x1="554.09" y1="339.60" x2="554.09" y2="338.68" stroke="#333" stroke-width="0.5" />
<line x1="556.24" y1="339.60" x2="556.24" y2="337.67" stroke="#333" stroke-width="0.5" />
<line x1="558.28" y1="339.60" x2="558.28" y2="338.70" stroke="#333" stroke-width="0.5" />
<line x1="559.57" y1="339.60" x2="559.57" y2="338.37" stroke="#333" stroke-width="0.5" />
<line x1="561.25" y1="339.60" x2="561.25" y2="338.46" stroke="#333" stroke-width="0.5" />
<line x1="563.10" y1="339.60" x2="563.10" y2="338.60" stroke="#333" stroke-width="0.5" />
<line x1="564.28" y1="339.60" x2="564.28" y2="338.56" stroke="#333" stroke-width="0.5" />
<line x1="565.88" y1="339.60" x2="565.88" y2="337.94" stroke="#333" stroke-width="0.5" />
<line x1="567.10" y1="339.60" x2="567.10" y2="338.59" stroke="#333" stroke-width="0.5" />
<line x1="567.91" y1="339.60" x2="567.91" y2="336.68" stroke="#333" stroke-width="0.5" />
<line x1="569.66" y1="339.60" x2="569.66" y2="338.25" stroke="#333" stroke-width="0.5" />
<line x1="572.05" y1="339.60" x2="572.05" y2="337.07" stroke="#333" stroke-width="0.5" />
<line x1="573.02" y1="339.60" x2="573.02" y2="338.62" stroke="#333" stroke-width="0.5" />
<line x1="575.00" y1="339.60" x2="575.00" y2="338.54" stroke="#333" stroke-width="0.5" />
<line x1="576.06" y1="339.60" x2="576.06" y2="338.63" stroke="#333" stroke-width="0.5" />
<line x1="577.72" y1="339.60" x2="577.72" y2="337.89" stroke="#333" stroke-width="0.5" />
<line x1="579.96" y1="339.60" x2="579.96" y2="338.18" stroke="#333" stroke-width="0.5" />
<line x1="581.68" y1="339.60" x2="581.68" y2="338.64" stroke="#333" stroke-width="0.5" />
<line x1="583.99" y1="339.60" x2="583.99" y2="338.70" stroke="#333" stroke-width="0.5" />
<line x1="585.28" y1="339.60" x2="585.28" y2="338.62" stroke="#333" stroke-width="0.5" />
<line x1="587.12" y1="339.60" x2="587.12" y2="338.68" stroke="#333" stroke-width="0.5" />
<line x1="589.32" y1="339.60" x2="589.32" y2="337.19" stroke="#333" stroke-width="0.5" />
<line x1="591.09" y1="339.60" x2="591.09" y2="337.69" stroke="#333" stroke-width="0.5" />
<line x1="592.69" y1="339.60" x2="592.69" y2="338.49" stroke="#333" stroke-width="0.5" />
<line x1="594.95" y1="339.60" x2="594.95" y2="338.24" stroke="#333" stroke-width="0.5" />
<line x1="596.50" y1="339.60" x2="596.50" y2="337.69" stroke="#333" stroke-width="0.5" />
<line x1="598.11" y1="339.60" x2="598.11" y2="338.58" stroke="#333" stroke-width="0.5" />
<line x1="600.48" y1="339.60" x2="600.48" y2="338.17" stroke="#333" stroke-width="0.5" />
<line x1="602.11" y1="339.60" x2="602.11" y2="338.46" stroke="#333" stroke-width="0.5" />
<line x1="603.37" y1="339.60" x2="603.37" y2="337.64" stroke="#333" stroke-width="0.5" />
<line x1="605.49" y1="339.60" x2="605.49" y2="338.61" stroke="#333" stroke-width="0.5" />
<line x1="607.17" y1="339.60" x2="607.17" y2="338.31" stroke="#333" stroke-width="0.5" />
<line x1="609.47" y1="339.60" x2="609.47" y2="338.29" stroke="#333" stroke-width="0.5" />
<line x1="610.86" y1="339.60" x2="610.86" y2="338.43" stroke="#333" stroke-width="0.5" />
<line x1="612.37" y1="339.60" x2="612.37" y2="338.61" stroke="#333" stroke-width="0.5" />
<line x1="613.75" y1="339.60" x2="613.75" y2="338.70" stroke="#333" stroke-width="0.5" />
<line x1="614.70" y1="339.60" x2="614.70" y2="337.63" stroke="#333" stroke-width="0.5" />
<line x1="615.94" y1="339.60" x2="615.94" y2="338.31" stroke="#333" stroke-width="0.5" />
<line x1="617.90" y1="339.60" x2="617.90" y2="338.58" stroke="#333" stroke-width="0.5" />
<line x1="618.76" y1="339.60" x2="618.76" y2="338.70" stroke="#333" stroke-width="0.5" />
<line x1="620.66" y1="339.60" x2="620.66" y2="338.61" stroke="#333" stroke-width="0.5" />
<line x1="622.04" y1="339.60" x2="622.04" y2="338.36" stroke="#333" stroke-width="0.5" />
<line x1="623.70" y1="339.60" x2="623.70" y2="338.15" stroke="#333" stroke-width="0.5" />
<line x1="624.91" y1="339.60" x2="624.91" y2="338.28" stroke="#333" stroke-width="0.5" />
<line x1="637.00" y1="339.60" x2="637.00" y2="338.40" stroke="#333" stroke-width="0.5" />
<line x1="639.28" y1="339.60" x2="639.28" y2="338.48" stroke="#333" stroke-width="0.5" />
<line x1="641.63" y1="339.60" x2="641.63" y2="338.26" stroke="#333" stroke-width="0.5" />
<line x1="643.67" y1="339.60" x2="643.67" y2="338.23" stroke="#333" stroke-width="0.5" />
<line x1="645.53" y1="339.60" x2="645.53" y2="338.61" stroke="#333" stroke-width="0.5" />
<line x1="646.34" y1="339.60" x2="646.34" y2="338.02" stroke="#333" stroke-width="0.5" />
<line x1="648.32" y1="339.60" x2="648.32" y2="337.47" stroke="#333" stroke-width="0.5" />
<line x1="649.29" y1="339.60" x2="649.29" y2="338.57" stroke="#333" stroke-width="0.5" />
<line x1="650.26" y1="339.60" x2="650.26" y2="337.70" stroke="#333" stroke-width="0.5" />
<line x1="651.30" y1="339.60" x2="651.30" y2="338.64" stroke="#333" stroke-width="0.5" />
<line x1="653.14" y1="339.60" x2="653.14" y2="338.70" stroke="#333" stroke-width="0.5" />
<line x1="654.24" y1="339.60" x2="654.24" y2="337.74" stroke="#333" stroke-width="0.5" />
<line x1="655.07" y1="339.60" x2="655.07" y2="337.00" stroke="#333" stroke-width="0.5" />
<line x1="657.32" y1="339.60" x2="657.32" y2="337.68" stroke="#333" stroke-width="0.5" />
<line x1="658.12" y1="339.60" x2="658.12" y2="337.56" stroke="#333" stroke-width="0.5" />
<line x1="659.96" y1="339.60" x2="659.96" y2="337.94" stroke="#333" stroke-width="0.5" />
<line x1="660.95" y1="339.60" x2="660.95" y2="338.62" stroke="#333" stroke-width="0.5" />
<line x1="661.94" y1="339.60" x2="661.94" y2="338.52" stroke="#333" stroke-width="0.5" />
<line x1="663.40" y1="339.60" x2="663.40" y2="338.67" stroke="#333" stroke-width="0.5" />
<line x1="664.76" y1="339.60" x2="664.76" y2="337.89" stroke="#333" stroke-width="0.5" />
<line x1="666.88" y1="339.60" x2="666.88" y2="337.81" stroke="#333" stroke-width="0.5" />
<line x1="668.56" y1="339.60" x2="668.56" y2="338.44" stroke="#333" stroke-width="0.5" />
<line x1="670.82" y1="339.60" x2="670.82" y2="338.55" stroke="#333" stroke-width="0.5" />
<line x1="671.71" y1="339.60" x2="671.71" y2="337.53" stroke="#333" stroke-width="0.5" />
<line x1="673.61" y1="339.60" x2="673.61" y2="338.68" stroke="#333" stroke-width="0.5" />
<line x1="675.16" y1="339.60" x2="675.16" y2="338.41" stroke="#333" stroke-width="0.5" />
<line x1="676.20" y1="339.60" x2="676.20" y2="337.77" stroke="#333" stroke-width="0.5" />
<line x1="678.20" y1="339.60" x2="678.20" y2="337.99" stroke="#333" stroke-width="0.5" />
<line x1="679.88" y1="339.60" x2="679.88" y2="338.58" stroke="#333" stroke-width="0.5" />
<line x1="681.37" y1="339.60" x2="681.37" y2="337.90" stroke="#333" stroke-width="0.5" />
<line x1="682.78" y1="339.60" x2="682.78" y2="337.19" stroke="#333" stroke-width="0.5" />
<line x1="683.92" y1="339.60" x2="683.92" y2="338.70" stroke="#333" stroke-width="0.5" />
<line x1="685.33" y1="339.60" x2="685.33" y2="336.19" stroke="#333" stroke-width="0.5" />
<line x1="687.70" y1="339.60" x2="687.70" y2="338.69" stroke="#333" stroke-width="0.5" />
<line x1="689.08" y1="339.60" x2="689.08" y2="338.62" stroke="#333" stroke-width="0.5" />
<line x1="690.45" y1="339.60" x2="690.45" y2="338.70" stroke="#333" stroke-width="0.5" />
<line x1="692.33" y1="339.60" x2="692.33" y2="338.03" stroke="#333" stroke-width="0.5" />
<line x1="693.54" y1="339.60" x2="693.54" y2="337.93" stroke="#333" stroke-width="0.5" />
<line x1="695.16" y1="339.60" x2="695.16" y2="338.60" stroke="#333" stroke-width="0.5" />
<line x1="697.42" y1="339.60" x2="697.42" y2="338.62" stroke="#333" stroke-width="0.5" />
<line x1="699.68" y1="339.60" x2="699.68" y2="338.43" stroke="#333" stroke-width="0.5" />
<line x1="701.33" y1="339.60" x2="701.33" y2="338.54" stroke="#333" stroke-width="0.5" />
<line x1="703.18" y1="339.60" x2="703.18" y2="338.51" stroke="#333" stroke-width="0.5" />
<line x1="704.12" y1="339.60" x2="704.12" y2="337.76" stroke="#333" stroke-width="0.5" />
<line x1="706.06" y1="339.60" x2="706.06" y2="338.41" stroke="#333" stroke-width="0.5" />
<line x1="706.93" y1="339.60" x2="706.93" y2="338.12" stroke="#333" stroke-width="0.5" />
<line x1="708.38" y1="339.60" x2="708.38" y2="337.99" stroke="#333" stroke-width="0.5" />
<line x1="709.99" y1="339.60" x2="709.99" y2="337.93" stroke="#333" stroke-width="0.5" />
<line x1="710.98" y1="339.60" x2="710.98" y2="338.34" stroke="#333" stroke-width="0.5" />
<line x1="712.04" y1="339.60" x2="712.04" y2="338.42" stroke="#333" stroke-width="0.5" />
<line x1="712.86" y1="339.60" x2="712.86" y2="337.73" stroke="#333" stroke-width="0.5" />
<line x1="714.24" y1="339.60" x2="714.24" y2="338.07" stroke="#333" stroke-width="0.5" />
<line x1="715.50" y1="339.60" x2="715.50" y2="338.67" stroke="#333" stroke-width="0.5" />
<line x1="717.73" y1="339.60" x2="717.73" y2="337.41" stroke="#333" stroke-width="0.5" />
<line x1="719.64" y1="339.60" x2="719.64" y2="338.09" stroke="#333" stroke-width="0.5" />
<line x1="720.70" y1="339.60" x2="720.70" y2="338.67" stroke="#333" stroke-width="0.5" />
<line x1="721.53" y1="339.60" x2="721.53" y2="338.34" stroke="#333" stroke-width="0.5" />
<line x1="723.80" y1="339.60" x2="723.80" y2="338.19" stroke="#333" stroke-width="0.5" />
<line x1="724.70" y1="339.60" x2="724.70" y2="338.41" stroke="#333" stroke-width="0.5" />
<line x1="726.25" y1="339.60" x2="726.25" y2="338.26" stroke="#333" stroke-width="0.5" />
<line x1="727.63" y1="339.60" x2="727.63" y2="337.80" stroke="#333" stroke-width="0.5" />
<line x1="728.73" y1="339.60" x2="728.73" y2="338.66" stroke="#333" stroke-width="0.5" />
<line x1="730.92" y1="339.60" x2="730.92" y2="338.49" stroke="#333" stroke-width="0.5" />
<line x1="732.31" y1="339.60" x2="732.31" y2="337.69" stroke="#333" stroke-width="0.5" />
<line x1="734.63" y1="339.60" x2="734.63" y2="337.75" stroke="#333" stroke-width="0.5" />
<line x1="735.62" y1="339.60" x2="735.62" y2="337.55" stroke="#333" stroke-width="0.5" />
<line x1="737.60" y1="339.60" x2="737.60" y2="337.03" stroke="#333" stroke-width="0.5" />
<line x1="739.45" y1="339.60" x2="739.45" y2="338.62" stroke="#333" stroke-width="0.5" />
<line x1="740.54" y1="339.60" x2="740.54" y2="338.12" stroke="#333" stroke-width="0.5" />
<line x1="741.42" y1="339.60" x2="741.42" y2="338.60" stroke="#333" stroke-width="0.5" />
<line x1="743.46" y1="339.60" x2="743.46" y2="337.93" stroke="#333" stroke-width="0.5" />
<line x1="744.52" y1="339.60" x2="744.52" y2="338.64" stroke="#333" stroke-width="0.5" />
<line x1="745.84" y1="339.60" x2="745.84" y2="338.64" stroke="#333" stroke-width="0.5" />
<line x1="746.65" y1="339.60" x2="746.65" y2="338.32" stroke="#333" stroke-width="0.5" />
<line x1="747.95" y1="339.60" x2="747.95" y2="338.59" stroke="#333" stroke-width="0.5" />
<line x1="750.25" y1="339.60" x2="750.25" y2="338.00" stroke="#333" stroke-width="0.5" />
<line x1="752.63" y1="339.60" x2="752.63" y2="338.62" stroke="#333" stroke-width="0.5" />
<line x1="754.45" y1="339.60" x2="754.45" y2="337.93" stroke="#333" stroke-width="0.5" />
<line x1="756.06" y1="339.60" x2="756.06" y2="338.02" stroke="#333" stroke-width="0.5" />
<line x1="758.38" y1="339.60" x2="758.38" y2="337.99" stroke="#333" stroke-width="0.5" />
<line x1="760.04" y1="339.60" x2="760.04" y2="337.60" stroke="#333" stroke-width="0.5" />
<line x1="762.37" y1="339.60" x2="762.37" y2="338.44" stroke="#333" stroke-width="0.5" />
<line x1="763.67" y1="339.60" x2="763.67" y2="338.35" stroke="#333" stroke-width="0.5" />
<line x1="765.35" y1="339.60" x2="765.35" y2="337.78" stroke="#333" stroke-width="0.5" />
<line x1="766.44" y1="339.60" x2="766.44" y2="338.05" stroke="#333" stroke-width="0.5" />
<line x1="767.89" y1="339.60" x2="767.89" y2="338.68" stroke="#333" stroke-width="0.5" />
<line x1="770.27" y1="339.60" x2="770.27" y2="338.02" stroke="#333" stroke-width="0.5" />
<line x1="771.21" y1="339.60" x2="771.21" y2="338.57" stroke="#333" stroke-width="0.5" />
<line x1="772.14" y1="339.60" x2="772.14" y2="338.52" stroke="#333" stroke-width="0.5" />
<line x1="773.61" y1="339.60" x2="773.61" y2="338.69" stroke="#333" stroke-width="0.5" />
<line x1="775.93" y1="339.60" x2="775.93" y2="338.30" stroke="#333" stroke-width="0.5" />
<line x1="490.60" y1="339.60" x2="627.60" y2="339.60" stroke="#6a1e4e" stroke-width="1.4" />
<line x1="628.30" y1="341.50" x2="633.90" y2="335.80" stroke="#2a2a2a" stroke-width="0.8" />
<line x1="630.20" y1="342.90" x2="635.80" y2="337.20" stroke="#2a2a2a" stroke-width="0.8" />
<line x1="636.50" y1="339.60" x2="777.10" y2="339.60" stroke="#6a1e4e" stroke-width="1.4" />
<line x1="500.50" y1="339.60" x2="500.50" y2="297.70" stroke="#1e1e1e" stroke-width="0.9" />
<line x1="513.80" y1="339.60" x2="513.80" y2="262.70" stroke="#1e1e1e" stroke-width="0.9" />
<line x1="527.50" y1="339.60" x2="527.50" y2="291.30" stroke="#1e1e1e" stroke-width="0.9" />
<line x1="540.80" y1="339.60" x2="540.80" y2="321.50" stroke="#1e1e1e" stroke-width="0.9" />
<line x1="549.70" y1="339.60" x2="549.70" y2="333.00" stroke="#1e1e1e" stroke-width="0.9" />
<line x1="554.50" y1="339.60" x2="554.50" y2="331.00" stroke="#1e1e1e" stroke-width="0.9" />
<line x1="563.00" y1="339.60" x2="563.00" y2="335.50" stroke="#1e1e1e" stroke-width="0.9" />
<line x1="567.70" y1="339.60" x2="567.70" y2="319.90" stroke="#1e1e1e" stroke-width="0.9" />
<line x1="574.70" y1="339.60" x2="574.70" y2="277.60" stroke="#1e1e1e" stroke-width="0.9" />
<line x1="578.00" y1="339.60" x2="578.00" y2="335.00" stroke="#1e1e1e" stroke-width="0.9" />
<line x1="581.40" y1="339.60" x2="581.40" y2="240.20" stroke="#1e1e1e" stroke-width="0.9" />
<line x1="588.00" y1="339.60" x2="588.00" y2="254.80" stroke="#1e1e1e" stroke-width="0.9" />
<line x1="594.70" y1="339.60" x2="594.70" y2="274.50" stroke="#1e1e1e" stroke-width="0.9" />
<line x1="601.70" y1="339.60" x2="601.70" y2="300.50" stroke="#1e1e1e" stroke-width="0.9" />
<line x1="608.00" y1="339.60" x2="608.00" y2="324.30" stroke="#1e1e1e" stroke-width="0.9" />
<line x1="662.50" y1="339.60" x2="662.50" y2="334.00" stroke="#1e1e1e" stroke-width="0.9" />
<line x1="667.60" y1="339.60" x2="667.60" y2="335.00" stroke="#1e1e1e" stroke-width="0.9" />
<line x1="688.00" y1="339.60" x2="688.00" y2="335.50" stroke="#1e1e1e" stroke-width="0.9" />
<line x1="699.00" y1="339.60" x2="699.00" y2="335.50" stroke="#1e1e1e" stroke-width="0.9" />
<line x1="727.50" y1="339.60" x2="727.50" y2="334.00" stroke="#1e1e1e" stroke-width="0.9" />
<line x1="736.00" y1="339.60" x2="736.00" y2="335.50" stroke="#1e1e1e" stroke-width="0.9" />
<line x1="743.50" y1="339.60" x2="743.50" y2="334.00" stroke="#1e1e1e" stroke-width="0.9" />
<line x1="757.50" y1="339.60" x2="757.50" y2="336.00" stroke="#1e1e1e" stroke-width="0.9" />
<line x1="764.00" y1="339.60" x2="764.00" y2="335.50" stroke="#1e1e1e" stroke-width="0.9" />
<line x1="535.30" y1="339.60" x2="535.30" y2="343.60" stroke="#999" stroke-width="0.7" />
<line x1="616.10" y1="339.60" x2="616.10" y2="343.60" stroke="#999" stroke-width="0.7" />
<line x1="644.80" y1="339.60" x2="644.80" y2="343.60" stroke="#999" stroke-width="0.7" />
<line x1="725.80" y1="339.60" x2="725.80" y2="343.60" stroke="#999" stroke-width="0.7" />
<text x="531.42" y="352.80" font-family="Liberation Sans" font-size="7.0" fill="#404040" textLength="9.27" lengthAdjust="spacingAndGlyphs">802</text>
<text x="612.02" y="352.80" font-family="Liberation Sans" font-size="7.0" fill="#404040" textLength="9.27" lengthAdjust="spacingAndGlyphs">804</text>
<text x="640.62" y="352.80" font-family="Liberation Sans" font-size="7.0" fill="#404040" textLength="9.27" lengthAdjust="spacingAndGlyphs">814</text>
<text x="720.92" y="352.80" font-family="Liberation Sans" font-size="7.0" fill="#404040" textLength="9.27" lengthAdjust="spacingAndGlyphs">816</text>
<text x="509.93" y="259.80" font-family="Liberation Sans" font-size="6.60" fill="#1a1a1a" textLength="19.49" lengthAdjust="spacingAndGlyphs"  >Y24 (+3)</text>
<text x="582.98" y="242.60" font-family="Liberation Sans" font-size="6.60" fill="#e0901c" textLength="19.33" lengthAdjust="spacingAndGlyphs"  >B46 (+6)</text>
<text x="576.57" y="330.10" font-family="Liberation Sans" font-size="6.60" fill="#c0404a" textLength="25.53" lengthAdjust="spacingAndGlyphs"  >B130 (+17)</text>
<text x="0.52" y="16.60" font-family="Liberation Serif" font-size="17.00" fill="#333" >A</text>
<text x="388.48" y="193.00" font-family="Liberation Serif" font-size="7.29" fill="#333" >mass (Da)</text>
<polyline points="48.4,152 48.4,13.8 72,13.8" fill="none" stroke="#c4c4c4" stroke-width="0.9" stroke-dasharray="1 1.1"/>
<polyline points="102,13.8 132.2,13.8 132.2,156" fill="none" stroke="#eec47a" stroke-width="0.9" stroke-dasharray="1 1.1"/>
<polyline points="105.4,151 105.4,18.6 135.5,18.6" fill="none" stroke="#c4c4c4" stroke-width="0.9" stroke-dasharray="1 1.1"/>
<polyline points="165.5,18.6 188.2,18.6 188.2,159" fill="none" stroke="#eec47a" stroke-width="0.9" stroke-dasharray="1 1.1"/>
<polyline points="32.4,171 32.4,142.4 56.5,142.4" fill="none" stroke="#c4c4c4" stroke-width="0.9" stroke-dasharray="1 1.1"/>
<polyline points="87,142.4 116.5,142.4 116.5,172" fill="none" stroke="#eec47a" stroke-width="0.9" stroke-dasharray="1 1.1"/>
<polyline points="260.5,161 260.5,37.4 288.5,37.4" fill="none" stroke="#c4c4c4" stroke-width="0.9" stroke-dasharray="1 1.1"/>
<polyline points="319,37.4 343.1,37.4 343.1,164" fill="none" stroke="#eec47a" stroke-width="0.9" stroke-dasharray="1 1.1"/>
<polyline points="272.3,172.7 272.3,156 309,156" fill="none" stroke="#c4c4c4" stroke-width="0.9" stroke-dasharray="1 1.1"/>
<polyline points="341,156 356.6,156 356.6,170" fill="none" stroke="#eec47a" stroke-width="0.9" stroke-dasharray="1 1.1"/>
<text x="72.13" y="15.60" font-family="Liberation Serif" font-size="11.15" fill="#333" >H2A.1</text>
<text x="135.53" y="20.80" font-family="Liberation Serif" font-size="11.19" fill="#333" >H2A.2</text>
<text x="56.62" y="144.70" font-family="Liberation Serif" font-size="11.31" fill="#333" >H2A.0</text>
<text x="288.42" y="39.20" font-family="Liberation Serif" font-size="11.46" fill="#333" >H2A.3</text>
<text x="290.23" y="52.20" font-family="Liberation Serif" font-size="11.08" fill="#e0452c" >N&#945;-ac</text>
<text x="309.22" y="158.40" font-family="Liberation Serif" font-size="11.36" fill="#333" >H2A.4</text>
<text x="224.02" y="83.80" font-family="Liberation Serif" font-size="11.39" fill="#222" >H2A.3</text>
<text x="222.02" y="97.10" font-family="Liberation Serif" font-size="11.34" fill="#b0b0b0" >&#916;N&#945;-ac</text>
<text x="347.53" y="87.20" font-family="Liberation Serif" font-size="11.20" fill="#333" >H2A.3</text>
<text x="348.11" y="100.90" font-family="Liberation Serif" font-size="11.26" fill="#e8a030" >mono-</text>
<text x="348.52" y="112.70" font-family="Liberation Serif" font-size="11.27" fill="#e8a030" >acetyl</text>
<text x="410.12" y="16.70" font-family="Liberation Serif" font-size="17.30" fill="#333" >B</text>
<text x="579.81" y="8.70" font-family="Liberation Serif" font-size="11.23" fill="#e0452c" >unacetylated</text>
<text x="687.92" y="30.50" font-family="Liberation Serif" font-size="11.45" fill="#333" >H2A.Z</text>
<text x="620.21" y="62.70" font-family="Liberation Serif" font-size="11.27" fill="#eaa93a" >monoacetylated</text>
<text x="654.13" y="79.00" font-family="Liberation Serif" font-size="11.18" fill="#9c9a35" >diacetylated</text>
<text x="686.21" y="97.80" font-family="Liberation Serif" font-size="11.27" fill="#5f9a3a" >triacetylated</text>
<text x="719.31" y="114.10" font-family="Liberation Serif" font-size="11.17" fill="#2a55cc" >tetraacetylated</text>
<text x="527.21" y="84.70" font-family="Liberation Serif" font-size="11.13" fill="#e0452c" >unacetylated</text>
<text x="530.03" y="98.70" font-family="Liberation Serif" font-size="11.12" fill="#333" >H2A.Z&#916;143</text>
<text x="424.52" y="127.20" font-family="Liberation Serif" font-size="11.09" fill="#e0452c" >unacetylated</text>
<text x="417.83" y="141.00" font-family="Liberation Serif" font-size="11.14" fill="#333" >H2A.Z&#916;142-143</text>
<text x="0.03" y="214.90" font-family="Liberation Serif" font-size="17.50" fill="#333" >C</text>
<text x="108.23" y="216.70" font-family="Liberation Serif" font-size="11.20" fill="#333" >H2A.1</text>
<text x="357.03" y="217.70" font-family="Liberation Serif" font-size="11.20" fill="#333" >H2A.2</text>
<text x="630.63" y="213.70" font-family="Liberation Serif" font-size="11.20" fill="#333" >H2A.3</text>
</svg></body></html>
